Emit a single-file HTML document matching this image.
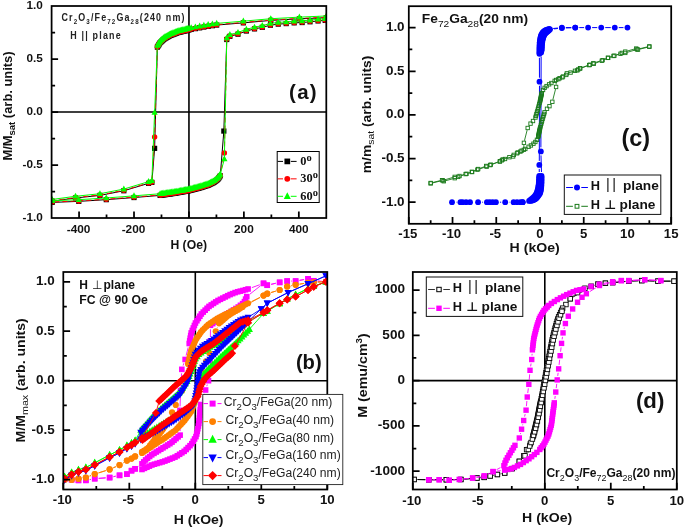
<!DOCTYPE html>
<html lang="en">
<head>
<meta charset="utf-8">
<title>Hysteresis loops</title>
<style>html,body{margin:0;padding:0;background:#fff}body{width:685px;height:528px;overflow:hidden}svg text{white-space:pre}</style>
</head>
<body>
<svg width="685" height="528" viewBox="0 0 685 528" style="display:block">
<rect width="685" height="528" fill="#fff"/>
<path d="M51.6 112H326.3M188.95 6V218" stroke="#000" stroke-width="1.6" fill="none"/>
<clipPath id="ca"><rect x="51.6" y="6" width="274.7" height="212"/></clipPath><g clip-path="url(#ca)">
<path d="M326.3 17.66L299.38 18.83L270.81 20.42L243.34 22.85L216.69 25.08L212.42 25.72L208.15 26.37L203.89 27.06L199.64 27.85L195.39 28.64L191.15 29.43L188.95 29.96L187.7 30.26L186.45 30.56L185.2 30.86L183.95 31.16L182.7 31.46L181.46 31.76L180.21 32.06L178.96 32.37L177.72 32.7L176.52 33.16L175.32 33.62L174.12 34.09L172.92 34.55L171.73 35.01L170.53 35.48L169.36 36L168.24 36.64L167.13 37.28L166.02 37.93L164.91 38.57L163.86 39.3L162.9 40.16L161.95 41.02L160.99 41.88L160.06 42.75L159.38 43.85L158.71 44.94L158.03 46.03L157.36 47.13L154.61 148.36L151.87 182.38L148.57 183.34L123.85 190.76L99.95 195.42L75.5 197.97L52.15 201.15L52.15 202.42L78.8 201.36L106.27 199.66L134.01 197.54L160.11 195.42L161.39 195.23L162.68 195.04L163.96 194.85L165.24 194.67L166.53 194.48L167.81 194.29L169.1 194.1L170.38 193.91L171.67 193.72L172.95 193.53L174.23 193.34L175.52 193.14L176.79 192.92L178.07 192.69L179.35 192.46L180.63 192.23L181.91 192.01L183.19 191.78L184.46 191.55L185.74 191.33L187.02 191.1L188.3 190.87L189.57 190.6L190.82 190.27L192.08 189.94L193.33 189.62L194.59 189.29L195.85 188.96L197.1 188.63L198.36 188.31L199.62 187.98L200.86 187.6L202.09 187.2L203.33 186.81L204.56 186.41L205.8 186.01L207.04 185.61L208.27 185.2L209.44 184.64L210.61 184.08L211.77 183.51L212.94 182.95L214.06 182.3L215.09 181.5L216.11 180.71L217.14 179.92L218.06 179.02L218.8 177.95L219.53 176.88L220.27 175.81L223.84 131.08L226.75 39.5L229.88 36.32L237.98 34.2L246.36 31.02L254.52 28.9L262.29 27.31L270.4 25.19L278.23 24.13L286.19 23.6L294.16 22.85L302.13 22.54L310.01 21.79L318.06 20.95L325.2 20.42" fill="none" stroke="#000" stroke-width="1"/>
<g><rect x="323.7" y="15.06" width="5.2" height="5.2" fill="#000"/><rect x="296.78" y="16.23" width="5.2" height="5.2" fill="#000"/><rect x="268.21" y="17.82" width="5.2" height="5.2" fill="#000"/><rect x="240.74" y="20.25" width="5.2" height="5.2" fill="#000"/><rect x="214.09" y="22.48" width="5.2" height="5.2" fill="#000"/><rect x="209.82" y="23.12" width="5.2" height="5.2" fill="#000"/><rect x="205.55" y="23.77" width="5.2" height="5.2" fill="#000"/><rect x="201.29" y="24.46" width="5.2" height="5.2" fill="#000"/><rect x="197.04" y="25.25" width="5.2" height="5.2" fill="#000"/><rect x="192.79" y="26.04" width="5.2" height="5.2" fill="#000"/><rect x="188.55" y="26.83" width="5.2" height="5.2" fill="#000"/><rect x="186.35" y="27.36" width="5.2" height="5.2" fill="#000"/><rect x="185.1" y="27.66" width="5.2" height="5.2" fill="#000"/><rect x="183.85" y="27.96" width="5.2" height="5.2" fill="#000"/><rect x="182.6" y="28.26" width="5.2" height="5.2" fill="#000"/><rect x="181.35" y="28.56" width="5.2" height="5.2" fill="#000"/><rect x="180.1" y="28.86" width="5.2" height="5.2" fill="#000"/><rect x="178.86" y="29.16" width="5.2" height="5.2" fill="#000"/><rect x="177.61" y="29.46" width="5.2" height="5.2" fill="#000"/><rect x="176.36" y="29.77" width="5.2" height="5.2" fill="#000"/><rect x="175.12" y="30.1" width="5.2" height="5.2" fill="#000"/><rect x="173.92" y="30.56" width="5.2" height="5.2" fill="#000"/><rect x="172.72" y="31.02" width="5.2" height="5.2" fill="#000"/><rect x="171.52" y="31.49" width="5.2" height="5.2" fill="#000"/><rect x="170.32" y="31.95" width="5.2" height="5.2" fill="#000"/><rect x="169.13" y="32.41" width="5.2" height="5.2" fill="#000"/><rect x="167.93" y="32.88" width="5.2" height="5.2" fill="#000"/><rect x="166.76" y="33.4" width="5.2" height="5.2" fill="#000"/><rect x="165.64" y="34.04" width="5.2" height="5.2" fill="#000"/><rect x="164.53" y="34.68" width="5.2" height="5.2" fill="#000"/><rect x="163.42" y="35.33" width="5.2" height="5.2" fill="#000"/><rect x="162.31" y="35.97" width="5.2" height="5.2" fill="#000"/><rect x="161.26" y="36.7" width="5.2" height="5.2" fill="#000"/><rect x="160.3" y="37.56" width="5.2" height="5.2" fill="#000"/><rect x="159.35" y="38.42" width="5.2" height="5.2" fill="#000"/><rect x="158.39" y="39.28" width="5.2" height="5.2" fill="#000"/><rect x="157.46" y="40.15" width="5.2" height="5.2" fill="#000"/><rect x="156.78" y="41.25" width="5.2" height="5.2" fill="#000"/><rect x="156.11" y="42.34" width="5.2" height="5.2" fill="#000"/><rect x="155.43" y="43.43" width="5.2" height="5.2" fill="#000"/><rect x="154.76" y="44.53" width="5.2" height="5.2" fill="#000"/><rect x="152.01" y="145.76" width="5.2" height="5.2" fill="#000"/><rect x="149.27" y="179.78" width="5.2" height="5.2" fill="#000"/><rect x="145.97" y="180.74" width="5.2" height="5.2" fill="#000"/><rect x="121.25" y="188.16" width="5.2" height="5.2" fill="#000"/><rect x="97.35" y="192.82" width="5.2" height="5.2" fill="#000"/><rect x="72.9" y="195.37" width="5.2" height="5.2" fill="#000"/><rect x="49.55" y="198.55" width="5.2" height="5.2" fill="#000"/><rect x="49.55" y="199.82" width="5.2" height="5.2" fill="#000"/><rect x="76.2" y="198.76" width="5.2" height="5.2" fill="#000"/><rect x="103.67" y="197.06" width="5.2" height="5.2" fill="#000"/><rect x="131.41" y="194.94" width="5.2" height="5.2" fill="#000"/><rect x="157.51" y="192.82" width="5.2" height="5.2" fill="#000"/><rect x="158.79" y="192.63" width="5.2" height="5.2" fill="#000"/><rect x="160.08" y="192.44" width="5.2" height="5.2" fill="#000"/><rect x="161.36" y="192.25" width="5.2" height="5.2" fill="#000"/><rect x="162.64" y="192.07" width="5.2" height="5.2" fill="#000"/><rect x="163.93" y="191.88" width="5.2" height="5.2" fill="#000"/><rect x="165.21" y="191.69" width="5.2" height="5.2" fill="#000"/><rect x="166.5" y="191.5" width="5.2" height="5.2" fill="#000"/><rect x="167.78" y="191.31" width="5.2" height="5.2" fill="#000"/><rect x="169.07" y="191.12" width="5.2" height="5.2" fill="#000"/><rect x="170.35" y="190.93" width="5.2" height="5.2" fill="#000"/><rect x="171.63" y="190.74" width="5.2" height="5.2" fill="#000"/><rect x="172.92" y="190.54" width="5.2" height="5.2" fill="#000"/><rect x="174.19" y="190.32" width="5.2" height="5.2" fill="#000"/><rect x="175.47" y="190.09" width="5.2" height="5.2" fill="#000"/><rect x="176.75" y="189.86" width="5.2" height="5.2" fill="#000"/><rect x="178.03" y="189.63" width="5.2" height="5.2" fill="#000"/><rect x="179.31" y="189.41" width="5.2" height="5.2" fill="#000"/><rect x="180.59" y="189.18" width="5.2" height="5.2" fill="#000"/><rect x="181.86" y="188.95" width="5.2" height="5.2" fill="#000"/><rect x="183.14" y="188.73" width="5.2" height="5.2" fill="#000"/><rect x="184.42" y="188.5" width="5.2" height="5.2" fill="#000"/><rect x="185.7" y="188.27" width="5.2" height="5.2" fill="#000"/><rect x="186.97" y="188" width="5.2" height="5.2" fill="#000"/><rect x="188.22" y="187.67" width="5.2" height="5.2" fill="#000"/><rect x="189.48" y="187.34" width="5.2" height="5.2" fill="#000"/><rect x="190.73" y="187.02" width="5.2" height="5.2" fill="#000"/><rect x="191.99" y="186.69" width="5.2" height="5.2" fill="#000"/><rect x="193.25" y="186.36" width="5.2" height="5.2" fill="#000"/><rect x="194.5" y="186.03" width="5.2" height="5.2" fill="#000"/><rect x="195.76" y="185.71" width="5.2" height="5.2" fill="#000"/><rect x="197.02" y="185.38" width="5.2" height="5.2" fill="#000"/><rect x="198.26" y="185" width="5.2" height="5.2" fill="#000"/><rect x="199.49" y="184.6" width="5.2" height="5.2" fill="#000"/><rect x="200.73" y="184.21" width="5.2" height="5.2" fill="#000"/><rect x="201.96" y="183.81" width="5.2" height="5.2" fill="#000"/><rect x="203.2" y="183.41" width="5.2" height="5.2" fill="#000"/><rect x="204.44" y="183.01" width="5.2" height="5.2" fill="#000"/><rect x="205.67" y="182.6" width="5.2" height="5.2" fill="#000"/><rect x="206.84" y="182.04" width="5.2" height="5.2" fill="#000"/><rect x="208.01" y="181.48" width="5.2" height="5.2" fill="#000"/><rect x="209.17" y="180.91" width="5.2" height="5.2" fill="#000"/><rect x="210.34" y="180.35" width="5.2" height="5.2" fill="#000"/><rect x="211.46" y="179.7" width="5.2" height="5.2" fill="#000"/><rect x="212.49" y="178.9" width="5.2" height="5.2" fill="#000"/><rect x="213.51" y="178.11" width="5.2" height="5.2" fill="#000"/><rect x="214.54" y="177.32" width="5.2" height="5.2" fill="#000"/><rect x="215.46" y="176.42" width="5.2" height="5.2" fill="#000"/><rect x="216.2" y="175.35" width="5.2" height="5.2" fill="#000"/><rect x="216.93" y="174.28" width="5.2" height="5.2" fill="#000"/><rect x="217.67" y="173.21" width="5.2" height="5.2" fill="#000"/><rect x="221.24" y="128.48" width="5.2" height="5.2" fill="#000"/><rect x="224.15" y="36.9" width="5.2" height="5.2" fill="#000"/><rect x="227.28" y="33.72" width="5.2" height="5.2" fill="#000"/><rect x="235.38" y="31.6" width="5.2" height="5.2" fill="#000"/><rect x="243.76" y="28.42" width="5.2" height="5.2" fill="#000"/><rect x="251.92" y="26.3" width="5.2" height="5.2" fill="#000"/><rect x="259.69" y="24.71" width="5.2" height="5.2" fill="#000"/><rect x="267.8" y="22.59" width="5.2" height="5.2" fill="#000"/><rect x="275.63" y="21.53" width="5.2" height="5.2" fill="#000"/><rect x="283.59" y="21" width="5.2" height="5.2" fill="#000"/><rect x="291.56" y="20.25" width="5.2" height="5.2" fill="#000"/><rect x="299.53" y="19.94" width="5.2" height="5.2" fill="#000"/><rect x="307.41" y="19.19" width="5.2" height="5.2" fill="#000"/><rect x="315.46" y="18.35" width="5.2" height="5.2" fill="#000"/><rect x="322.6" y="17.82" width="5.2" height="5.2" fill="#000"/></g>
<path d="M326.3 17.24L299.38 18.4L270.81 19.99L243.34 22.43L216.69 24.66L212.42 25.3L208.15 25.94L203.89 26.64L199.64 27.43L195.39 28.21L191.15 29L188.95 29.53L187.7 29.83L186.45 30.13L185.2 30.44L183.95 30.74L182.7 31.04L181.46 31.34L180.21 31.64L178.96 31.94L177.72 32.28L176.52 32.74L175.32 33.2L174.12 33.66L172.92 34.13L171.73 34.59L170.53 35.05L169.36 35.57L168.24 36.22L167.13 36.86L166.02 37.5L164.91 38.15L163.86 38.87L162.9 39.73L161.95 40.59L160.99 41.45L160.06 42.33L159.38 43.42L158.71 44.52L158.03 45.61L157.36 46.7L154.61 136.91L151.87 181.96L148.57 182.91L123.85 190.33L99.95 195L75.5 197.54L52.15 200.72L52.15 201.99L78.8 200.93L106.27 199.24L134.01 197.12L160.11 195L161.39 194.81L162.68 194.62L163.96 194.43L165.24 194.24L166.53 194.05L167.81 193.86L169.1 193.67L170.38 193.48L171.67 193.3L172.95 193.11L174.23 192.92L175.52 192.72L176.79 192.49L178.07 192.26L179.35 192.04L180.63 191.81L181.91 191.58L183.19 191.36L184.46 191.13L185.74 190.9L187.02 190.68L188.3 190.45L189.57 190.17L190.82 189.85L192.08 189.52L193.33 189.19L194.59 188.86L195.85 188.54L197.1 188.21L198.36 187.88L199.62 187.56L200.86 187.18L202.09 186.78L203.33 186.38L204.56 185.98L205.8 185.59L207.04 185.19L208.27 184.78L209.44 184.22L210.61 183.65L211.77 183.09L212.94 182.52L214.06 181.87L215.09 181.08L216.11 180.29L217.14 179.49L218.06 178.6L218.8 177.53L219.53 176.46L220.27 175.39L224.39 152.92L226.75 39.07L229.88 35.89L237.98 33.77L246.36 30.59L254.52 28.47L262.29 26.88L270.4 24.76L278.23 23.7L286.19 23.17L294.16 22.43L302.13 22.11L310.01 21.37L318.06 20.52L325.2 19.99" fill="none" stroke="#ff0000" stroke-width="1" stroke-dasharray="5 3"/>
<g><circle cx="326.3" cy="17.24" r="2.7" fill="#ff0000"/><circle cx="299.38" cy="18.4" r="2.7" fill="#ff0000"/><circle cx="270.81" cy="19.99" r="2.7" fill="#ff0000"/><circle cx="243.34" cy="22.43" r="2.7" fill="#ff0000"/><circle cx="216.69" cy="24.66" r="2.7" fill="#ff0000"/><circle cx="212.42" cy="25.3" r="2.7" fill="#ff0000"/><circle cx="208.15" cy="25.94" r="2.7" fill="#ff0000"/><circle cx="203.89" cy="26.64" r="2.7" fill="#ff0000"/><circle cx="199.64" cy="27.43" r="2.7" fill="#ff0000"/><circle cx="195.39" cy="28.21" r="2.7" fill="#ff0000"/><circle cx="191.15" cy="29" r="2.7" fill="#ff0000"/><circle cx="188.95" cy="29.53" r="2.7" fill="#ff0000"/><circle cx="187.7" cy="29.83" r="2.7" fill="#ff0000"/><circle cx="186.45" cy="30.13" r="2.7" fill="#ff0000"/><circle cx="185.2" cy="30.44" r="2.7" fill="#ff0000"/><circle cx="183.95" cy="30.74" r="2.7" fill="#ff0000"/><circle cx="182.7" cy="31.04" r="2.7" fill="#ff0000"/><circle cx="181.46" cy="31.34" r="2.7" fill="#ff0000"/><circle cx="180.21" cy="31.64" r="2.7" fill="#ff0000"/><circle cx="178.96" cy="31.94" r="2.7" fill="#ff0000"/><circle cx="177.72" cy="32.28" r="2.7" fill="#ff0000"/><circle cx="176.52" cy="32.74" r="2.7" fill="#ff0000"/><circle cx="175.32" cy="33.2" r="2.7" fill="#ff0000"/><circle cx="174.12" cy="33.66" r="2.7" fill="#ff0000"/><circle cx="172.92" cy="34.13" r="2.7" fill="#ff0000"/><circle cx="171.73" cy="34.59" r="2.7" fill="#ff0000"/><circle cx="170.53" cy="35.05" r="2.7" fill="#ff0000"/><circle cx="169.36" cy="35.57" r="2.7" fill="#ff0000"/><circle cx="168.24" cy="36.22" r="2.7" fill="#ff0000"/><circle cx="167.13" cy="36.86" r="2.7" fill="#ff0000"/><circle cx="166.02" cy="37.5" r="2.7" fill="#ff0000"/><circle cx="164.91" cy="38.15" r="2.7" fill="#ff0000"/><circle cx="163.86" cy="38.87" r="2.7" fill="#ff0000"/><circle cx="162.9" cy="39.73" r="2.7" fill="#ff0000"/><circle cx="161.95" cy="40.59" r="2.7" fill="#ff0000"/><circle cx="160.99" cy="41.45" r="2.7" fill="#ff0000"/><circle cx="160.06" cy="42.33" r="2.7" fill="#ff0000"/><circle cx="159.38" cy="43.42" r="2.7" fill="#ff0000"/><circle cx="158.71" cy="44.52" r="2.7" fill="#ff0000"/><circle cx="158.03" cy="45.61" r="2.7" fill="#ff0000"/><circle cx="157.36" cy="46.7" r="2.7" fill="#ff0000"/><circle cx="154.61" cy="136.91" r="2.7" fill="#ff0000"/><circle cx="151.87" cy="181.96" r="2.7" fill="#ff0000"/><circle cx="148.57" cy="182.91" r="2.7" fill="#ff0000"/><circle cx="123.85" cy="190.33" r="2.7" fill="#ff0000"/><circle cx="99.95" cy="195" r="2.7" fill="#ff0000"/><circle cx="75.5" cy="197.54" r="2.7" fill="#ff0000"/><circle cx="52.15" cy="200.72" r="2.7" fill="#ff0000"/><circle cx="52.15" cy="201.99" r="2.7" fill="#ff0000"/><circle cx="78.8" cy="200.93" r="2.7" fill="#ff0000"/><circle cx="106.27" cy="199.24" r="2.7" fill="#ff0000"/><circle cx="134.01" cy="197.12" r="2.7" fill="#ff0000"/><circle cx="160.11" cy="195" r="2.7" fill="#ff0000"/><circle cx="161.39" cy="194.81" r="2.7" fill="#ff0000"/><circle cx="162.68" cy="194.62" r="2.7" fill="#ff0000"/><circle cx="163.96" cy="194.43" r="2.7" fill="#ff0000"/><circle cx="165.24" cy="194.24" r="2.7" fill="#ff0000"/><circle cx="166.53" cy="194.05" r="2.7" fill="#ff0000"/><circle cx="167.81" cy="193.86" r="2.7" fill="#ff0000"/><circle cx="169.1" cy="193.67" r="2.7" fill="#ff0000"/><circle cx="170.38" cy="193.48" r="2.7" fill="#ff0000"/><circle cx="171.67" cy="193.3" r="2.7" fill="#ff0000"/><circle cx="172.95" cy="193.11" r="2.7" fill="#ff0000"/><circle cx="174.23" cy="192.92" r="2.7" fill="#ff0000"/><circle cx="175.52" cy="192.72" r="2.7" fill="#ff0000"/><circle cx="176.79" cy="192.49" r="2.7" fill="#ff0000"/><circle cx="178.07" cy="192.26" r="2.7" fill="#ff0000"/><circle cx="179.35" cy="192.04" r="2.7" fill="#ff0000"/><circle cx="180.63" cy="191.81" r="2.7" fill="#ff0000"/><circle cx="181.91" cy="191.58" r="2.7" fill="#ff0000"/><circle cx="183.19" cy="191.36" r="2.7" fill="#ff0000"/><circle cx="184.46" cy="191.13" r="2.7" fill="#ff0000"/><circle cx="185.74" cy="190.9" r="2.7" fill="#ff0000"/><circle cx="187.02" cy="190.68" r="2.7" fill="#ff0000"/><circle cx="188.3" cy="190.45" r="2.7" fill="#ff0000"/><circle cx="189.57" cy="190.17" r="2.7" fill="#ff0000"/><circle cx="190.82" cy="189.85" r="2.7" fill="#ff0000"/><circle cx="192.08" cy="189.52" r="2.7" fill="#ff0000"/><circle cx="193.33" cy="189.19" r="2.7" fill="#ff0000"/><circle cx="194.59" cy="188.86" r="2.7" fill="#ff0000"/><circle cx="195.85" cy="188.54" r="2.7" fill="#ff0000"/><circle cx="197.1" cy="188.21" r="2.7" fill="#ff0000"/><circle cx="198.36" cy="187.88" r="2.7" fill="#ff0000"/><circle cx="199.62" cy="187.56" r="2.7" fill="#ff0000"/><circle cx="200.86" cy="187.18" r="2.7" fill="#ff0000"/><circle cx="202.09" cy="186.78" r="2.7" fill="#ff0000"/><circle cx="203.33" cy="186.38" r="2.7" fill="#ff0000"/><circle cx="204.56" cy="185.98" r="2.7" fill="#ff0000"/><circle cx="205.8" cy="185.59" r="2.7" fill="#ff0000"/><circle cx="207.04" cy="185.19" r="2.7" fill="#ff0000"/><circle cx="208.27" cy="184.78" r="2.7" fill="#ff0000"/><circle cx="209.44" cy="184.22" r="2.7" fill="#ff0000"/><circle cx="210.61" cy="183.65" r="2.7" fill="#ff0000"/><circle cx="211.77" cy="183.09" r="2.7" fill="#ff0000"/><circle cx="212.94" cy="182.52" r="2.7" fill="#ff0000"/><circle cx="214.06" cy="181.87" r="2.7" fill="#ff0000"/><circle cx="215.09" cy="181.08" r="2.7" fill="#ff0000"/><circle cx="216.11" cy="180.29" r="2.7" fill="#ff0000"/><circle cx="217.14" cy="179.49" r="2.7" fill="#ff0000"/><circle cx="218.06" cy="178.6" r="2.7" fill="#ff0000"/><circle cx="218.8" cy="177.53" r="2.7" fill="#ff0000"/><circle cx="219.53" cy="176.46" r="2.7" fill="#ff0000"/><circle cx="220.27" cy="175.39" r="2.7" fill="#ff0000"/><circle cx="224.39" cy="152.92" r="2.7" fill="#ff0000"/><circle cx="226.75" cy="39.07" r="2.7" fill="#ff0000"/><circle cx="229.88" cy="35.89" r="2.7" fill="#ff0000"/><circle cx="237.98" cy="33.77" r="2.7" fill="#ff0000"/><circle cx="246.36" cy="30.59" r="2.7" fill="#ff0000"/><circle cx="254.52" cy="28.47" r="2.7" fill="#ff0000"/><circle cx="262.29" cy="26.88" r="2.7" fill="#ff0000"/><circle cx="270.4" cy="24.76" r="2.7" fill="#ff0000"/><circle cx="278.23" cy="23.7" r="2.7" fill="#ff0000"/><circle cx="286.19" cy="23.17" r="2.7" fill="#ff0000"/><circle cx="294.16" cy="22.43" r="2.7" fill="#ff0000"/><circle cx="302.13" cy="22.11" r="2.7" fill="#ff0000"/><circle cx="310.01" cy="21.37" r="2.7" fill="#ff0000"/><circle cx="318.06" cy="20.52" r="2.7" fill="#ff0000"/><circle cx="325.2" cy="19.99" r="2.7" fill="#ff0000"/></g>
<path d="M326.3 15.96L299.38 17.13L270.81 18.72L243.34 21.16L216.69 23.38L212.42 24.03L208.15 24.67L203.89 25.37L199.64 26.15L195.39 26.94L191.15 27.73L188.95 28.26L187.7 28.56L186.45 28.86L185.2 29.16L183.95 29.46L182.7 29.77L181.46 30.07L180.21 30.37L178.96 30.67L177.72 31L176.52 31.47L175.32 31.93L174.12 32.39L172.92 32.85L171.73 33.32L170.53 33.78L169.36 34.3L168.24 34.94L167.13 35.59L166.02 36.23L164.91 36.88L163.86 37.6L162.9 38.46L161.95 39.32L160.99 40.18L160.06 41.06L159.38 42.15L158.71 43.25L158.03 44.34L157.36 45.43L154.61 112.53L151.87 180.69L148.57 181.64L123.85 189.06L99.95 193.73L75.5 196.27L52.15 199.45L52.15 200.72L78.8 199.66L106.27 197.97L134.01 195.85L160.11 193.73L161.39 193.54L162.68 193.35L163.96 193.16L165.24 192.97L166.53 192.78L167.81 192.59L169.1 192.4L170.38 192.21L171.67 192.02L172.95 191.83L174.23 191.64L175.52 191.45L176.79 191.22L178.07 190.99L179.35 190.77L180.63 190.54L181.91 190.31L183.19 190.09L184.46 189.86L185.74 189.63L187.02 189.4L188.3 189.18L189.57 188.9L190.82 188.57L192.08 188.25L193.33 187.92L194.59 187.59L195.85 187.27L197.1 186.94L198.36 186.61L199.62 186.28L200.86 185.9L202.09 185.51L203.33 185.11L204.56 184.71L205.8 184.32L207.04 183.92L208.27 183.51L209.44 182.94L210.61 182.38L211.77 181.82L212.94 181.25L214.06 180.6L215.09 179.81L216.11 179.02L217.14 178.22L218.06 177.33L218.8 176.26L219.53 175.19L220.27 174.12L224.39 158.96L226.75 37.8L229.88 34.62L237.98 32.5L246.36 29.32L254.52 27.2L262.29 25.61L270.4 23.49L278.23 22.43L286.19 21.9L294.16 21.16L302.13 20.84L310.01 20.1L318.06 19.25L325.2 18.72" fill="none" stroke="#00ff00" stroke-width="1"/>
<g><path d="M326.3 12.4L329.4 18.29L323.2 18.29Z" fill="#00ff00"/><path d="M299.38 13.56L302.48 19.45L296.28 19.45Z" fill="#00ff00"/><path d="M270.81 15.15L273.91 21.04L267.71 21.04Z" fill="#00ff00"/><path d="M243.34 17.59L246.44 23.48L240.24 23.48Z" fill="#00ff00"/><path d="M216.69 19.82L219.79 25.71L213.59 25.71Z" fill="#00ff00"/><path d="M212.42 20.46L215.52 26.35L209.32 26.35Z" fill="#00ff00"/><path d="M208.15 21.11L211.25 27L205.05 27Z" fill="#00ff00"/><path d="M203.89 21.8L206.99 27.69L200.79 27.69Z" fill="#00ff00"/><path d="M199.64 22.59L202.74 28.48L196.54 28.48Z" fill="#00ff00"/><path d="M195.39 23.38L198.49 29.27L192.29 29.27Z" fill="#00ff00"/><path d="M191.15 24.17L194.25 30.06L188.05 30.06Z" fill="#00ff00"/><path d="M188.95 24.69L192.05 30.58L185.85 30.58Z" fill="#00ff00"/><path d="M187.7 25L190.8 30.89L184.6 30.89Z" fill="#00ff00"/><path d="M186.45 25.3L189.55 31.19L183.35 31.19Z" fill="#00ff00"/><path d="M185.2 25.6L188.3 31.49L182.1 31.49Z" fill="#00ff00"/><path d="M183.95 25.9L187.05 31.79L180.85 31.79Z" fill="#00ff00"/><path d="M182.7 26.2L185.8 32.09L179.6 32.09Z" fill="#00ff00"/><path d="M181.46 26.5L184.56 32.39L178.36 32.39Z" fill="#00ff00"/><path d="M180.21 26.8L183.31 32.69L177.11 32.69Z" fill="#00ff00"/><path d="M178.96 27.1L182.06 32.99L175.86 32.99Z" fill="#00ff00"/><path d="M177.72 27.44L180.82 33.33L174.62 33.33Z" fill="#00ff00"/><path d="M176.52 27.9L179.62 33.79L173.42 33.79Z" fill="#00ff00"/><path d="M175.32 28.36L178.42 34.25L172.22 34.25Z" fill="#00ff00"/><path d="M174.12 28.83L177.22 34.72L171.02 34.72Z" fill="#00ff00"/><path d="M172.92 29.29L176.02 35.18L169.82 35.18Z" fill="#00ff00"/><path d="M171.73 29.75L174.83 35.64L168.63 35.64Z" fill="#00ff00"/><path d="M170.53 30.21L173.63 36.1L167.43 36.1Z" fill="#00ff00"/><path d="M169.36 30.74L172.46 36.63L166.26 36.63Z" fill="#00ff00"/><path d="M168.24 31.38L171.34 37.27L165.14 37.27Z" fill="#00ff00"/><path d="M167.13 32.02L170.23 37.91L164.03 37.91Z" fill="#00ff00"/><path d="M166.02 32.67L169.12 38.56L162.92 38.56Z" fill="#00ff00"/><path d="M164.91 33.31L168.01 39.2L161.81 39.2Z" fill="#00ff00"/><path d="M163.86 34.04L166.96 39.93L160.76 39.93Z" fill="#00ff00"/><path d="M162.9 34.9L166 40.79L159.8 40.79Z" fill="#00ff00"/><path d="M161.95 35.76L165.05 41.65L158.85 41.65Z" fill="#00ff00"/><path d="M160.99 36.62L164.09 42.51L157.89 42.51Z" fill="#00ff00"/><path d="M160.06 37.49L163.16 43.38L156.96 43.38Z" fill="#00ff00"/><path d="M159.38 38.59L162.48 44.48L156.28 44.48Z" fill="#00ff00"/><path d="M158.71 39.68L161.81 45.57L155.61 45.57Z" fill="#00ff00"/><path d="M158.03 40.77L161.13 46.66L154.93 46.66Z" fill="#00ff00"/><path d="M157.36 41.87L160.46 47.76L154.26 47.76Z" fill="#00ff00"/><path d="M154.61 108.97L157.71 114.86L151.51 114.86Z" fill="#00ff00"/><path d="M151.87 177.12L154.97 183.01L148.77 183.01Z" fill="#00ff00"/><path d="M148.57 178.08L151.67 183.97L145.47 183.97Z" fill="#00ff00"/><path d="M123.85 185.5L126.95 191.39L120.75 191.39Z" fill="#00ff00"/><path d="M99.95 190.16L103.05 196.05L96.85 196.05Z" fill="#00ff00"/><path d="M75.5 192.71L78.6 198.59L72.4 198.59Z" fill="#00ff00"/><path d="M52.15 195.88L55.25 201.77L49.05 201.77Z" fill="#00ff00"/><path d="M52.15 197.16L55.25 203.05L49.05 203.05Z" fill="#00ff00"/><path d="M78.8 196.1L81.9 201.99L75.7 201.99Z" fill="#00ff00"/><path d="M106.27 194.4L109.37 200.29L103.17 200.29Z" fill="#00ff00"/><path d="M134.01 192.28L137.11 198.17L130.91 198.17Z" fill="#00ff00"/><path d="M160.11 190.16L163.21 196.05L157.01 196.05Z" fill="#00ff00"/><path d="M161.39 189.97L164.49 195.86L158.29 195.86Z" fill="#00ff00"/><path d="M162.68 189.78L165.78 195.67L159.58 195.67Z" fill="#00ff00"/><path d="M163.96 189.59L167.06 195.48L160.86 195.48Z" fill="#00ff00"/><path d="M165.24 189.4L168.34 195.29L162.14 195.29Z" fill="#00ff00"/><path d="M166.53 189.21L169.63 195.1L163.43 195.1Z" fill="#00ff00"/><path d="M167.81 189.03L170.91 194.92L164.71 194.92Z" fill="#00ff00"/><path d="M169.1 188.84L172.2 194.73L166 194.73Z" fill="#00ff00"/><path d="M170.38 188.65L173.48 194.54L167.28 194.54Z" fill="#00ff00"/><path d="M171.67 188.46L174.77 194.35L168.57 194.35Z" fill="#00ff00"/><path d="M172.95 188.27L176.05 194.16L169.85 194.16Z" fill="#00ff00"/><path d="M174.23 188.08L177.33 193.97L171.13 193.97Z" fill="#00ff00"/><path d="M175.52 187.88L178.62 193.77L172.42 193.77Z" fill="#00ff00"/><path d="M176.79 187.65L179.89 193.54L173.69 193.54Z" fill="#00ff00"/><path d="M178.07 187.43L181.17 193.32L174.97 193.32Z" fill="#00ff00"/><path d="M179.35 187.2L182.45 193.09L176.25 193.09Z" fill="#00ff00"/><path d="M180.63 186.97L183.73 192.86L177.53 192.86Z" fill="#00ff00"/><path d="M181.91 186.75L185.01 192.64L178.81 192.64Z" fill="#00ff00"/><path d="M183.19 186.52L186.29 192.41L180.09 192.41Z" fill="#00ff00"/><path d="M184.46 186.29L187.56 192.18L181.36 192.18Z" fill="#00ff00"/><path d="M185.74 186.07L188.84 191.96L182.64 191.96Z" fill="#00ff00"/><path d="M187.02 185.84L190.12 191.73L183.92 191.73Z" fill="#00ff00"/><path d="M188.3 185.61L191.4 191.5L185.2 191.5Z" fill="#00ff00"/><path d="M189.57 185.34L192.67 191.23L186.47 191.23Z" fill="#00ff00"/><path d="M190.82 185.01L193.92 190.9L187.72 190.9Z" fill="#00ff00"/><path d="M192.08 184.68L195.18 190.57L188.98 190.57Z" fill="#00ff00"/><path d="M193.33 184.36L196.43 190.25L190.23 190.25Z" fill="#00ff00"/><path d="M194.59 184.03L197.69 189.92L191.49 189.92Z" fill="#00ff00"/><path d="M195.85 183.7L198.95 189.59L192.75 189.59Z" fill="#00ff00"/><path d="M197.1 183.37L200.2 189.26L194 189.26Z" fill="#00ff00"/><path d="M198.36 183.05L201.46 188.94L195.26 188.94Z" fill="#00ff00"/><path d="M199.62 182.72L202.72 188.61L196.52 188.61Z" fill="#00ff00"/><path d="M200.86 182.34L203.96 188.23L197.76 188.23Z" fill="#00ff00"/><path d="M202.09 181.94L205.19 187.83L198.99 187.83Z" fill="#00ff00"/><path d="M203.33 181.54L206.43 187.43L200.23 187.43Z" fill="#00ff00"/><path d="M204.56 181.15L207.66 187.04L201.46 187.04Z" fill="#00ff00"/><path d="M205.8 180.75L208.9 186.64L202.7 186.64Z" fill="#00ff00"/><path d="M207.04 180.35L210.14 186.24L203.94 186.24Z" fill="#00ff00"/><path d="M208.27 179.94L211.37 185.83L205.17 185.83Z" fill="#00ff00"/><path d="M209.44 179.38L212.54 185.27L206.34 185.27Z" fill="#00ff00"/><path d="M210.61 178.81L213.71 184.7L207.51 184.7Z" fill="#00ff00"/><path d="M211.77 178.25L214.87 184.14L208.67 184.14Z" fill="#00ff00"/><path d="M212.94 177.69L216.04 183.58L209.84 183.58Z" fill="#00ff00"/><path d="M214.06 177.04L217.16 182.93L210.96 182.93Z" fill="#00ff00"/><path d="M215.09 176.24L218.19 182.13L211.99 182.13Z" fill="#00ff00"/><path d="M216.11 175.45L219.21 181.34L213.01 181.34Z" fill="#00ff00"/><path d="M217.14 174.66L220.24 180.55L214.04 180.55Z" fill="#00ff00"/><path d="M218.06 173.76L221.16 179.65L214.96 179.65Z" fill="#00ff00"/><path d="M218.8 172.69L221.9 178.58L215.7 178.58Z" fill="#00ff00"/><path d="M219.53 171.62L222.63 177.51L216.43 177.51Z" fill="#00ff00"/><path d="M220.27 170.55L223.37 176.44L217.17 176.44Z" fill="#00ff00"/><path d="M224.39 155.39L227.49 161.28L221.29 161.28Z" fill="#00ff00"/><path d="M226.75 34.24L229.85 40.13L223.65 40.13Z" fill="#00ff00"/><path d="M229.88 31.06L232.98 36.95L226.78 36.95Z" fill="#00ff00"/><path d="M237.98 28.93L241.08 34.83L234.88 34.83Z" fill="#00ff00"/><path d="M246.36 25.75L249.46 31.64L243.26 31.64Z" fill="#00ff00"/><path d="M254.52 23.63L257.62 29.52L251.42 29.52Z" fill="#00ff00"/><path d="M262.29 22.05L265.39 27.94L259.19 27.94Z" fill="#00ff00"/><path d="M270.4 19.93L273.5 25.82L267.3 25.82Z" fill="#00ff00"/><path d="M278.23 18.87L281.33 24.76L275.13 24.76Z" fill="#00ff00"/><path d="M286.19 18.33L289.29 24.22L283.09 24.22Z" fill="#00ff00"/><path d="M294.16 17.59L297.26 23.48L291.06 23.48Z" fill="#00ff00"/><path d="M302.13 17.28L305.23 23.17L299.03 23.17Z" fill="#00ff00"/><path d="M310.01 16.53L313.11 22.42L306.91 22.42Z" fill="#00ff00"/><path d="M318.06 15.69L321.16 21.57L314.96 21.57Z" fill="#00ff00"/><path d="M325.2 15.15L328.3 21.04L322.1 21.04Z" fill="#00ff00"/></g>
</g>
<path d="M79.07 218V211.5M134.01 218V211.5M188.95 218V211.5M243.89 218V211.5M298.83 218V211.5M106.54 218V214.5M161.48 218V214.5M216.42 218V214.5M271.36 218V214.5M51.6 165H58.1M51.6 112H58.1M51.6 59H58.1M51.6 191.5H55.1M51.6 138.5H55.1M51.6 85.5H55.1M51.6 32.5H55.1" stroke="#000" stroke-width="1.75" fill="none"/>
<rect x="51.6" y="6" width="274.7" height="212" fill="none" stroke="#000" stroke-width="1.75"/>
<text x="42.8" y="9.2" font-family='"Liberation Sans", Arial, Helvetica, sans-serif' font-size="10.8" font-weight="bold" text-anchor="end" fill="#111" textLength="16.36" lengthAdjust="spacingAndGlyphs">1.0</text>
<text x="42.8" y="62.25" font-family='"Liberation Sans", Arial, Helvetica, sans-serif' font-size="10.8" font-weight="bold" text-anchor="end" fill="#111" textLength="16.36" lengthAdjust="spacingAndGlyphs">0.5</text>
<text x="42.8" y="115.3" font-family='"Liberation Sans", Arial, Helvetica, sans-serif' font-size="10.8" font-weight="bold" text-anchor="end" fill="#111" textLength="16.36" lengthAdjust="spacingAndGlyphs">0.0</text>
<text x="42.8" y="168.35" font-family='"Liberation Sans", Arial, Helvetica, sans-serif' font-size="10.8" font-weight="bold" text-anchor="end" fill="#111" textLength="20.28" lengthAdjust="spacingAndGlyphs">-0.5</text>
<text x="42.8" y="221.4" font-family='"Liberation Sans", Arial, Helvetica, sans-serif' font-size="10.8" font-weight="bold" text-anchor="end" fill="#111" textLength="20.28" lengthAdjust="spacingAndGlyphs">-1.0</text>
<text x="78.57" y="233.4" font-family='"Liberation Sans", Arial, Helvetica, sans-serif' font-size="10.3" font-weight="bold" text-anchor="middle" fill="#111" textLength="23.7" lengthAdjust="spacingAndGlyphs">-400</text>
<text x="133.51" y="233.4" font-family='"Liberation Sans", Arial, Helvetica, sans-serif' font-size="10.3" font-weight="bold" text-anchor="middle" fill="#111" textLength="23.7" lengthAdjust="spacingAndGlyphs">-200</text>
<text x="188.95" y="233.4" font-family='"Liberation Sans", Arial, Helvetica, sans-serif' font-size="10.3" font-weight="bold" text-anchor="middle" fill="#111" textLength="6.59" lengthAdjust="spacingAndGlyphs">0</text>
<text x="243.89" y="233.4" font-family='"Liberation Sans", Arial, Helvetica, sans-serif' font-size="10.3" font-weight="bold" text-anchor="middle" fill="#111" textLength="19.76" lengthAdjust="spacingAndGlyphs">200</text>
<text x="298.83" y="233.4" font-family='"Liberation Sans", Arial, Helvetica, sans-serif' font-size="10.3" font-weight="bold" text-anchor="middle" fill="#111" textLength="19.76" lengthAdjust="spacingAndGlyphs">400</text>
<text x="170.4" y="248.6" font-family='"Liberation Sans", Arial, Helvetica, sans-serif' font-size="12.2" font-weight="bold" text-anchor="start" fill="#111" textLength="36.6" lengthAdjust="spacingAndGlyphs">H (Oe)</text>
<text x="12.3" y="160.6" font-family='"Liberation Sans", Arial, Helvetica, sans-serif' font-size="12.2" font-weight="bold" text-anchor="start" fill="#111" textLength="109.2" lengthAdjust="spacingAndGlyphs" transform="rotate(-90 12.3 160.6)">M/M<tspan font-size="9" dy="3">sat</tspan><tspan dy="-3"> (arb. units)</tspan></text>
<text x="0" y="0" font-family='"Liberation Sans", Arial, Helvetica, sans-serif' font-size="10.4" font-weight="bold" text-anchor="start" fill="#222" transform="translate(61.5 20.8) scale(0.86 1)" textLength="143.02" lengthAdjust="spacing">Cr<tspan font-size="7.2" dy="2.8">2</tspan><tspan dy="-2.8">O</tspan><tspan font-size="7.2" dy="2.8">3</tspan><tspan dy="-2.8">/Fe</tspan><tspan font-size="7.2" dy="2.8">72</tspan><tspan dy="-2.8">Ga</tspan><tspan font-size="7.2" dy="2.8">28</tspan><tspan dy="-2.8">(240 nm)</tspan></text>
<text x="0" y="0" font-family='"Liberation Sans", Arial, Helvetica, sans-serif' font-size="10.4" font-weight="bold" text-anchor="start" fill="#222" transform="translate(70.2 39.2) scale(0.86 1)" textLength="58.72" lengthAdjust="spacing">H || plane</text>
<text x="289.1" y="98.9" font-family='"Liberation Sans", Arial, Helvetica, sans-serif' font-size="20.5" font-weight="bold" text-anchor="start" fill="#111" textLength="27.5" lengthAdjust="spacing">(a)</text>
<rect x="277.2" y="151.5" width="42" height="51" fill="#fff" stroke="#000" stroke-width="1"/>
<path d="M277.6 161.4H283M290.8 161.4H296.6" stroke="#000" stroke-width="1"/>
<rect x="284.45" y="158.55" width="5.7" height="5.7" fill="#000"/>
<text x="300.3" y="164.5" font-family='"Liberation Serif", "Times New Roman", serif' font-size="12.4" font-weight="bold" text-anchor="start" fill="#111">0<tspan font-size="10.5" dy="-4">o</tspan></text>
<path d="M277.6 178.85H283M290.8 178.85H296.6" stroke="#ff0000" stroke-width="1"/>
<circle cx="287.3" cy="178.85" r="2.95" fill="#ff0000"/>
<text x="300.3" y="182.05" font-family='"Liberation Serif", "Times New Roman", serif' font-size="12.4" font-weight="bold" text-anchor="start" fill="#111">30<tspan font-size="10.5" dy="-4">o</tspan></text>
<path d="M277.6 196.3H283M290.8 196.3H296.6" stroke="#00ff00" stroke-width="1"/>
<path d="M287.3 192.28L290.8 198.93L283.8 198.93Z" fill="#00ff00"/>
<text x="300.3" y="199.6" font-family='"Liberation Serif", "Times New Roman", serif' font-size="12.4" font-weight="bold" text-anchor="start" fill="#111">60<tspan font-size="10.5" dy="-4">o</tspan></text>
<clipPath id="cc"><rect x="408.8" y="6.2" width="262.4" height="217.6"/></clipPath><g clip-path="url(#cc)">
<path d="M623.47 27.6L618.78 27.6M610.78 27.6L605.23 27.6M597.23 27.6L592.11 27.6M584.11 27.6L579.25 27.6M571.25 27.6L565.87 27.6M557.89 28.01L553.16 28.5M539.4 57.79L539.46 77.72M539.47 85.72L539.31 160.92M539.27 168.92L539.24 172.01M509.59 202.2L509.19 202.2M501.19 202.2L499.92 202.2M482.91 202.2L482.07 202.2M456.41 202.2L456.01 202.2" fill="none" stroke="#0000ff" stroke-width="1"/>
<g><circle cx="627.47" cy="27.6" r="2.9" fill="#0000ff"/><circle cx="614.78" cy="27.6" r="2.9" fill="#0000ff"/><circle cx="601.23" cy="27.6" r="2.9" fill="#0000ff"/><circle cx="588.11" cy="27.6" r="2.9" fill="#0000ff"/><circle cx="575.25" cy="27.6" r="2.9" fill="#0000ff"/><circle cx="561.87" cy="27.6" r="2.9" fill="#0000ff"/><circle cx="549.18" cy="28.91" r="2.9" fill="#0000ff"/><circle cx="547.61" cy="29.36" r="2.9" fill="#0000ff"/><circle cx="546.04" cy="29.83" r="2.9" fill="#0000ff"/><circle cx="544.68" cy="30.74" r="2.9" fill="#0000ff"/><circle cx="543.36" cy="31.7" r="2.9" fill="#0000ff"/><circle cx="542.33" cy="32.98" r="2.9" fill="#0000ff"/><circle cx="541.49" cy="34.36" r="2.9" fill="#0000ff"/><circle cx="540.88" cy="35.88" r="2.9" fill="#0000ff"/><circle cx="540.47" cy="37.46" r="2.9" fill="#0000ff"/><circle cx="540.15" cy="39.07" r="2.9" fill="#0000ff"/><circle cx="539.91" cy="40.69" r="2.9" fill="#0000ff"/><circle cx="539.75" cy="42.32" r="2.9" fill="#0000ff"/><circle cx="539.62" cy="43.96" r="2.9" fill="#0000ff"/><circle cx="539.56" cy="45.59" r="2.9" fill="#0000ff"/><circle cx="539.49" cy="47.23" r="2.9" fill="#0000ff"/><circle cx="539.46" cy="48.87" r="2.9" fill="#0000ff"/><circle cx="539.43" cy="50.51" r="2.9" fill="#0000ff"/><circle cx="539.41" cy="52.15" r="2.9" fill="#0000ff"/><circle cx="539.39" cy="53.79" r="2.9" fill="#0000ff"/><circle cx="539.48" cy="81.72" r="2.9" fill="#0000ff"/><circle cx="539.3" cy="164.92" r="2.9" fill="#0000ff"/><circle cx="539.21" cy="176.01" r="2.9" fill="#0000ff"/><circle cx="539.15" cy="177.59" r="2.9" fill="#0000ff"/><circle cx="539.08" cy="179.16" r="2.9" fill="#0000ff"/><circle cx="539.01" cy="180.74" r="2.9" fill="#0000ff"/><circle cx="538.93" cy="182.31" r="2.9" fill="#0000ff"/><circle cx="538.74" cy="183.87" r="2.9" fill="#0000ff"/><circle cx="538.55" cy="185.44" r="2.9" fill="#0000ff"/><circle cx="538.31" cy="187" r="2.9" fill="#0000ff"/><circle cx="537.96" cy="188.53" r="2.9" fill="#0000ff"/><circle cx="537.61" cy="190.07" r="2.9" fill="#0000ff"/><circle cx="537.12" cy="191.57" r="2.9" fill="#0000ff"/><circle cx="536.63" cy="193.07" r="2.9" fill="#0000ff"/><circle cx="535.86" cy="194.43" r="2.9" fill="#0000ff"/><circle cx="534.99" cy="195.74" r="2.9" fill="#0000ff"/><circle cx="533.93" cy="196.91" r="2.9" fill="#0000ff"/><circle cx="532.82" cy="198.02" r="2.9" fill="#0000ff"/><circle cx="531.59" cy="199" r="2.9" fill="#0000ff"/><circle cx="530.33" cy="199.95" r="2.9" fill="#0000ff"/><circle cx="529.07" cy="200.89" r="2.9" fill="#0000ff"/><circle cx="522.68" cy="202.2" r="2.9" fill="#0000ff"/><circle cx="520.41" cy="202.2" r="2.9" fill="#0000ff"/><circle cx="517" cy="202.2" r="2.9" fill="#0000ff"/><circle cx="513.59" cy="202.2" r="2.9" fill="#0000ff"/><circle cx="505.19" cy="202.2" r="2.9" fill="#0000ff"/><circle cx="495.92" cy="202.2" r="2.9" fill="#0000ff"/><circle cx="492.77" cy="202.2" r="2.9" fill="#0000ff"/><circle cx="489.79" cy="202.2" r="2.9" fill="#0000ff"/><circle cx="486.91" cy="202.2" r="2.9" fill="#0000ff"/><circle cx="478.07" cy="202.2" r="2.9" fill="#0000ff"/><circle cx="470.03" cy="202.2" r="2.9" fill="#0000ff"/><circle cx="466.09" cy="202.2" r="2.9" fill="#0000ff"/><circle cx="462.59" cy="202.2" r="2.9" fill="#0000ff"/><circle cx="460.41" cy="202.2" r="2.9" fill="#0000ff"/><circle cx="452.01" cy="202.2" r="2.9" fill="#0000ff"/></g>
<path d="M541.46 172.01L540.99 155.39M540.89 147.39L541.13 56.48M554.03 28.9L557.89 28.48M565.86 27.9L571.25 27.73" fill="none" stroke="#0000ff" stroke-width="1"/>
<g><circle cx="522.68" cy="202.2" r="2.9" fill="#0000ff"/><circle cx="530.82" cy="200.89" r="2.9" fill="#0000ff"/><circle cx="532.33" cy="200.46" r="2.9" fill="#0000ff"/><circle cx="533.84" cy="200.03" r="2.9" fill="#0000ff"/><circle cx="535.16" cy="199.17" r="2.9" fill="#0000ff"/><circle cx="536.46" cy="198.3" r="2.9" fill="#0000ff"/><circle cx="537.46" cy="197.08" r="2.9" fill="#0000ff"/><circle cx="538.42" cy="195.84" r="2.9" fill="#0000ff"/><circle cx="539.29" cy="194.53" r="2.9" fill="#0000ff"/><circle cx="540.07" cy="193.18" r="2.9" fill="#0000ff"/><circle cx="540.45" cy="191.65" r="2.9" fill="#0000ff"/><circle cx="540.84" cy="190.13" r="2.9" fill="#0000ff"/><circle cx="541.05" cy="188.57" r="2.9" fill="#0000ff"/><circle cx="541.25" cy="187.01" r="2.9" fill="#0000ff"/><circle cx="541.35" cy="185.44" r="2.9" fill="#0000ff"/><circle cx="541.42" cy="183.87" r="2.9" fill="#0000ff"/><circle cx="541.48" cy="182.3" r="2.9" fill="#0000ff"/><circle cx="541.51" cy="180.73" r="2.9" fill="#0000ff"/><circle cx="541.53" cy="179.16" r="2.9" fill="#0000ff"/><circle cx="541.55" cy="177.58" r="2.9" fill="#0000ff"/><circle cx="541.57" cy="176.01" r="2.9" fill="#0000ff"/><circle cx="540.87" cy="151.39" r="2.9" fill="#0000ff"/><circle cx="541.14" cy="52.48" r="2.9" fill="#0000ff"/><circle cx="541.66" cy="50.3" r="2.9" fill="#0000ff"/><circle cx="541.74" cy="48.71" r="2.9" fill="#0000ff"/><circle cx="541.82" cy="47.13" r="2.9" fill="#0000ff"/><circle cx="541.9" cy="45.55" r="2.9" fill="#0000ff"/><circle cx="542.05" cy="43.97" r="2.9" fill="#0000ff"/><circle cx="542.24" cy="42.4" r="2.9" fill="#0000ff"/><circle cx="542.43" cy="40.83" r="2.9" fill="#0000ff"/><circle cx="542.8" cy="39.29" r="2.9" fill="#0000ff"/><circle cx="543.19" cy="37.75" r="2.9" fill="#0000ff"/><circle cx="543.77" cy="36.28" r="2.9" fill="#0000ff"/><circle cx="544.46" cy="34.86" r="2.9" fill="#0000ff"/><circle cx="545.37" cy="33.59" r="2.9" fill="#0000ff"/><circle cx="546.49" cy="32.47" r="2.9" fill="#0000ff"/><circle cx="547.69" cy="31.44" r="2.9" fill="#0000ff"/><circle cx="548.94" cy="30.46" r="2.9" fill="#0000ff"/><circle cx="550.06" cy="29.34" r="2.9" fill="#0000ff"/><circle cx="561.87" cy="28.03" r="2.9" fill="#0000ff"/><circle cx="575.25" cy="27.6" r="2.9" fill="#0000ff"/></g>
<path d="M647.2 46.9L639.22 48.89M634.98 50.05L627.39 52.29M623.12 53.31L622.63 53.4M618.37 54.44L615.57 55.32M611.38 56.66L609.96 57.12M605.9 58.78L603.81 59.8M599.78 61.55L595.85 63.05M591.68 64.44L591.36 64.53M587.16 65.84L582.32 67.49M575.15 70.98L568.97 72.74M565.2 74.8L563.95 75.9M529.34 125.46L528.88 126.16M527.13 130.13L524.45 140.7M523.88 145.04L523.85 147.62M511.82 155.93L511.32 156.2M507.34 158.06L507.06 158.17M497.98 161.98L492.19 164.29M484.55 167.34L479.47 168.97M475.34 170.46L473.81 171.08M469.7 172.65L467.73 173.35M463.59 174.86L460.19 176.12M452.6 178.79L445.91 180.66M439.9 180.73L432.8 182.47M432.8 182.9L440.78 180.91M445.02 179.75L452.61 177.51M456.88 176.49L457.37 176.4M461.63 175.36L464.43 174.48M468.62 173.14L470.04 172.68M474.1 171.02L476.19 170M480.22 168.25L484.15 166.75M488.32 165.36L488.64 165.27M492.84 163.96L497.68 162.31M504.85 158.82L511.03 157.06M514.8 155L516.05 153.9M550.66 104.33L551.12 103.64M552.87 99.67L555.55 89.1M556.12 84.76L556.15 82.18M568.18 73.87L568.68 73.6M572.66 71.74L572.94 71.63M582.02 67.82L587.81 65.51M595.45 62.46L600.53 60.83M604.66 59.33L606.19 58.72M610.3 57.15L612.27 56.45M616.41 54.94L619.81 53.68M627.4 51.01L634.09 49.14M640.1 49.07L647.2 47.33" fill="none" stroke="#1a7a1a" stroke-width="0.9"/>
<g><rect x="647.63" y="44.67" width="3.4" height="3.4" fill="none" stroke="#1a7a1a" stroke-width="0.9"/><rect x="635.39" y="47.72" width="3.4" height="3.4" fill="none" stroke="#1a7a1a" stroke-width="0.9"/><rect x="623.58" y="51.22" width="3.4" height="3.4" fill="none" stroke="#1a7a1a" stroke-width="0.9"/><rect x="618.77" y="52.09" width="3.4" height="3.4" fill="none" stroke="#1a7a1a" stroke-width="0.9"/><rect x="611.77" y="54.27" width="3.4" height="3.4" fill="none" stroke="#1a7a1a" stroke-width="0.9"/><rect x="606.17" y="56.1" width="3.4" height="3.4" fill="none" stroke="#1a7a1a" stroke-width="0.9"/><rect x="600.14" y="59.07" width="3.4" height="3.4" fill="none" stroke="#1a7a1a" stroke-width="0.9"/><rect x="592.09" y="62.13" width="3.4" height="3.4" fill="none" stroke="#1a7a1a" stroke-width="0.9"/><rect x="587.54" y="63.44" width="3.4" height="3.4" fill="none" stroke="#1a7a1a" stroke-width="0.9"/><rect x="578.53" y="66.49" width="3.4" height="3.4" fill="none" stroke="#1a7a1a" stroke-width="0.9"/><rect x="575.56" y="68.68" width="3.4" height="3.4" fill="none" stroke="#1a7a1a" stroke-width="0.9"/><rect x="565.15" y="71.64" width="3.4" height="3.4" fill="none" stroke="#1a7a1a" stroke-width="0.9"/><rect x="560.6" y="75.66" width="3.4" height="3.4" fill="none" stroke="#1a7a1a" stroke-width="0.9"/><rect x="556.67" y="77.41" width="3.4" height="3.4" fill="none" stroke="#1a7a1a" stroke-width="0.9"/><rect x="552.99" y="79.15" width="3.4" height="3.4" fill="none" stroke="#1a7a1a" stroke-width="0.9"/><rect x="549.67" y="81.33" width="3.4" height="3.4" fill="none" stroke="#1a7a1a" stroke-width="0.9"/><rect x="547.4" y="82.64" width="3.4" height="3.4" fill="none" stroke="#1a7a1a" stroke-width="0.9"/><rect x="544.86" y="84.39" width="3.4" height="3.4" fill="none" stroke="#1a7a1a" stroke-width="0.9"/><rect x="542.94" y="86.14" width="3.4" height="3.4" fill="none" stroke="#1a7a1a" stroke-width="0.9"/><rect x="541.36" y="88.32" width="3.4" height="3.4" fill="none" stroke="#1a7a1a" stroke-width="0.9"/><rect x="540.05" y="91.37" width="3.4" height="3.4" fill="none" stroke="#1a7a1a" stroke-width="0.9"/><rect x="539.86" y="92.3" width="3.4" height="3.4" fill="none" stroke="#1a7a1a" stroke-width="0.9"/><rect x="539.68" y="93.22" width="3.4" height="3.4" fill="none" stroke="#1a7a1a" stroke-width="0.9"/><rect x="539.49" y="94.14" width="3.4" height="3.4" fill="none" stroke="#1a7a1a" stroke-width="0.9"/><rect x="539.31" y="95.07" width="3.4" height="3.4" fill="none" stroke="#1a7a1a" stroke-width="0.9"/><rect x="539.1" y="95.99" width="3.4" height="3.4" fill="none" stroke="#1a7a1a" stroke-width="0.9"/><rect x="538.9" y="96.91" width="3.4" height="3.4" fill="none" stroke="#1a7a1a" stroke-width="0.9"/><rect x="538.7" y="97.83" width="3.4" height="3.4" fill="none" stroke="#1a7a1a" stroke-width="0.9"/><rect x="538.5" y="98.75" width="3.4" height="3.4" fill="none" stroke="#1a7a1a" stroke-width="0.9"/><rect x="538.3" y="99.67" width="3.4" height="3.4" fill="none" stroke="#1a7a1a" stroke-width="0.9"/><rect x="537.95" y="100.98" width="3.4" height="3.4" fill="none" stroke="#1a7a1a" stroke-width="0.9"/><rect x="537.51" y="102.63" width="3.4" height="3.4" fill="none" stroke="#1a7a1a" stroke-width="0.9"/><rect x="537.08" y="104.29" width="3.4" height="3.4" fill="none" stroke="#1a7a1a" stroke-width="0.9"/><rect x="536.64" y="105.95" width="3.4" height="3.4" fill="none" stroke="#1a7a1a" stroke-width="0.9"/><rect x="536.21" y="107.61" width="3.4" height="3.4" fill="none" stroke="#1a7a1a" stroke-width="0.9"/><rect x="535.73" y="109.25" width="3.4" height="3.4" fill="none" stroke="#1a7a1a" stroke-width="0.9"/><rect x="535.23" y="110.89" width="3.4" height="3.4" fill="none" stroke="#1a7a1a" stroke-width="0.9"/><rect x="534.74" y="112.54" width="3.4" height="3.4" fill="none" stroke="#1a7a1a" stroke-width="0.9"/><rect x="534.25" y="114.18" width="3.4" height="3.4" fill="none" stroke="#1a7a1a" stroke-width="0.9"/><rect x="533.75" y="115.82" width="3.4" height="3.4" fill="none" stroke="#1a7a1a" stroke-width="0.9"/><rect x="531.3" y="119.31" width="3.4" height="3.4" fill="none" stroke="#1a7a1a" stroke-width="0.9"/><rect x="528.85" y="121.93" width="3.4" height="3.4" fill="none" stroke="#1a7a1a" stroke-width="0.9"/><rect x="525.97" y="126.29" width="3.4" height="3.4" fill="none" stroke="#1a7a1a" stroke-width="0.9"/><rect x="522.21" y="141.14" width="3.4" height="3.4" fill="none" stroke="#1a7a1a" stroke-width="0.9"/><rect x="522.12" y="148.12" width="3.4" height="3.4" fill="none" stroke="#1a7a1a" stroke-width="0.9"/><rect x="518.71" y="149.87" width="3.4" height="3.4" fill="none" stroke="#1a7a1a" stroke-width="0.9"/><rect x="515.3" y="151.61" width="3.4" height="3.4" fill="none" stroke="#1a7a1a" stroke-width="0.9"/><rect x="512.06" y="153.18" width="3.4" height="3.4" fill="none" stroke="#1a7a1a" stroke-width="0.9"/><rect x="507.69" y="155.54" width="3.4" height="3.4" fill="none" stroke="#1a7a1a" stroke-width="0.9"/><rect x="503.31" y="157.29" width="3.4" height="3.4" fill="none" stroke="#1a7a1a" stroke-width="0.9"/><rect x="500.16" y="158.6" width="3.4" height="3.4" fill="none" stroke="#1a7a1a" stroke-width="0.9"/><rect x="498.33" y="159.47" width="3.4" height="3.4" fill="none" stroke="#1a7a1a" stroke-width="0.9"/><rect x="488.44" y="163.4" width="3.4" height="3.4" fill="none" stroke="#1a7a1a" stroke-width="0.9"/><rect x="484.95" y="164.97" width="3.4" height="3.4" fill="none" stroke="#1a7a1a" stroke-width="0.9"/><rect x="475.67" y="167.94" width="3.4" height="3.4" fill="none" stroke="#1a7a1a" stroke-width="0.9"/><rect x="470.08" y="170.21" width="3.4" height="3.4" fill="none" stroke="#1a7a1a" stroke-width="0.9"/><rect x="463.95" y="172.39" width="3.4" height="3.4" fill="none" stroke="#1a7a1a" stroke-width="0.9"/><rect x="456.43" y="175.18" width="3.4" height="3.4" fill="none" stroke="#1a7a1a" stroke-width="0.9"/><rect x="453.02" y="176.49" width="3.4" height="3.4" fill="none" stroke="#1a7a1a" stroke-width="0.9"/><rect x="442.09" y="179.55" width="3.4" height="3.4" fill="none" stroke="#1a7a1a" stroke-width="0.9"/><rect x="440.34" y="178.5" width="3.4" height="3.4" fill="none" stroke="#1a7a1a" stroke-width="0.9"/><rect x="428.97" y="181.3" width="3.4" height="3.4" fill="none" stroke="#1a7a1a" stroke-width="0.9"/><rect x="428.97" y="181.73" width="3.4" height="3.4" fill="none" stroke="#1a7a1a" stroke-width="0.9"/><rect x="441.21" y="178.68" width="3.4" height="3.4" fill="none" stroke="#1a7a1a" stroke-width="0.9"/><rect x="453.02" y="175.18" width="3.4" height="3.4" fill="none" stroke="#1a7a1a" stroke-width="0.9"/><rect x="457.83" y="174.31" width="3.4" height="3.4" fill="none" stroke="#1a7a1a" stroke-width="0.9"/><rect x="464.83" y="172.13" width="3.4" height="3.4" fill="none" stroke="#1a7a1a" stroke-width="0.9"/><rect x="470.43" y="170.3" width="3.4" height="3.4" fill="none" stroke="#1a7a1a" stroke-width="0.9"/><rect x="476.46" y="167.33" width="3.4" height="3.4" fill="none" stroke="#1a7a1a" stroke-width="0.9"/><rect x="484.51" y="164.27" width="3.4" height="3.4" fill="none" stroke="#1a7a1a" stroke-width="0.9"/><rect x="489.06" y="162.96" width="3.4" height="3.4" fill="none" stroke="#1a7a1a" stroke-width="0.9"/><rect x="498.07" y="159.91" width="3.4" height="3.4" fill="none" stroke="#1a7a1a" stroke-width="0.9"/><rect x="501.04" y="157.72" width="3.4" height="3.4" fill="none" stroke="#1a7a1a" stroke-width="0.9"/><rect x="511.45" y="154.76" width="3.4" height="3.4" fill="none" stroke="#1a7a1a" stroke-width="0.9"/><rect x="516" y="150.74" width="3.4" height="3.4" fill="none" stroke="#1a7a1a" stroke-width="0.9"/><rect x="519.93" y="148.99" width="3.4" height="3.4" fill="none" stroke="#1a7a1a" stroke-width="0.9"/><rect x="523.61" y="147.25" width="3.4" height="3.4" fill="none" stroke="#1a7a1a" stroke-width="0.9"/><rect x="526.93" y="145.06" width="3.4" height="3.4" fill="none" stroke="#1a7a1a" stroke-width="0.9"/><rect x="529.2" y="143.76" width="3.4" height="3.4" fill="none" stroke="#1a7a1a" stroke-width="0.9"/><rect x="531.74" y="142.01" width="3.4" height="3.4" fill="none" stroke="#1a7a1a" stroke-width="0.9"/><rect x="533.66" y="140.26" width="3.4" height="3.4" fill="none" stroke="#1a7a1a" stroke-width="0.9"/><rect x="535.24" y="138.08" width="3.4" height="3.4" fill="none" stroke="#1a7a1a" stroke-width="0.9"/><rect x="536.55" y="135.03" width="3.4" height="3.4" fill="none" stroke="#1a7a1a" stroke-width="0.9"/><rect x="536.74" y="134.1" width="3.4" height="3.4" fill="none" stroke="#1a7a1a" stroke-width="0.9"/><rect x="536.92" y="133.18" width="3.4" height="3.4" fill="none" stroke="#1a7a1a" stroke-width="0.9"/><rect x="537.11" y="132.25" width="3.4" height="3.4" fill="none" stroke="#1a7a1a" stroke-width="0.9"/><rect x="537.29" y="131.33" width="3.4" height="3.4" fill="none" stroke="#1a7a1a" stroke-width="0.9"/><rect x="537.5" y="130.41" width="3.4" height="3.4" fill="none" stroke="#1a7a1a" stroke-width="0.9"/><rect x="537.7" y="129.49" width="3.4" height="3.4" fill="none" stroke="#1a7a1a" stroke-width="0.9"/><rect x="537.9" y="128.57" width="3.4" height="3.4" fill="none" stroke="#1a7a1a" stroke-width="0.9"/><rect x="538.1" y="127.65" width="3.4" height="3.4" fill="none" stroke="#1a7a1a" stroke-width="0.9"/><rect x="538.3" y="126.73" width="3.4" height="3.4" fill="none" stroke="#1a7a1a" stroke-width="0.9"/><rect x="538.65" y="125.42" width="3.4" height="3.4" fill="none" stroke="#1a7a1a" stroke-width="0.9"/><rect x="539.09" y="123.76" width="3.4" height="3.4" fill="none" stroke="#1a7a1a" stroke-width="0.9"/><rect x="539.52" y="122.11" width="3.4" height="3.4" fill="none" stroke="#1a7a1a" stroke-width="0.9"/><rect x="539.96" y="120.45" width="3.4" height="3.4" fill="none" stroke="#1a7a1a" stroke-width="0.9"/><rect x="540.39" y="118.79" width="3.4" height="3.4" fill="none" stroke="#1a7a1a" stroke-width="0.9"/><rect x="540.87" y="117.15" width="3.4" height="3.4" fill="none" stroke="#1a7a1a" stroke-width="0.9"/><rect x="541.37" y="115.5" width="3.4" height="3.4" fill="none" stroke="#1a7a1a" stroke-width="0.9"/><rect x="541.86" y="113.86" width="3.4" height="3.4" fill="none" stroke="#1a7a1a" stroke-width="0.9"/><rect x="542.35" y="112.22" width="3.4" height="3.4" fill="none" stroke="#1a7a1a" stroke-width="0.9"/><rect x="542.85" y="110.58" width="3.4" height="3.4" fill="none" stroke="#1a7a1a" stroke-width="0.9"/><rect x="545.3" y="107.09" width="3.4" height="3.4" fill="none" stroke="#1a7a1a" stroke-width="0.9"/><rect x="547.75" y="104.47" width="3.4" height="3.4" fill="none" stroke="#1a7a1a" stroke-width="0.9"/><rect x="550.63" y="100.1" width="3.4" height="3.4" fill="none" stroke="#1a7a1a" stroke-width="0.9"/><rect x="554.39" y="85.26" width="3.4" height="3.4" fill="none" stroke="#1a7a1a" stroke-width="0.9"/><rect x="554.48" y="78.28" width="3.4" height="3.4" fill="none" stroke="#1a7a1a" stroke-width="0.9"/><rect x="557.89" y="76.53" width="3.4" height="3.4" fill="none" stroke="#1a7a1a" stroke-width="0.9"/><rect x="561.3" y="74.79" width="3.4" height="3.4" fill="none" stroke="#1a7a1a" stroke-width="0.9"/><rect x="564.54" y="73.22" width="3.4" height="3.4" fill="none" stroke="#1a7a1a" stroke-width="0.9"/><rect x="568.91" y="70.86" width="3.4" height="3.4" fill="none" stroke="#1a7a1a" stroke-width="0.9"/><rect x="573.29" y="69.11" width="3.4" height="3.4" fill="none" stroke="#1a7a1a" stroke-width="0.9"/><rect x="576.44" y="67.8" width="3.4" height="3.4" fill="none" stroke="#1a7a1a" stroke-width="0.9"/><rect x="578.27" y="66.93" width="3.4" height="3.4" fill="none" stroke="#1a7a1a" stroke-width="0.9"/><rect x="588.16" y="63" width="3.4" height="3.4" fill="none" stroke="#1a7a1a" stroke-width="0.9"/><rect x="591.65" y="61.43" width="3.4" height="3.4" fill="none" stroke="#1a7a1a" stroke-width="0.9"/><rect x="600.93" y="58.46" width="3.4" height="3.4" fill="none" stroke="#1a7a1a" stroke-width="0.9"/><rect x="606.52" y="56.19" width="3.4" height="3.4" fill="none" stroke="#1a7a1a" stroke-width="0.9"/><rect x="612.65" y="54.01" width="3.4" height="3.4" fill="none" stroke="#1a7a1a" stroke-width="0.9"/><rect x="620.17" y="51.22" width="3.4" height="3.4" fill="none" stroke="#1a7a1a" stroke-width="0.9"/><rect x="623.58" y="49.91" width="3.4" height="3.4" fill="none" stroke="#1a7a1a" stroke-width="0.9"/><rect x="634.51" y="46.85" width="3.4" height="3.4" fill="none" stroke="#1a7a1a" stroke-width="0.9"/><rect x="636.26" y="47.9" width="3.4" height="3.4" fill="none" stroke="#1a7a1a" stroke-width="0.9"/><rect x="647.63" y="45.1" width="3.4" height="3.4" fill="none" stroke="#1a7a1a" stroke-width="0.9"/></g>
</g>
<path d="M408.8 223.8V217M452.53 223.8V217M496.27 223.8V217M540 223.8V217M583.73 223.8V217M627.47 223.8V217M671.2 223.8V217M430.67 223.8V220.3M474.4 223.8V220.3M518.13 223.8V220.3M561.87 223.8V220.3M605.6 223.8V220.3M649.33 223.8V220.3M408.8 202.2H415.6M408.8 158.55H415.6M408.8 114.9H415.6M408.8 71.25H415.6M408.8 27.6H415.6M408.8 180.38H412.3M408.8 136.73H412.3M408.8 93.07H412.3M408.8 49.42H412.3" stroke="#000" stroke-width="1.75" fill="none"/>
<rect x="408.8" y="6.2" width="262.4" height="217.6" fill="none" stroke="#000" stroke-width="1.75"/>
<text x="404.6" y="31" font-family='"Liberation Sans", Arial, Helvetica, sans-serif' font-size="12" font-weight="bold" text-anchor="end" fill="#111" textLength="18.68" lengthAdjust="spacingAndGlyphs">1.0</text>
<text x="404.6" y="74.65" font-family='"Liberation Sans", Arial, Helvetica, sans-serif' font-size="12" font-weight="bold" text-anchor="end" fill="#111" textLength="18.68" lengthAdjust="spacingAndGlyphs">0.5</text>
<text x="404.6" y="118.3" font-family='"Liberation Sans", Arial, Helvetica, sans-serif' font-size="12" font-weight="bold" text-anchor="end" fill="#111" textLength="18.68" lengthAdjust="spacingAndGlyphs">0.0</text>
<text x="404.6" y="161.95" font-family='"Liberation Sans", Arial, Helvetica, sans-serif' font-size="12" font-weight="bold" text-anchor="end" fill="#111" textLength="23.16" lengthAdjust="spacingAndGlyphs">-0.5</text>
<text x="404.6" y="205.6" font-family='"Liberation Sans", Arial, Helvetica, sans-serif' font-size="12" font-weight="bold" text-anchor="end" fill="#111" textLength="23.16" lengthAdjust="spacingAndGlyphs">-1.0</text>
<text x="407.8" y="238.2" font-family='"Liberation Sans", Arial, Helvetica, sans-serif' font-size="12" font-weight="bold" text-anchor="middle" fill="#111" textLength="19.07" lengthAdjust="spacingAndGlyphs">-15</text>
<text x="451.53" y="238.2" font-family='"Liberation Sans", Arial, Helvetica, sans-serif' font-size="12" font-weight="bold" text-anchor="middle" fill="#111" textLength="19.07" lengthAdjust="spacingAndGlyphs">-10</text>
<text x="495.27" y="238.2" font-family='"Liberation Sans", Arial, Helvetica, sans-serif' font-size="12" font-weight="bold" text-anchor="middle" fill="#111" textLength="11.73" lengthAdjust="spacingAndGlyphs">-5</text>
<text x="540" y="238.2" font-family='"Liberation Sans", Arial, Helvetica, sans-serif' font-size="12" font-weight="bold" text-anchor="middle" fill="#111" textLength="7.34" lengthAdjust="spacingAndGlyphs">0</text>
<text x="583.73" y="238.2" font-family='"Liberation Sans", Arial, Helvetica, sans-serif' font-size="12" font-weight="bold" text-anchor="middle" fill="#111" textLength="7.34" lengthAdjust="spacingAndGlyphs">5</text>
<text x="627.47" y="238.2" font-family='"Liberation Sans", Arial, Helvetica, sans-serif' font-size="12" font-weight="bold" text-anchor="middle" fill="#111" textLength="14.68" lengthAdjust="spacingAndGlyphs">10</text>
<text x="671.2" y="238.2" font-family='"Liberation Sans", Arial, Helvetica, sans-serif' font-size="12" font-weight="bold" text-anchor="middle" fill="#111" textLength="14.68" lengthAdjust="spacingAndGlyphs">15</text>
<text x="509.6" y="252.1" font-family='"Liberation Sans", Arial, Helvetica, sans-serif' font-size="12.3" font-weight="bold" text-anchor="start" fill="#111" textLength="50.2" lengthAdjust="spacingAndGlyphs">H (kOe)</text>
<text x="370.8" y="173.2" font-family='"Liberation Sans", Arial, Helvetica, sans-serif' font-size="12.5" font-weight="bold" text-anchor="start" fill="#111" textLength="117.5" lengthAdjust="spacingAndGlyphs" transform="rotate(-90 370.8 173.2)">m/m<tspan font-size="9.5" dy="3" font-weight="normal">sat</tspan><tspan dy="-3"> (arb. units)</tspan></text>
<text x="421.8" y="22.6" font-family='"Liberation Sans", Arial, Helvetica, sans-serif' font-size="13" font-weight="bold" text-anchor="start" fill="#111" textLength="106.2" lengthAdjust="spacingAndGlyphs">Fe<tspan font-size="9.6" dy="4" font-weight="normal">72</tspan><tspan dy="-4">Ga</tspan><tspan font-size="9.6" dy="4" font-weight="normal">28</tspan><tspan dy="-4">(20 nm)</tspan></text>
<text x="621.4" y="145.8" font-family='"Liberation Sans", Arial, Helvetica, sans-serif' font-size="24" font-weight="bold" text-anchor="start" fill="#111" textLength="28.6" lengthAdjust="spacingAndGlyphs">(c)</text>
<rect x="564.3" y="175" width="96.5" height="39.4" fill="#fff" stroke="#111" stroke-width="1"/>
<path d="M566.1 187.5H572.9M581.3 187.5H587.9" stroke="#0000ff" stroke-width="1"/>
<circle cx="577" cy="187.5" r="3" fill="#0000ff"/>
<path d="M566.1 206.3H572.9M581.3 206.3H587.9" stroke="#1a7a1a" stroke-width="1"/>
<rect x="575.1" y="204.4" width="3.8" height="3.8" fill="#fff" stroke="#1a7a1a" stroke-width="1"/>
<text x="590.8" y="190" font-family='"Liberation Sans", Arial, Helvetica, sans-serif' font-size="12.8" font-weight="bold" text-anchor="start" fill="#111">H</text>
<text x="605.9" y="188.8" font-family='"Liberation Sans", Arial, Helvetica, sans-serif' font-size="14.5" font-weight="normal" text-anchor="start" fill="#111" letter-spacing="2.7">||</text>
<text x="623" y="190" font-family='"Liberation Sans", Arial, Helvetica, sans-serif' font-size="12.8" font-weight="bold" text-anchor="start" fill="#111" textLength="35.8" lengthAdjust="spacingAndGlyphs">plane</text>
<text x="590.8" y="209.4" font-family='"Liberation Sans", Arial, Helvetica, sans-serif' font-size="12.8" font-weight="bold" text-anchor="start" fill="#111">H</text>
<text x="604.3" y="209.4" font-family='"DejaVu Sans", "Liberation Sans", Arial, Helvetica, sans-serif' font-size="12.6" font-weight="bold" text-anchor="start" fill="#111" textLength="12" lengthAdjust="spacingAndGlyphs">⊥</text>
<text x="619.6" y="209.4" font-family='"Liberation Sans", Arial, Helvetica, sans-serif' font-size="12.8" font-weight="bold" text-anchor="start" fill="#111" textLength="35.8" lengthAdjust="spacingAndGlyphs">plane</text>
<path d="M63.3 380.72H327.3M195.3 272V489.5" stroke="#000" stroke-width="1.6" fill="none"/>
<clipPath id="cb"><rect x="63.3" y="272" width="264" height="217.5"/></clipPath><g clip-path="url(#cb)">
<path d="M321.99 281.45L317.69 281.1M304.09 279.52L299.55 280.35M291.62 281.07L291.17 281.07M275.75 283.26L271.14 284.33M259.79 284.72L251.86 287.62M188.23 347.39L186.13 355.57M183.87 363.24L183.1 365.55M181.59 373.33L180.76 386.62M180.41 394.61L180.09 406.41M180.01 414.41L180.1 431.14M138.73 466.18L138.35 466.45M115.63 476.2L113.53 476.68M105.64 477.86L98.7 478.38M90.79 479.42L89.8 479.6M89.8 479.6L90.79 479.42M98.7 478.38L105.64 477.86M113.53 476.68L115.63 476.2M202.09 400.67L204.35 393.82M206.79 386.2L207.31 384.54M208.77 376.73L209.55 364.92M209.93 356.93L210.24 345.14M210.38 337.14L210.45 329.31M249.92 294.13L260.41 285.83M271.14 284.33L275.75 283.26M291.17 281.07L291.62 281.07M299.55 280.35L304.09 279.52M317.69 281.1L321.99 281.45" fill="none" stroke="#ff00ff" stroke-width="0.9"/>
<g><rect x="323.18" y="278.97" width="5.6" height="5.6" fill="#ff00ff"/><rect x="310.9" y="277.98" width="5.6" height="5.6" fill="#ff00ff"/><rect x="305.23" y="276" width="5.6" height="5.6" fill="#ff00ff"/><rect x="292.82" y="278.27" width="5.6" height="5.6" fill="#ff00ff"/><rect x="284.37" y="278.27" width="5.6" height="5.6" fill="#ff00ff"/><rect x="276.85" y="279.56" width="5.6" height="5.6" fill="#ff00ff"/><rect x="264.44" y="282.43" width="5.6" height="5.6" fill="#ff00ff"/><rect x="260.74" y="280.55" width="5.6" height="5.6" fill="#ff00ff"/><rect x="245.3" y="286.19" width="5.6" height="5.6" fill="#ff00ff"/><rect x="242.71" y="286.94" width="5.6" height="5.6" fill="#ff00ff"/><rect x="240.12" y="287.69" width="5.6" height="5.6" fill="#ff00ff"/><rect x="237.51" y="288.35" width="5.6" height="5.6" fill="#ff00ff"/><rect x="234.89" y="288.97" width="5.6" height="5.6" fill="#ff00ff"/><rect x="232.33" y="289.79" width="5.6" height="5.6" fill="#ff00ff"/><rect x="229.82" y="290.78" width="5.6" height="5.6" fill="#ff00ff"/><rect x="227.32" y="291.77" width="5.6" height="5.6" fill="#ff00ff"/><rect x="224.87" y="292.9" width="5.6" height="5.6" fill="#ff00ff"/><rect x="222.46" y="294.1" width="5.6" height="5.6" fill="#ff00ff"/><rect x="220.04" y="295.3" width="5.6" height="5.6" fill="#ff00ff"/><rect x="217.63" y="296.5" width="5.6" height="5.6" fill="#ff00ff"/><rect x="215.22" y="297.7" width="5.6" height="5.6" fill="#ff00ff"/><rect x="212.94" y="299.13" width="5.6" height="5.6" fill="#ff00ff"/><rect x="210.7" y="300.63" width="5.6" height="5.6" fill="#ff00ff"/><rect x="208.46" y="302.13" width="5.6" height="5.6" fill="#ff00ff"/><rect x="206.22" y="303.63" width="5.6" height="5.6" fill="#ff00ff"/><rect x="204.27" y="305.48" width="5.6" height="5.6" fill="#ff00ff"/><rect x="202.36" y="307.38" width="5.6" height="5.6" fill="#ff00ff"/><rect x="200.44" y="309.28" width="5.6" height="5.6" fill="#ff00ff"/><rect x="198.54" y="311.18" width="5.6" height="5.6" fill="#ff00ff"/><rect x="197.05" y="313.43" width="5.6" height="5.6" fill="#ff00ff"/><rect x="195.57" y="315.68" width="5.6" height="5.6" fill="#ff00ff"/><rect x="194.09" y="317.93" width="5.6" height="5.6" fill="#ff00ff"/><rect x="192.65" y="320.21" width="5.6" height="5.6" fill="#ff00ff"/><rect x="191.59" y="322.68" width="5.6" height="5.6" fill="#ff00ff"/><rect x="190.53" y="325.16" width="5.6" height="5.6" fill="#ff00ff"/><rect x="189.47" y="327.64" width="5.6" height="5.6" fill="#ff00ff"/><rect x="188.41" y="330.12" width="5.6" height="5.6" fill="#ff00ff"/><rect x="187.91" y="332.77" width="5.6" height="5.6" fill="#ff00ff"/><rect x="187.42" y="335.42" width="5.6" height="5.6" fill="#ff00ff"/><rect x="186.92" y="338.06" width="5.6" height="5.6" fill="#ff00ff"/><rect x="186.43" y="340.71" width="5.6" height="5.6" fill="#ff00ff"/><rect x="182.34" y="356.65" width="5.6" height="5.6" fill="#ff00ff"/><rect x="179.04" y="366.54" width="5.6" height="5.6" fill="#ff00ff"/><rect x="177.72" y="387.82" width="5.6" height="5.6" fill="#ff00ff"/><rect x="177.19" y="407.61" width="5.6" height="5.6" fill="#ff00ff"/><rect x="177.32" y="432.34" width="5.6" height="5.6" fill="#ff00ff"/><rect x="175.3" y="434.08" width="5.6" height="5.6" fill="#ff00ff"/><rect x="173.27" y="435.81" width="5.6" height="5.6" fill="#ff00ff"/><rect x="171.25" y="437.55" width="5.6" height="5.6" fill="#ff00ff"/><rect x="169.23" y="439.28" width="5.6" height="5.6" fill="#ff00ff"/><rect x="167.09" y="440.86" width="5.6" height="5.6" fill="#ff00ff"/><rect x="164.82" y="442.25" width="5.6" height="5.6" fill="#ff00ff"/><rect x="162.54" y="443.64" width="5.6" height="5.6" fill="#ff00ff"/><rect x="160.27" y="445.03" width="5.6" height="5.6" fill="#ff00ff"/><rect x="158" y="446.42" width="5.6" height="5.6" fill="#ff00ff"/><rect x="155.72" y="447.81" width="5.6" height="5.6" fill="#ff00ff"/><rect x="153.45" y="449.2" width="5.6" height="5.6" fill="#ff00ff"/><rect x="151.18" y="450.59" width="5.6" height="5.6" fill="#ff00ff"/><rect x="148.95" y="452.05" width="5.6" height="5.6" fill="#ff00ff"/><rect x="146.85" y="453.69" width="5.6" height="5.6" fill="#ff00ff"/><rect x="144.76" y="455.34" width="5.6" height="5.6" fill="#ff00ff"/><rect x="142.81" y="457.15" width="5.6" height="5.6" fill="#ff00ff"/><rect x="140.99" y="459.09" width="5.6" height="5.6" fill="#ff00ff"/><rect x="139.17" y="461.04" width="5.6" height="5.6" fill="#ff00ff"/><rect x="132.31" y="465.99" width="5.6" height="5.6" fill="#ff00ff"/><rect x="128.74" y="467.87" width="5.6" height="5.6" fill="#ff00ff"/><rect x="124.12" y="471.33" width="5.6" height="5.6" fill="#ff00ff"/><rect x="116.73" y="472.52" width="5.6" height="5.6" fill="#ff00ff"/><rect x="106.83" y="474.77" width="5.6" height="5.6" fill="#ff00ff"/><rect x="91.92" y="475.87" width="5.6" height="5.6" fill="#ff00ff"/><rect x="83.07" y="477.54" width="5.6" height="5.6" fill="#ff00ff"/><rect x="75.68" y="477.57" width="5.6" height="5.6" fill="#ff00ff"/><rect x="68.82" y="476.87" width="5.6" height="5.6" fill="#ff00ff"/><rect x="61.82" y="476.38" width="5.6" height="5.6" fill="#ff00ff"/><rect x="61.82" y="476.38" width="5.6" height="5.6" fill="#ff00ff"/><rect x="68.82" y="476.87" width="5.6" height="5.6" fill="#ff00ff"/><rect x="75.68" y="477.57" width="5.6" height="5.6" fill="#ff00ff"/><rect x="83.07" y="477.54" width="5.6" height="5.6" fill="#ff00ff"/><rect x="91.92" y="475.87" width="5.6" height="5.6" fill="#ff00ff"/><rect x="106.83" y="474.77" width="5.6" height="5.6" fill="#ff00ff"/><rect x="116.73" y="472.52" width="5.6" height="5.6" fill="#ff00ff"/><rect x="124.12" y="471.33" width="5.6" height="5.6" fill="#ff00ff"/><rect x="128.74" y="467.87" width="5.6" height="5.6" fill="#ff00ff"/><rect x="132.31" y="465.99" width="5.6" height="5.6" fill="#ff00ff"/><rect x="139.17" y="466.68" width="5.6" height="5.6" fill="#ff00ff"/><rect x="141.65" y="465.56" width="5.6" height="5.6" fill="#ff00ff"/><rect x="144.12" y="464.44" width="5.6" height="5.6" fill="#ff00ff"/><rect x="146.6" y="463.33" width="5.6" height="5.6" fill="#ff00ff"/><rect x="149.08" y="462.21" width="5.6" height="5.6" fill="#ff00ff"/><rect x="151.66" y="461.39" width="5.6" height="5.6" fill="#ff00ff"/><rect x="154.27" y="460.64" width="5.6" height="5.6" fill="#ff00ff"/><rect x="156.88" y="459.88" width="5.6" height="5.6" fill="#ff00ff"/><rect x="159.49" y="459.13" width="5.6" height="5.6" fill="#ff00ff"/><rect x="162.07" y="458.28" width="5.6" height="5.6" fill="#ff00ff"/><rect x="164.6" y="457.29" width="5.6" height="5.6" fill="#ff00ff"/><rect x="167.13" y="456.3" width="5.6" height="5.6" fill="#ff00ff"/><rect x="169.66" y="455.31" width="5.6" height="5.6" fill="#ff00ff"/><rect x="172.19" y="454.31" width="5.6" height="5.6" fill="#ff00ff"/><rect x="174.53" y="452.94" width="5.6" height="5.6" fill="#ff00ff"/><rect x="176.81" y="451.47" width="5.6" height="5.6" fill="#ff00ff"/><rect x="179.1" y="450" width="5.6" height="5.6" fill="#ff00ff"/><rect x="181.38" y="448.54" width="5.6" height="5.6" fill="#ff00ff"/><rect x="183.39" y="446.72" width="5.6" height="5.6" fill="#ff00ff"/><rect x="185.3" y="444.79" width="5.6" height="5.6" fill="#ff00ff"/><rect x="187.21" y="442.86" width="5.6" height="5.6" fill="#ff00ff"/><rect x="189.03" y="440.86" width="5.6" height="5.6" fill="#ff00ff"/><rect x="190.4" y="438.51" width="5.6" height="5.6" fill="#ff00ff"/><rect x="191.77" y="436.16" width="5.6" height="5.6" fill="#ff00ff"/><rect x="193.14" y="433.82" width="5.6" height="5.6" fill="#ff00ff"/><rect x="193.88" y="431.23" width="5.6" height="5.6" fill="#ff00ff"/><rect x="194.46" y="428.57" width="5.6" height="5.6" fill="#ff00ff"/><rect x="195.04" y="425.92" width="5.6" height="5.6" fill="#ff00ff"/><rect x="195.62" y="423.26" width="5.6" height="5.6" fill="#ff00ff"/><rect x="196.02" y="420.58" width="5.6" height="5.6" fill="#ff00ff"/><rect x="196.34" y="417.88" width="5.6" height="5.6" fill="#ff00ff"/><rect x="196.66" y="415.18" width="5.6" height="5.6" fill="#ff00ff"/><rect x="196.96" y="412.48" width="5.6" height="5.6" fill="#ff00ff"/><rect x="197.23" y="409.78" width="5.6" height="5.6" fill="#ff00ff"/><rect x="197.5" y="407.08" width="5.6" height="5.6" fill="#ff00ff"/><rect x="197.77" y="404.37" width="5.6" height="5.6" fill="#ff00ff"/><rect x="198.04" y="401.67" width="5.6" height="5.6" fill="#ff00ff"/><rect x="202.8" y="387.22" width="5.6" height="5.6" fill="#ff00ff"/><rect x="205.7" y="377.92" width="5.6" height="5.6" fill="#ff00ff"/><rect x="207.02" y="358.13" width="5.6" height="5.6" fill="#ff00ff"/><rect x="207.55" y="338.34" width="5.6" height="5.6" fill="#ff00ff"/><rect x="207.68" y="322.51" width="5.6" height="5.6" fill="#ff00ff"/><rect x="209.9" y="320.84" width="5.6" height="5.6" fill="#ff00ff"/><rect x="212.12" y="319.18" width="5.6" height="5.6" fill="#ff00ff"/><rect x="214.33" y="317.52" width="5.6" height="5.6" fill="#ff00ff"/><rect x="216.55" y="315.85" width="5.6" height="5.6" fill="#ff00ff"/><rect x="218.89" y="314.37" width="5.6" height="5.6" fill="#ff00ff"/><rect x="221.26" y="312.93" width="5.6" height="5.6" fill="#ff00ff"/><rect x="223.63" y="311.49" width="5.6" height="5.6" fill="#ff00ff"/><rect x="225.99" y="310.04" width="5.6" height="5.6" fill="#ff00ff"/><rect x="228.36" y="308.59" width="5.6" height="5.6" fill="#ff00ff"/><rect x="230.72" y="307.15" width="5.6" height="5.6" fill="#ff00ff"/><rect x="233.09" y="305.7" width="5.6" height="5.6" fill="#ff00ff"/><rect x="235.45" y="304.25" width="5.6" height="5.6" fill="#ff00ff"/><rect x="237.64" y="302.55" width="5.6" height="5.6" fill="#ff00ff"/><rect x="239.82" y="300.84" width="5.6" height="5.6" fill="#ff00ff"/><rect x="241.63" y="298.83" width="5.6" height="5.6" fill="#ff00ff"/><rect x="242.81" y="296.32" width="5.6" height="5.6" fill="#ff00ff"/><rect x="243.98" y="293.81" width="5.6" height="5.6" fill="#ff00ff"/><rect x="260.74" y="280.55" width="5.6" height="5.6" fill="#ff00ff"/><rect x="264.44" y="282.43" width="5.6" height="5.6" fill="#ff00ff"/><rect x="276.85" y="279.56" width="5.6" height="5.6" fill="#ff00ff"/><rect x="284.37" y="278.27" width="5.6" height="5.6" fill="#ff00ff"/><rect x="292.82" y="278.27" width="5.6" height="5.6" fill="#ff00ff"/><rect x="305.23" y="276" width="5.6" height="5.6" fill="#ff00ff"/><rect x="310.9" y="277.98" width="5.6" height="5.6" fill="#ff00ff"/><rect x="323.18" y="278.97" width="5.6" height="5.6" fill="#ff00ff"/></g>
<path d="M321.98 281.93L317.7 282.1M304.08 283.42L299.57 284.17M291.7 285.62L291.09 285.74M275.81 291.11L271.08 292.51M259.96 297.39L251.69 301.47M187.17 367.8L185.61 374.84M183.87 382.65L182.97 386.71M180.48 394.27L177.38 401.3M170.58 416.1L170.39 416.59M123.5 462.68L122.96 463M115.87 466.68L113.29 467.81M105.81 470.62L98.53 472.9M90.98 475.53L89.61 476.06M89.61 476.06L90.98 475.53M98.53 472.9L105.81 470.62M113.29 467.81L115.87 466.68M122.96 463L123.5 462.68M198.61 384.69L200.57 373.28M203.32 365.92L204.04 364.74M207.63 357.62L207.92 356.92M210.4 349.33L211.48 345.02M213.73 337.34L214.49 335.04M217.3 327.55L217.52 327.02M246.07 305.09L260.03 297.53M271.08 292.51L275.81 291.11M291.09 285.74L291.7 285.62M299.57 284.17L304.08 283.42M317.7 282.1L321.98 281.93" fill="none" stroke="#ff8000" stroke-width="0.9"/>
<g><circle cx="325.98" cy="281.77" r="3.1" fill="#ff8000"/><circle cx="313.7" cy="282.26" r="3.1" fill="#ff8000"/><circle cx="308.03" cy="282.76" r="3.1" fill="#ff8000"/><circle cx="295.62" cy="284.83" r="3.1" fill="#ff8000"/><circle cx="287.17" cy="286.52" r="3.1" fill="#ff8000"/><circle cx="279.65" cy="289.98" r="3.1" fill="#ff8000"/><circle cx="267.24" cy="293.64" r="3.1" fill="#ff8000"/><circle cx="263.54" cy="295.62" r="3.1" fill="#ff8000"/><circle cx="248.1" cy="303.24" r="3.1" fill="#ff8000"/><circle cx="245.69" cy="304.36" r="3.1" fill="#ff8000"/><circle cx="243.27" cy="305.48" r="3.1" fill="#ff8000"/><circle cx="240.86" cy="306.6" r="3.1" fill="#ff8000"/><circle cx="238.48" cy="307.79" r="3.1" fill="#ff8000"/><circle cx="236.1" cy="308.99" r="3.1" fill="#ff8000"/><circle cx="233.72" cy="310.18" r="3.1" fill="#ff8000"/><circle cx="231.35" cy="311.38" r="3.1" fill="#ff8000"/><circle cx="228.97" cy="312.57" r="3.1" fill="#ff8000"/><circle cx="226.59" cy="313.77" r="3.1" fill="#ff8000"/><circle cx="224.22" cy="314.97" r="3.1" fill="#ff8000"/><circle cx="221.85" cy="316.17" r="3.1" fill="#ff8000"/><circle cx="219.47" cy="317.37" r="3.1" fill="#ff8000"/><circle cx="217.12" cy="318.61" r="3.1" fill="#ff8000"/><circle cx="214.9" cy="320.08" r="3.1" fill="#ff8000"/><circle cx="212.68" cy="321.54" r="3.1" fill="#ff8000"/><circle cx="210.45" cy="323.01" r="3.1" fill="#ff8000"/><circle cx="208.31" cy="324.57" r="3.1" fill="#ff8000"/><circle cx="206.42" cy="326.44" r="3.1" fill="#ff8000"/><circle cx="204.53" cy="328.31" r="3.1" fill="#ff8000"/><circle cx="202.64" cy="330.19" r="3.1" fill="#ff8000"/><circle cx="200.89" cy="332.17" r="3.1" fill="#ff8000"/><circle cx="199.41" cy="334.38" r="3.1" fill="#ff8000"/><circle cx="197.93" cy="336.6" r="3.1" fill="#ff8000"/><circle cx="196.46" cy="338.81" r="3.1" fill="#ff8000"/><circle cx="195.15" cy="341.12" r="3.1" fill="#ff8000"/><circle cx="194.12" cy="343.57" r="3.1" fill="#ff8000"/><circle cx="193.08" cy="346.02" r="3.1" fill="#ff8000"/><circle cx="192.04" cy="348.47" r="3.1" fill="#ff8000"/><circle cx="191.09" cy="350.95" r="3.1" fill="#ff8000"/><circle cx="190.48" cy="353.54" r="3.1" fill="#ff8000"/><circle cx="189.87" cy="356.13" r="3.1" fill="#ff8000"/><circle cx="189.26" cy="358.72" r="3.1" fill="#ff8000"/><circle cx="188.65" cy="361.31" r="3.1" fill="#ff8000"/><circle cx="188.04" cy="363.9" r="3.1" fill="#ff8000"/><circle cx="184.74" cy="378.74" r="3.1" fill="#ff8000"/><circle cx="182.1" cy="390.62" r="3.1" fill="#ff8000"/><circle cx="175.76" cy="404.96" r="3.1" fill="#ff8000"/><circle cx="172.07" cy="412.39" r="3.1" fill="#ff8000"/><circle cx="168.9" cy="420.3" r="3.1" fill="#ff8000"/><circle cx="167.44" cy="422.48" r="3.1" fill="#ff8000"/><circle cx="165.99" cy="424.67" r="3.1" fill="#ff8000"/><circle cx="164.53" cy="426.85" r="3.1" fill="#ff8000"/><circle cx="163.08" cy="429.03" r="3.1" fill="#ff8000"/><circle cx="161.52" cy="431.13" r="3.1" fill="#ff8000"/><circle cx="159.84" cy="433.15" r="3.1" fill="#ff8000"/><circle cx="158.16" cy="435.16" r="3.1" fill="#ff8000"/><circle cx="156.48" cy="437.18" r="3.1" fill="#ff8000"/><circle cx="154.84" cy="439.22" r="3.1" fill="#ff8000"/><circle cx="153.24" cy="441.3" r="3.1" fill="#ff8000"/><circle cx="151.63" cy="443.37" r="3.1" fill="#ff8000"/><circle cx="150.03" cy="445.44" r="3.1" fill="#ff8000"/><circle cx="148.42" cy="447.52" r="3.1" fill="#ff8000"/><circle cx="146.37" cy="449.1" r="3.1" fill="#ff8000"/><circle cx="144.17" cy="450.53" r="3.1" fill="#ff8000"/><circle cx="141.97" cy="451.97" r="3.1" fill="#ff8000"/><circle cx="135.11" cy="456.42" r="3.1" fill="#ff8000"/><circle cx="131.54" cy="458.6" r="3.1" fill="#ff8000"/><circle cx="126.92" cy="460.61" r="3.1" fill="#ff8000"/><circle cx="119.53" cy="465.06" r="3.1" fill="#ff8000"/><circle cx="109.63" cy="469.42" r="3.1" fill="#ff8000"/><circle cx="94.72" cy="474.09" r="3.1" fill="#ff8000"/><circle cx="85.87" cy="477.49" r="3.1" fill="#ff8000"/><circle cx="78.48" cy="478.68" r="3.1" fill="#ff8000"/><circle cx="71.62" cy="479.67" r="3.1" fill="#ff8000"/><circle cx="64.62" cy="479.67" r="3.1" fill="#ff8000"/><circle cx="64.62" cy="479.67" r="3.1" fill="#ff8000"/><circle cx="71.62" cy="479.67" r="3.1" fill="#ff8000"/><circle cx="78.48" cy="478.68" r="3.1" fill="#ff8000"/><circle cx="85.87" cy="477.49" r="3.1" fill="#ff8000"/><circle cx="94.72" cy="474.09" r="3.1" fill="#ff8000"/><circle cx="109.63" cy="469.42" r="3.1" fill="#ff8000"/><circle cx="119.53" cy="465.06" r="3.1" fill="#ff8000"/><circle cx="126.92" cy="460.61" r="3.1" fill="#ff8000"/><circle cx="131.54" cy="458.6" r="3.1" fill="#ff8000"/><circle cx="135.11" cy="456.42" r="3.1" fill="#ff8000"/><circle cx="141.97" cy="452.96" r="3.1" fill="#ff8000"/><circle cx="144.21" cy="451.45" r="3.1" fill="#ff8000"/><circle cx="146.44" cy="449.95" r="3.1" fill="#ff8000"/><circle cx="148.68" cy="448.44" r="3.1" fill="#ff8000"/><circle cx="150.91" cy="446.94" r="3.1" fill="#ff8000"/><circle cx="153.16" cy="445.46" r="3.1" fill="#ff8000"/><circle cx="155.43" cy="444.01" r="3.1" fill="#ff8000"/><circle cx="157.7" cy="442.56" r="3.1" fill="#ff8000"/><circle cx="159.97" cy="441.11" r="3.1" fill="#ff8000"/><circle cx="162.24" cy="439.66" r="3.1" fill="#ff8000"/><circle cx="164.49" cy="438.17" r="3.1" fill="#ff8000"/><circle cx="166.67" cy="436.59" r="3.1" fill="#ff8000"/><circle cx="168.85" cy="435.01" r="3.1" fill="#ff8000"/><circle cx="171.04" cy="433.43" r="3.1" fill="#ff8000"/><circle cx="173.22" cy="431.85" r="3.1" fill="#ff8000"/><circle cx="175.4" cy="430.27" r="3.1" fill="#ff8000"/><circle cx="177.25" cy="428.32" r="3.1" fill="#ff8000"/><circle cx="179.09" cy="426.35" r="3.1" fill="#ff8000"/><circle cx="180.93" cy="424.38" r="3.1" fill="#ff8000"/><circle cx="182.77" cy="422.41" r="3.1" fill="#ff8000"/><circle cx="184.61" cy="420.44" r="3.1" fill="#ff8000"/><circle cx="186.23" cy="418.29" r="3.1" fill="#ff8000"/><circle cx="187.83" cy="416.13" r="3.1" fill="#ff8000"/><circle cx="189.44" cy="413.96" r="3.1" fill="#ff8000"/><circle cx="191.04" cy="411.8" r="3.1" fill="#ff8000"/><circle cx="192.09" cy="409.33" r="3.1" fill="#ff8000"/><circle cx="193.01" cy="406.8" r="3.1" fill="#ff8000"/><circle cx="193.93" cy="404.27" r="3.1" fill="#ff8000"/><circle cx="194.85" cy="401.74" r="3.1" fill="#ff8000"/><circle cx="195.6" cy="399.16" r="3.1" fill="#ff8000"/><circle cx="196.19" cy="396.53" r="3.1" fill="#ff8000"/><circle cx="196.77" cy="393.9" r="3.1" fill="#ff8000"/><circle cx="197.36" cy="391.27" r="3.1" fill="#ff8000"/><circle cx="197.94" cy="388.64" r="3.1" fill="#ff8000"/><circle cx="201.24" cy="369.34" r="3.1" fill="#ff8000"/><circle cx="206.12" cy="361.33" r="3.1" fill="#ff8000"/><circle cx="209.42" cy="353.21" r="3.1" fill="#ff8000"/><circle cx="212.46" cy="341.14" r="3.1" fill="#ff8000"/><circle cx="215.76" cy="331.24" r="3.1" fill="#ff8000"/><circle cx="219.06" cy="323.33" r="3.1" fill="#ff8000"/><circle cx="221.04" cy="321.63" r="3.1" fill="#ff8000"/><circle cx="223.03" cy="319.93" r="3.1" fill="#ff8000"/><circle cx="225.01" cy="318.23" r="3.1" fill="#ff8000"/><circle cx="226.99" cy="316.53" r="3.1" fill="#ff8000"/><circle cx="229.06" cy="314.95" r="3.1" fill="#ff8000"/><circle cx="231.3" cy="313.61" r="3.1" fill="#ff8000"/><circle cx="233.54" cy="312.27" r="3.1" fill="#ff8000"/><circle cx="235.79" cy="310.94" r="3.1" fill="#ff8000"/><circle cx="238.04" cy="309.63" r="3.1" fill="#ff8000"/><circle cx="240.3" cy="308.31" r="3.1" fill="#ff8000"/><circle cx="242.56" cy="307" r="3.1" fill="#ff8000"/><circle cx="263.54" cy="295.62" r="3.1" fill="#ff8000"/><circle cx="267.24" cy="293.64" r="3.1" fill="#ff8000"/><circle cx="279.65" cy="289.98" r="3.1" fill="#ff8000"/><circle cx="287.17" cy="286.52" r="3.1" fill="#ff8000"/><circle cx="295.62" cy="284.83" r="3.1" fill="#ff8000"/><circle cx="308.03" cy="282.76" r="3.1" fill="#ff8000"/><circle cx="313.7" cy="282.26" r="3.1" fill="#ff8000"/><circle cx="325.98" cy="281.77" r="3.1" fill="#ff8000"/></g>
<path d="M325.98 281.77L313.7 286.37L308.03 288.5L295.62 294.63L287.17 298.91L279.65 303.54L267.24 311.16L263.54 313.43L248.1 321.35L245.94 322.97L243.78 324.59L241.62 326.21L239.46 327.83L237.29 329.45L235.13 331.07L232.9 332.59L230.66 334.1L228.42 335.61L226.18 337.12L223.95 338.63L221.71 340.14L219.39 341.53L217.07 342.92L214.76 344.31L212.44 345.7L210.12 347.09L207.82 348.5L205.55 349.96L203.28 351.42L201 352.88L198.87 354.49L197.18 356.6L195.49 358.71L194.54 361.22L193.69 363.78L192.83 366.35L191.98 368.91L191.09 371.46L190.08 373.96L189.08 376.47L188.08 378.98L186.94 381.42L185.48 383.69L184.03 385.97L182.58 388.25L181.12 390.52L179.49 392.64L177.44 394.4L175.39 396.16L173.33 397.91L171.28 399.67L169.23 401.43L167.18 403.19L165.13 404.94L163.08 406.7L161.07 408.5L159.16 410.42L157.26 412.33L155.35 414.24L153.44 416.16L151.58 418.11L149.78 420.12L147.98 422.14L146.18 424.15L144.38 426.17L142.58 428.18L140.78 430.2L135.11 440.59L131.54 443.06L126.92 445.53L119.53 449.99L109.63 454.94L94.72 462.85L85.87 467.5L78.48 469.78L71.62 472.45L64.62 476.71L64.62 476.71L71.62 472.45L78.48 469.78L85.87 467.5L94.72 462.85L109.63 454.94L119.53 449.99L126.92 445.53L131.54 443.06L135.11 440.59L140.78 437.12L143.08 435.74L145.37 434.36L147.66 432.97L149.96 431.59L152.25 430.21L154.55 428.84L156.85 427.46L159.15 426.09L161.45 424.72L163.75 423.35L166.05 421.98L168.35 420.61L170.65 419.23L172.95 417.86L175.25 416.49L177.51 415.05L179.77 413.6L182.02 412.15L184.27 410.71L186.35 409.03L188.39 407.28L190.42 405.54L192.45 403.8L194.16 401.85L194.88 399.27L195.59 396.69L196.31 394.11L197.03 391.52L197.7 388.93L198.35 386.33L199 383.74L199.83 381.2L200.79 378.69L201.74 376.19L203.44 374.16L205.29 372.22L207.13 370.28L209 368.36L210.92 366.49L212.84 364.62L214.75 362.75L216.67 360.88L218.59 359.01L220.51 357.14L222.45 355.29L224.42 353.48L226.39 351.67L228.36 349.85L230.33 348.04L232.3 346.22L234.27 344.41L236.24 342.6L238.14 340.71L240.02 338.8L241.9 336.9L243.78 334.99L245.66 333.08L247.54 331.17L249.42 329.26L263.54 313.43L267.24 311.16L279.65 303.54L287.17 298.91L295.62 294.63L308.03 288.5L313.7 286.37L325.98 281.77" fill="none" stroke="#00ff00" stroke-width="0.9"/>
<g><path d="M325.98 277.74L329.48 284.39L322.48 284.39Z" fill="#00ff00"/><path d="M313.7 282.34L317.2 288.99L310.2 288.99Z" fill="#00ff00"/><path d="M308.03 284.47L311.53 291.12L304.53 291.12Z" fill="#00ff00"/><path d="M295.62 290.61L299.12 297.26L292.12 297.26Z" fill="#00ff00"/><path d="M287.17 294.89L290.67 301.54L283.67 301.54Z" fill="#00ff00"/><path d="M279.65 299.51L283.15 306.16L276.15 306.16Z" fill="#00ff00"/><path d="M267.24 307.14L270.74 313.79L263.74 313.79Z" fill="#00ff00"/><path d="M263.54 309.41L267.04 316.06L260.04 316.06Z" fill="#00ff00"/><path d="M248.1 317.32L251.6 323.97L244.6 323.97Z" fill="#00ff00"/><path d="M245.94 318.94L249.44 325.59L242.44 325.59Z" fill="#00ff00"/><path d="M243.78 320.56L247.28 327.21L240.28 327.21Z" fill="#00ff00"/><path d="M241.62 322.18L245.12 328.83L238.12 328.83Z" fill="#00ff00"/><path d="M239.46 323.8L242.96 330.45L235.96 330.45Z" fill="#00ff00"/><path d="M237.29 325.42L240.79 332.07L233.79 332.07Z" fill="#00ff00"/><path d="M235.13 327.04L238.63 333.69L231.63 333.69Z" fill="#00ff00"/><path d="M232.9 328.57L236.4 335.22L229.4 335.22Z" fill="#00ff00"/><path d="M230.66 330.08L234.16 336.73L227.16 336.73Z" fill="#00ff00"/><path d="M228.42 331.59L231.92 338.24L224.92 338.24Z" fill="#00ff00"/><path d="M226.18 333.1L229.68 339.75L222.68 339.75Z" fill="#00ff00"/><path d="M223.95 334.61L227.45 341.26L220.45 341.26Z" fill="#00ff00"/><path d="M221.71 336.12L225.21 342.77L218.21 342.77Z" fill="#00ff00"/><path d="M219.39 337.51L222.89 344.16L215.89 344.16Z" fill="#00ff00"/><path d="M217.07 338.9L220.57 345.55L213.57 345.55Z" fill="#00ff00"/><path d="M214.76 340.29L218.26 346.94L211.26 346.94Z" fill="#00ff00"/><path d="M212.44 341.68L215.94 348.33L208.94 348.33Z" fill="#00ff00"/><path d="M210.12 343.07L213.62 349.72L206.62 349.72Z" fill="#00ff00"/><path d="M207.82 344.48L211.32 351.13L204.32 351.13Z" fill="#00ff00"/><path d="M205.55 345.94L209.05 352.59L202.05 352.59Z" fill="#00ff00"/><path d="M203.28 347.4L206.78 354.05L199.78 354.05Z" fill="#00ff00"/><path d="M201 348.86L204.5 355.51L197.5 355.51Z" fill="#00ff00"/><path d="M198.87 350.47L202.37 357.12L195.37 357.12Z" fill="#00ff00"/><path d="M197.18 352.58L200.68 359.23L193.68 359.23Z" fill="#00ff00"/><path d="M195.49 354.69L198.99 361.34L191.99 361.34Z" fill="#00ff00"/><path d="M194.54 357.2L198.04 363.85L191.04 363.85Z" fill="#00ff00"/><path d="M193.69 359.76L197.19 366.41L190.19 366.41Z" fill="#00ff00"/><path d="M192.83 362.32L196.33 368.97L189.33 368.97Z" fill="#00ff00"/><path d="M191.98 364.88L195.48 371.53L188.48 371.53Z" fill="#00ff00"/><path d="M191.09 367.43L194.59 374.08L187.59 374.08Z" fill="#00ff00"/><path d="M190.08 369.94L193.58 376.59L186.58 376.59Z" fill="#00ff00"/><path d="M189.08 372.45L192.58 379.1L185.58 379.1Z" fill="#00ff00"/><path d="M188.08 374.95L191.58 381.6L184.58 381.6Z" fill="#00ff00"/><path d="M186.94 377.39L190.44 384.04L183.44 384.04Z" fill="#00ff00"/><path d="M185.48 379.67L188.98 386.32L181.98 386.32Z" fill="#00ff00"/><path d="M184.03 381.95L187.53 388.6L180.53 388.6Z" fill="#00ff00"/><path d="M182.58 384.22L186.08 390.87L179.08 390.87Z" fill="#00ff00"/><path d="M181.12 386.5L184.62 393.15L177.62 393.15Z" fill="#00ff00"/><path d="M179.49 388.62L182.99 395.27L175.99 395.27Z" fill="#00ff00"/><path d="M177.44 390.37L180.94 397.02L173.94 397.02Z" fill="#00ff00"/><path d="M175.39 392.13L178.89 398.78L171.89 398.78Z" fill="#00ff00"/><path d="M173.33 393.89L176.83 400.54L169.83 400.54Z" fill="#00ff00"/><path d="M171.28 395.65L174.78 402.3L167.78 402.3Z" fill="#00ff00"/><path d="M169.23 397.4L172.73 404.05L165.73 404.05Z" fill="#00ff00"/><path d="M167.18 399.16L170.68 405.81L163.68 405.81Z" fill="#00ff00"/><path d="M165.13 400.92L168.63 407.57L161.63 407.57Z" fill="#00ff00"/><path d="M163.08 402.68L166.58 409.33L159.58 409.33Z" fill="#00ff00"/><path d="M161.07 404.48L164.57 411.13L157.57 411.13Z" fill="#00ff00"/><path d="M159.16 406.39L162.66 413.04L155.66 413.04Z" fill="#00ff00"/><path d="M157.26 408.3L160.76 414.95L153.76 414.95Z" fill="#00ff00"/><path d="M155.35 410.22L158.85 416.87L151.85 416.87Z" fill="#00ff00"/><path d="M153.44 412.13L156.94 418.78L149.94 418.78Z" fill="#00ff00"/><path d="M151.58 414.08L155.08 420.73L148.08 420.73Z" fill="#00ff00"/><path d="M149.78 416.1L153.28 422.75L146.28 422.75Z" fill="#00ff00"/><path d="M147.98 418.11L151.48 424.76L144.48 424.76Z" fill="#00ff00"/><path d="M146.18 420.13L149.68 426.78L142.68 426.78Z" fill="#00ff00"/><path d="M144.38 422.14L147.88 428.79L140.88 428.79Z" fill="#00ff00"/><path d="M142.58 424.16L146.08 430.81L139.08 430.81Z" fill="#00ff00"/><path d="M140.78 426.17L144.28 432.82L137.28 432.82Z" fill="#00ff00"/><path d="M135.11 436.56L138.61 443.21L131.61 443.21Z" fill="#00ff00"/><path d="M131.54 439.04L135.04 445.69L128.04 445.69Z" fill="#00ff00"/><path d="M126.92 441.51L130.42 448.16L123.42 448.16Z" fill="#00ff00"/><path d="M119.53 445.96L123.03 452.61L116.03 452.61Z" fill="#00ff00"/><path d="M109.63 450.91L113.13 457.56L106.13 457.56Z" fill="#00ff00"/><path d="M94.72 458.83L98.22 465.48L91.22 465.48Z" fill="#00ff00"/><path d="M85.87 463.48L89.37 470.13L82.37 470.13Z" fill="#00ff00"/><path d="M78.48 465.75L81.98 472.4L74.98 472.4Z" fill="#00ff00"/><path d="M71.62 468.43L75.12 475.08L68.12 475.08Z" fill="#00ff00"/><path d="M64.62 472.68L68.12 479.33L61.12 479.33Z" fill="#00ff00"/><path d="M64.62 472.68L68.12 479.33L61.12 479.33Z" fill="#00ff00"/><path d="M71.62 468.43L75.12 475.08L68.12 475.08Z" fill="#00ff00"/><path d="M78.48 465.75L81.98 472.4L74.98 472.4Z" fill="#00ff00"/><path d="M85.87 463.48L89.37 470.13L82.37 470.13Z" fill="#00ff00"/><path d="M94.72 458.83L98.22 465.48L91.22 465.48Z" fill="#00ff00"/><path d="M109.63 450.91L113.13 457.56L106.13 457.56Z" fill="#00ff00"/><path d="M119.53 445.96L123.03 452.61L116.03 452.61Z" fill="#00ff00"/><path d="M126.92 441.51L130.42 448.16L123.42 448.16Z" fill="#00ff00"/><path d="M131.54 439.04L135.04 445.69L128.04 445.69Z" fill="#00ff00"/><path d="M135.11 436.56L138.61 443.21L131.61 443.21Z" fill="#00ff00"/><path d="M140.78 433.1L144.28 439.75L137.28 439.75Z" fill="#00ff00"/><path d="M143.08 431.72L146.58 438.37L139.58 438.37Z" fill="#00ff00"/><path d="M145.37 430.33L148.87 436.98L141.87 436.98Z" fill="#00ff00"/><path d="M147.66 428.95L151.16 435.6L144.16 435.6Z" fill="#00ff00"/><path d="M149.96 427.57L153.46 434.22L146.46 434.22Z" fill="#00ff00"/><path d="M152.25 426.18L155.75 432.83L148.75 432.83Z" fill="#00ff00"/><path d="M154.55 424.81L158.05 431.46L151.05 431.46Z" fill="#00ff00"/><path d="M156.85 423.44L160.35 430.09L153.35 430.09Z" fill="#00ff00"/><path d="M159.15 422.07L162.65 428.72L155.65 428.72Z" fill="#00ff00"/><path d="M161.45 420.7L164.95 427.35L157.95 427.35Z" fill="#00ff00"/><path d="M163.75 419.32L167.25 425.97L160.25 425.97Z" fill="#00ff00"/><path d="M166.05 417.95L169.55 424.6L162.55 424.6Z" fill="#00ff00"/><path d="M168.35 416.58L171.85 423.23L164.85 423.23Z" fill="#00ff00"/><path d="M170.65 415.21L174.15 421.86L167.15 421.86Z" fill="#00ff00"/><path d="M172.95 413.84L176.45 420.49L169.45 420.49Z" fill="#00ff00"/><path d="M175.25 412.47L178.75 419.12L171.75 419.12Z" fill="#00ff00"/><path d="M177.51 411.03L181.01 417.68L174.01 417.68Z" fill="#00ff00"/><path d="M179.77 409.58L183.27 416.23L176.27 416.23Z" fill="#00ff00"/><path d="M182.02 408.13L185.52 414.78L178.52 414.78Z" fill="#00ff00"/><path d="M184.27 406.68L187.77 413.33L180.77 413.33Z" fill="#00ff00"/><path d="M186.35 405L189.85 411.65L182.85 411.65Z" fill="#00ff00"/><path d="M188.39 403.26L191.89 409.91L184.89 409.91Z" fill="#00ff00"/><path d="M190.42 401.52L193.92 408.17L186.92 408.17Z" fill="#00ff00"/><path d="M192.45 399.77L195.95 406.42L188.95 406.42Z" fill="#00ff00"/><path d="M194.16 397.82L197.66 404.47L190.66 404.47Z" fill="#00ff00"/><path d="M194.88 395.24L198.38 401.89L191.38 401.89Z" fill="#00ff00"/><path d="M195.59 392.66L199.09 399.31L192.09 399.31Z" fill="#00ff00"/><path d="M196.31 390.08L199.81 396.73L192.81 396.73Z" fill="#00ff00"/><path d="M197.03 387.5L200.53 394.15L193.53 394.15Z" fill="#00ff00"/><path d="M197.7 384.91L201.2 391.56L194.2 391.56Z" fill="#00ff00"/><path d="M198.35 382.31L201.85 388.96L194.85 388.96Z" fill="#00ff00"/><path d="M199 379.71L202.5 386.36L195.5 386.36Z" fill="#00ff00"/><path d="M199.83 377.17L203.33 383.82L196.33 383.82Z" fill="#00ff00"/><path d="M200.79 374.67L204.29 381.32L197.29 381.32Z" fill="#00ff00"/><path d="M201.74 372.17L205.24 378.82L198.24 378.82Z" fill="#00ff00"/><path d="M203.44 370.13L206.94 376.78L199.94 376.78Z" fill="#00ff00"/><path d="M205.29 368.19L208.79 374.84L201.79 374.84Z" fill="#00ff00"/><path d="M207.13 366.25L210.63 372.9L203.63 372.9Z" fill="#00ff00"/><path d="M209 364.33L212.5 370.98L205.5 370.98Z" fill="#00ff00"/><path d="M210.92 362.46L214.42 369.11L207.42 369.11Z" fill="#00ff00"/><path d="M212.84 360.59L216.34 367.24L209.34 367.24Z" fill="#00ff00"/><path d="M214.75 358.73L218.25 365.38L211.25 365.38Z" fill="#00ff00"/><path d="M216.67 356.86L220.17 363.51L213.17 363.51Z" fill="#00ff00"/><path d="M218.59 354.99L222.09 361.64L215.09 361.64Z" fill="#00ff00"/><path d="M220.51 353.12L224.01 359.77L217.01 359.77Z" fill="#00ff00"/><path d="M222.45 351.27L225.95 357.92L218.95 357.92Z" fill="#00ff00"/><path d="M224.42 349.46L227.92 356.11L220.92 356.11Z" fill="#00ff00"/><path d="M226.39 347.64L229.89 354.29L222.89 354.29Z" fill="#00ff00"/><path d="M228.36 345.83L231.86 352.48L224.86 352.48Z" fill="#00ff00"/><path d="M230.33 344.01L233.83 350.66L226.83 350.66Z" fill="#00ff00"/><path d="M232.3 342.2L235.8 348.85L228.8 348.85Z" fill="#00ff00"/><path d="M234.27 340.39L237.77 347.04L230.77 347.04Z" fill="#00ff00"/><path d="M236.24 338.57L239.74 345.22L232.74 345.22Z" fill="#00ff00"/><path d="M238.14 336.69L241.64 343.34L234.64 343.34Z" fill="#00ff00"/><path d="M240.02 334.78L243.52 341.43L236.52 341.43Z" fill="#00ff00"/><path d="M241.9 332.87L245.4 339.52L238.4 339.52Z" fill="#00ff00"/><path d="M243.78 330.96L247.28 337.61L240.28 337.61Z" fill="#00ff00"/><path d="M245.66 329.06L249.16 335.71L242.16 335.71Z" fill="#00ff00"/><path d="M247.54 327.15L251.04 333.8L244.04 333.8Z" fill="#00ff00"/><path d="M249.42 325.24L252.92 331.89L245.92 331.89Z" fill="#00ff00"/><path d="M263.54 309.41L267.04 316.06L260.04 316.06Z" fill="#00ff00"/><path d="M267.24 307.14L270.74 313.79L263.74 313.79Z" fill="#00ff00"/><path d="M279.65 299.51L283.15 306.16L276.15 306.16Z" fill="#00ff00"/><path d="M287.17 294.89L290.67 301.54L283.67 301.54Z" fill="#00ff00"/><path d="M295.62 290.61L299.12 297.26L292.12 297.26Z" fill="#00ff00"/><path d="M308.03 284.47L311.53 291.12L304.53 291.12Z" fill="#00ff00"/><path d="M313.7 282.34L317.2 288.99L310.2 288.99Z" fill="#00ff00"/><path d="M325.98 277.74L329.48 284.39L322.48 284.39Z" fill="#00ff00"/></g>
<path d="M325.98 275.83L308.03 283.75L288.1 292.5L267.24 303.24L261.3 308.88L248.1 317.39L245.54 318.32L242.99 319.24L240.43 320.17L238.1 321.56L235.84 323.06L233.57 324.56L231.3 326.06L229.11 327.67L226.93 329.3L224.76 330.93L222.58 332.56L220.4 334.19L218.23 335.83L216.05 337.46L213.88 339.09L211.6 340.57L209.31 342.04L207.02 343.52L204.74 344.99L202.45 346.46L200.44 348.26L198.63 350.29L196.81 352.31L195.18 354.44L194.43 357.05L193.68 359.67L192.93 362.28L192.19 364.9L191.44 367.51L190.73 370.14L190.03 372.76L189.33 375.39L188.63 378.02L187.93 380.65L187.07 383.2L185.63 385.51L184.19 387.82L182.76 390.13L181.32 392.44L179.79 394.67L177.74 396.46L175.7 398.26L173.66 400.05L171.61 401.85L169.56 403.63L167.49 405.39L165.42 407.16L163.36 408.93L161.32 410.73L159.4 412.66L157.48 414.58L155.56 416.51L153.64 418.43L151.74 420.38L149.92 422.4L148.09 424.41L146.26 426.43L144.44 428.44L142.61 430.46L140.78 432.47L135.11 443.56L131.54 446.03L126.92 448.5L119.53 452.96L109.63 457.9L94.72 465.82L85.87 470.47L78.48 472.75L71.62 475.42L64.62 479.67L64.62 479.67L71.62 475.42L78.48 472.75L85.87 470.47L94.72 465.82L109.63 457.9L119.53 452.96L126.92 448.5L131.54 446.03L135.11 443.56L140.78 439.4L143.2 438.19L145.62 436.99L148.03 435.78L150.45 434.57L152.84 433.32L155.16 431.94L157.48 430.55L159.8 429.17L162.12 427.79L164.43 426.41L166.75 425.02L169.07 423.64L171.39 422.26L173.71 420.87L175.99 419.44L178.16 417.82L180.32 416.2L182.48 414.58L184.64 412.96L186.67 411.18L188.7 409.4L190.73 407.62L192.76 405.84L194.18 403.71L194.67 401.05L195.17 398.4L195.66 395.74L196.16 393.09L196.64 390.43L197 387.76L197.36 385.08L197.72 382.4L198.11 379.73L198.57 377.07L199.03 374.41L199.5 371.75L200.83 369.51L202.63 367.5L204.43 365.49L206.23 363.47L208.03 361.46L209.87 359.49L211.74 357.53L213.6 355.58L215.46 353.62L217.32 351.67L219.19 349.71L221.05 347.76L222.96 345.85L224.89 343.96L226.83 342.08L228.76 340.19L230.69 338.31L232.63 336.43L234.56 334.54L236.5 332.66L238.43 330.77L240.36 328.89L242.3 327L244.23 325.12L246.17 323.23L248.1 321.35L261.3 308.88L267.24 303.24L288.1 292.5L308.03 283.75L325.98 275.83" fill="none" stroke="#0000ff" stroke-width="0.9"/>
<g><path d="M325.98 279.85L329.48 273.2L322.48 273.2Z" fill="#0000ff"/><path d="M308.03 287.77L311.53 281.12L304.53 281.12Z" fill="#0000ff"/><path d="M288.1 296.53L291.6 289.88L284.6 289.88Z" fill="#0000ff"/><path d="M267.24 307.26L270.74 300.61L263.74 300.61Z" fill="#0000ff"/><path d="M261.3 312.91L264.8 306.26L257.8 306.26Z" fill="#0000ff"/><path d="M248.1 321.42L251.6 314.77L244.6 314.77Z" fill="#0000ff"/><path d="M245.54 322.34L249.04 315.69L242.04 315.69Z" fill="#0000ff"/><path d="M242.99 323.27L246.49 316.62L239.49 316.62Z" fill="#0000ff"/><path d="M240.43 324.2L243.93 317.55L236.93 317.55Z" fill="#0000ff"/><path d="M238.1 325.58L241.6 318.93L234.6 318.93Z" fill="#0000ff"/><path d="M235.84 327.08L239.34 320.43L232.34 320.43Z" fill="#0000ff"/><path d="M233.57 328.58L237.07 321.93L230.07 321.93Z" fill="#0000ff"/><path d="M231.3 330.08L234.8 323.43L227.8 323.43Z" fill="#0000ff"/><path d="M229.11 331.69L232.61 325.04L225.61 325.04Z" fill="#0000ff"/><path d="M226.93 333.33L230.43 326.68L223.43 326.68Z" fill="#0000ff"/><path d="M224.76 334.96L228.26 328.31L221.26 328.31Z" fill="#0000ff"/><path d="M222.58 336.59L226.08 329.94L219.08 329.94Z" fill="#0000ff"/><path d="M220.4 338.22L223.9 331.57L216.9 331.57Z" fill="#0000ff"/><path d="M218.23 339.85L221.73 333.2L214.73 333.2Z" fill="#0000ff"/><path d="M216.05 341.48L219.55 334.83L212.55 334.83Z" fill="#0000ff"/><path d="M213.88 343.11L217.38 336.46L210.38 336.46Z" fill="#0000ff"/><path d="M211.6 344.59L215.1 337.94L208.1 337.94Z" fill="#0000ff"/><path d="M209.31 346.07L212.81 339.42L205.81 339.42Z" fill="#0000ff"/><path d="M207.02 347.54L210.52 340.89L203.52 340.89Z" fill="#0000ff"/><path d="M204.74 349.02L208.24 342.37L201.24 342.37Z" fill="#0000ff"/><path d="M202.45 350.49L205.95 343.84L198.95 343.84Z" fill="#0000ff"/><path d="M200.44 352.29L203.94 345.64L196.94 345.64Z" fill="#0000ff"/><path d="M198.63 354.31L202.13 347.66L195.13 347.66Z" fill="#0000ff"/><path d="M196.81 356.34L200.31 349.69L193.31 349.69Z" fill="#0000ff"/><path d="M195.18 358.46L198.68 351.81L191.68 351.81Z" fill="#0000ff"/><path d="M194.43 361.08L197.93 354.43L190.93 354.43Z" fill="#0000ff"/><path d="M193.68 363.69L197.18 357.04L190.18 357.04Z" fill="#0000ff"/><path d="M192.93 366.31L196.43 359.66L189.43 359.66Z" fill="#0000ff"/><path d="M192.19 368.92L195.69 362.27L188.69 362.27Z" fill="#0000ff"/><path d="M191.44 371.54L194.94 364.89L187.94 364.89Z" fill="#0000ff"/><path d="M190.73 374.16L194.23 367.51L187.23 367.51Z" fill="#0000ff"/><path d="M190.03 376.79L193.53 370.14L186.53 370.14Z" fill="#0000ff"/><path d="M189.33 379.42L192.83 372.77L185.83 372.77Z" fill="#0000ff"/><path d="M188.63 382.04L192.13 375.39L185.13 375.39Z" fill="#0000ff"/><path d="M187.93 384.67L191.43 378.02L184.43 378.02Z" fill="#0000ff"/><path d="M187.07 387.23L190.57 380.58L183.57 380.58Z" fill="#0000ff"/><path d="M185.63 389.54L189.13 382.89L182.13 382.89Z" fill="#0000ff"/><path d="M184.19 391.85L187.69 385.2L180.69 385.2Z" fill="#0000ff"/><path d="M182.76 394.16L186.26 387.51L179.26 387.51Z" fill="#0000ff"/><path d="M181.32 396.47L184.82 389.82L177.82 389.82Z" fill="#0000ff"/><path d="M179.79 398.69L183.29 392.04L176.29 392.04Z" fill="#0000ff"/><path d="M177.74 400.49L181.24 393.84L174.24 393.84Z" fill="#0000ff"/><path d="M175.7 402.28L179.2 395.63L172.2 395.63Z" fill="#0000ff"/><path d="M173.66 404.08L177.16 397.43L170.16 397.43Z" fill="#0000ff"/><path d="M171.61 405.87L175.11 399.22L168.11 399.22Z" fill="#0000ff"/><path d="M169.56 407.65L173.06 401L166.06 401Z" fill="#0000ff"/><path d="M167.49 409.42L170.99 402.77L163.99 402.77Z" fill="#0000ff"/><path d="M165.42 411.19L168.92 404.54L161.92 404.54Z" fill="#0000ff"/><path d="M163.36 412.96L166.86 406.31L159.86 406.31Z" fill="#0000ff"/><path d="M161.32 414.75L164.82 408.1L157.82 408.1Z" fill="#0000ff"/><path d="M159.4 416.68L162.9 410.03L155.9 410.03Z" fill="#0000ff"/><path d="M157.48 418.61L160.98 411.96L153.98 411.96Z" fill="#0000ff"/><path d="M155.56 420.53L159.06 413.88L152.06 413.88Z" fill="#0000ff"/><path d="M153.64 422.46L157.14 415.81L150.14 415.81Z" fill="#0000ff"/><path d="M151.74 424.41L155.24 417.76L148.24 417.76Z" fill="#0000ff"/><path d="M149.92 426.42L153.42 419.77L146.42 419.77Z" fill="#0000ff"/><path d="M148.09 428.44L151.59 421.79L144.59 421.79Z" fill="#0000ff"/><path d="M146.26 430.45L149.76 423.8L142.76 423.8Z" fill="#0000ff"/><path d="M144.44 432.47L147.94 425.82L140.94 425.82Z" fill="#0000ff"/><path d="M142.61 434.48L146.11 427.83L139.11 427.83Z" fill="#0000ff"/><path d="M140.78 436.5L144.28 429.85L137.28 429.85Z" fill="#0000ff"/><path d="M135.11 447.58L138.61 440.93L131.61 440.93Z" fill="#0000ff"/><path d="M131.54 450.05L135.04 443.4L128.04 443.4Z" fill="#0000ff"/><path d="M126.92 452.53L130.42 445.88L123.42 445.88Z" fill="#0000ff"/><path d="M119.53 456.98L123.03 450.33L116.03 450.33Z" fill="#0000ff"/><path d="M109.63 461.93L113.13 455.28L106.13 455.28Z" fill="#0000ff"/><path d="M94.72 469.85L98.22 463.2L91.22 463.2Z" fill="#0000ff"/><path d="M85.87 474.5L89.37 467.85L82.37 467.85Z" fill="#0000ff"/><path d="M78.48 476.77L81.98 470.12L74.98 470.12Z" fill="#0000ff"/><path d="M71.62 479.44L75.12 472.79L68.12 472.79Z" fill="#0000ff"/><path d="M64.62 483.7L68.12 477.05L61.12 477.05Z" fill="#0000ff"/><path d="M64.62 483.7L68.12 477.05L61.12 477.05Z" fill="#0000ff"/><path d="M71.62 479.44L75.12 472.79L68.12 472.79Z" fill="#0000ff"/><path d="M78.48 476.77L81.98 470.12L74.98 470.12Z" fill="#0000ff"/><path d="M85.87 474.5L89.37 467.85L82.37 467.85Z" fill="#0000ff"/><path d="M94.72 469.85L98.22 463.2L91.22 463.2Z" fill="#0000ff"/><path d="M109.63 461.93L113.13 455.28L106.13 455.28Z" fill="#0000ff"/><path d="M119.53 456.98L123.03 450.33L116.03 450.33Z" fill="#0000ff"/><path d="M126.92 452.53L130.42 445.88L123.42 445.88Z" fill="#0000ff"/><path d="M131.54 450.05L135.04 443.4L128.04 443.4Z" fill="#0000ff"/><path d="M135.11 447.58L138.61 440.93L131.61 440.93Z" fill="#0000ff"/><path d="M140.78 443.42L144.28 436.77L137.28 436.77Z" fill="#0000ff"/><path d="M143.2 442.22L146.7 435.57L139.7 435.57Z" fill="#0000ff"/><path d="M145.62 441.01L149.12 434.36L142.12 434.36Z" fill="#0000ff"/><path d="M148.03 439.8L151.53 433.15L144.53 433.15Z" fill="#0000ff"/><path d="M150.45 438.6L153.95 431.95L146.95 431.95Z" fill="#0000ff"/><path d="M152.84 437.35L156.34 430.7L149.34 430.7Z" fill="#0000ff"/><path d="M155.16 435.96L158.66 429.31L151.66 429.31Z" fill="#0000ff"/><path d="M157.48 434.58L160.98 427.93L153.98 427.93Z" fill="#0000ff"/><path d="M159.8 433.2L163.3 426.55L156.3 426.55Z" fill="#0000ff"/><path d="M162.12 431.81L165.62 425.16L158.62 425.16Z" fill="#0000ff"/><path d="M164.43 430.43L167.93 423.78L160.93 423.78Z" fill="#0000ff"/><path d="M166.75 429.05L170.25 422.4L163.25 422.4Z" fill="#0000ff"/><path d="M169.07 427.66L172.57 421.01L165.57 421.01Z" fill="#0000ff"/><path d="M171.39 426.28L174.89 419.63L167.89 419.63Z" fill="#0000ff"/><path d="M173.71 424.9L177.21 418.25L170.21 418.25Z" fill="#0000ff"/><path d="M175.99 423.46L179.49 416.81L172.49 416.81Z" fill="#0000ff"/><path d="M178.16 421.84L181.66 415.19L174.66 415.19Z" fill="#0000ff"/><path d="M180.32 420.22L183.82 413.57L176.82 413.57Z" fill="#0000ff"/><path d="M182.48 418.6L185.98 411.95L178.98 411.95Z" fill="#0000ff"/><path d="M184.64 416.98L188.14 410.33L181.14 410.33Z" fill="#0000ff"/><path d="M186.67 415.21L190.17 408.56L183.17 408.56Z" fill="#0000ff"/><path d="M188.7 413.43L192.2 406.78L185.2 406.78Z" fill="#0000ff"/><path d="M190.73 411.64L194.23 404.99L187.23 404.99Z" fill="#0000ff"/><path d="M192.76 409.86L196.26 403.21L189.26 403.21Z" fill="#0000ff"/><path d="M194.18 407.73L197.68 401.08L190.68 401.08Z" fill="#0000ff"/><path d="M194.67 405.08L198.17 398.43L191.17 398.43Z" fill="#0000ff"/><path d="M195.17 402.42L198.67 395.77L191.67 395.77Z" fill="#0000ff"/><path d="M195.66 399.77L199.16 393.12L192.16 393.12Z" fill="#0000ff"/><path d="M196.16 397.11L199.66 390.46L192.66 390.46Z" fill="#0000ff"/><path d="M196.64 394.46L200.14 387.81L193.14 387.81Z" fill="#0000ff"/><path d="M197 391.78L200.5 385.13L193.5 385.13Z" fill="#0000ff"/><path d="M197.36 389.11L200.86 382.46L193.86 382.46Z" fill="#0000ff"/><path d="M197.72 386.43L201.22 379.78L194.22 379.78Z" fill="#0000ff"/><path d="M198.11 383.76L201.61 377.11L194.61 377.11Z" fill="#0000ff"/><path d="M198.57 381.1L202.07 374.45L195.07 374.45Z" fill="#0000ff"/><path d="M199.03 378.44L202.53 371.79L195.53 371.79Z" fill="#0000ff"/><path d="M199.5 375.78L203 369.13L196 369.13Z" fill="#0000ff"/><path d="M200.83 373.54L204.33 366.89L197.33 366.89Z" fill="#0000ff"/><path d="M202.63 371.52L206.13 364.87L199.13 364.87Z" fill="#0000ff"/><path d="M204.43 369.51L207.93 362.86L200.93 362.86Z" fill="#0000ff"/><path d="M206.23 367.5L209.73 360.85L202.73 360.85Z" fill="#0000ff"/><path d="M208.03 365.48L211.53 358.83L204.53 358.83Z" fill="#0000ff"/><path d="M209.87 363.51L213.37 356.86L206.37 356.86Z" fill="#0000ff"/><path d="M211.74 361.56L215.24 354.91L208.24 354.91Z" fill="#0000ff"/><path d="M213.6 359.6L217.1 352.95L210.1 352.95Z" fill="#0000ff"/><path d="M215.46 357.65L218.96 351L211.96 351Z" fill="#0000ff"/><path d="M217.32 355.69L220.82 349.04L213.82 349.04Z" fill="#0000ff"/><path d="M219.19 353.74L222.69 347.09L215.69 347.09Z" fill="#0000ff"/><path d="M221.05 351.78L224.55 345.13L217.55 345.13Z" fill="#0000ff"/><path d="M222.96 349.87L226.46 343.22L219.46 343.22Z" fill="#0000ff"/><path d="M224.89 347.99L228.39 341.34L221.39 341.34Z" fill="#0000ff"/><path d="M226.83 346.1L230.33 339.45L223.33 339.45Z" fill="#0000ff"/><path d="M228.76 344.22L232.26 337.57L225.26 337.57Z" fill="#0000ff"/><path d="M230.69 342.34L234.19 335.69L227.19 335.69Z" fill="#0000ff"/><path d="M232.63 340.45L236.13 333.8L229.13 333.8Z" fill="#0000ff"/><path d="M234.56 338.57L238.06 331.92L231.06 331.92Z" fill="#0000ff"/><path d="M236.5 336.68L240 330.03L233 330.03Z" fill="#0000ff"/><path d="M238.43 334.8L241.93 328.15L234.93 328.15Z" fill="#0000ff"/><path d="M240.36 332.91L243.86 326.26L236.86 326.26Z" fill="#0000ff"/><path d="M242.3 331.03L245.8 324.38L238.8 324.38Z" fill="#0000ff"/><path d="M244.23 329.14L247.73 322.49L240.73 322.49Z" fill="#0000ff"/><path d="M246.17 327.26L249.67 320.61L242.67 320.61Z" fill="#0000ff"/><path d="M248.1 325.37L251.6 318.72L244.6 318.72Z" fill="#0000ff"/><path d="M261.3 312.91L264.8 306.26L257.8 306.26Z" fill="#0000ff"/><path d="M267.24 307.26L270.74 300.61L263.74 300.61Z" fill="#0000ff"/><path d="M288.1 296.53L291.6 289.88L284.6 289.88Z" fill="#0000ff"/><path d="M308.03 287.77L311.53 281.12L304.53 281.12Z" fill="#0000ff"/><path d="M325.98 279.85L329.48 273.2L322.48 273.2Z" fill="#0000ff"/></g>
<path d="M325.98 281.77L313.7 286.71L308.03 289.98L295.62 296.61L287.17 299.58L279.65 303.24L267.24 310.27L263.54 312.44L248.1 320.36L245.53 321.07L242.95 321.79L240.38 322.51L238.22 324.02L236.15 325.71L234.08 327.4L232.01 329.09L229.92 330.76L227.83 332.42L225.73 334.07L223.64 335.73L221.54 337.38L219.44 339.04L217.35 340.7L215.25 342.35L213.1 343.93L210.82 345.33L208.54 346.72L206.27 348.12L203.99 349.51L201.71 350.91L199.77 352.73L197.86 354.6L195.95 356.47L194.75 358.8L193.81 361.3L192.88 363.81L191.94 366.31L190.71 368.67L189.39 371L188.08 373.32L186.71 375.6L184.72 377.38L182.72 379.16L180.73 380.94L178.74 382.72L176.75 384.5L174.75 386.28L172.81 388.11L170.88 389.96L168.94 391.8L167 393.64L165.07 395.48L163.13 397.32L161.2 399.16L159.26 401.01L155.83 412.88L141.97 438.11L135.11 442.57L131.54 445.04L126.92 447.51L119.53 451.97L109.63 456.91L94.72 464.83L85.87 469.48L78.48 471.76L71.62 474.43L64.62 478.68L64.62 478.68L71.62 474.43L78.48 471.76L85.87 469.48L94.72 464.83L109.63 456.91L119.53 451.97L126.92 447.51L131.54 445.04L135.11 442.57L142.5 440.09L144.66 438.45L146.82 436.8L148.97 435.15L151.13 433.51L153.3 431.88L155.46 430.24L157.63 428.6L159.79 426.96L161.96 425.33L164.12 423.69L166.35 422.15L168.61 420.64L170.87 419.13L173.12 417.62L175.38 416.11L177.63 414.6L179.88 413.08L182.12 411.55L184.36 410.02L186.6 408.48L188.84 406.95L191.08 405.41L192.84 403.4L194.41 401.18L195.97 398.96L197.53 396.74L198.36 394.19L199.04 391.56L199.71 388.93L200.45 386.32L201.79 383.96L203.13 381.6L204.47 379.24L206.13 377.15L208.18 375.37L210.23 373.6L212.29 371.82L214.31 370.01L216.26 368.12L218.21 366.24L220.16 364.35L222.1 362.46L224.07 360.58L226.08 358.76L228.1 356.95L230.11 355.13L232.13 353.31L234.9 346.09L248.1 322.73L263.54 312.44L267.24 310.27L279.65 303.24L287.17 299.58L295.62 296.61L308.03 289.98L313.7 286.71L325.98 281.77" fill="none" stroke="#ff0000" stroke-width="0.9"/>
<g><path d="M325.98 277.77L329.98 281.77L325.98 285.77L321.98 281.77Z" fill="#ff0000"/><path d="M313.7 282.71L317.7 286.71L313.7 290.71L309.7 286.71Z" fill="#ff0000"/><path d="M308.03 285.98L312.03 289.98L308.03 293.98L304.03 289.98Z" fill="#ff0000"/><path d="M295.62 292.61L299.62 296.61L295.62 300.61L291.62 296.61Z" fill="#ff0000"/><path d="M287.17 295.58L291.17 299.58L287.17 303.58L283.17 299.58Z" fill="#ff0000"/><path d="M279.65 299.24L283.65 303.24L279.65 307.24L275.65 303.24Z" fill="#ff0000"/><path d="M267.24 306.27L271.24 310.27L267.24 314.27L263.24 310.27Z" fill="#ff0000"/><path d="M263.54 308.44L267.54 312.44L263.54 316.44L259.54 312.44Z" fill="#ff0000"/><path d="M248.1 316.36L252.1 320.36L248.1 324.36L244.1 320.36Z" fill="#ff0000"/><path d="M245.53 317.07L249.53 321.07L245.53 325.07L241.53 321.07Z" fill="#ff0000"/><path d="M242.95 317.79L246.95 321.79L242.95 325.79L238.95 321.79Z" fill="#ff0000"/><path d="M240.38 318.51L244.38 322.51L240.38 326.51L236.38 322.51Z" fill="#ff0000"/><path d="M238.22 320.02L242.22 324.02L238.22 328.02L234.22 324.02Z" fill="#ff0000"/><path d="M236.15 321.71L240.15 325.71L236.15 329.71L232.15 325.71Z" fill="#ff0000"/><path d="M234.08 323.4L238.08 327.4L234.08 331.4L230.08 327.4Z" fill="#ff0000"/><path d="M232.01 325.09L236.01 329.09L232.01 333.09L228.01 329.09Z" fill="#ff0000"/><path d="M229.92 326.76L233.92 330.76L229.92 334.76L225.92 330.76Z" fill="#ff0000"/><path d="M227.83 328.42L231.83 332.42L227.83 336.42L223.83 332.42Z" fill="#ff0000"/><path d="M225.73 330.07L229.73 334.07L225.73 338.07L221.73 334.07Z" fill="#ff0000"/><path d="M223.64 331.73L227.64 335.73L223.64 339.73L219.64 335.73Z" fill="#ff0000"/><path d="M221.54 333.38L225.54 337.38L221.54 341.38L217.54 337.38Z" fill="#ff0000"/><path d="M219.44 335.04L223.44 339.04L219.44 343.04L215.44 339.04Z" fill="#ff0000"/><path d="M217.35 336.7L221.35 340.7L217.35 344.7L213.35 340.7Z" fill="#ff0000"/><path d="M215.25 338.35L219.25 342.35L215.25 346.35L211.25 342.35Z" fill="#ff0000"/><path d="M213.1 339.93L217.1 343.93L213.1 347.93L209.1 343.93Z" fill="#ff0000"/><path d="M210.82 341.33L214.82 345.33L210.82 349.33L206.82 345.33Z" fill="#ff0000"/><path d="M208.54 342.72L212.54 346.72L208.54 350.72L204.54 346.72Z" fill="#ff0000"/><path d="M206.27 344.12L210.27 348.12L206.27 352.12L202.27 348.12Z" fill="#ff0000"/><path d="M203.99 345.51L207.99 349.51L203.99 353.51L199.99 349.51Z" fill="#ff0000"/><path d="M201.71 346.91L205.71 350.91L201.71 354.91L197.71 350.91Z" fill="#ff0000"/><path d="M199.77 348.73L203.77 352.73L199.77 356.73L195.77 352.73Z" fill="#ff0000"/><path d="M197.86 350.6L201.86 354.6L197.86 358.6L193.86 354.6Z" fill="#ff0000"/><path d="M195.95 352.47L199.95 356.47L195.95 360.47L191.95 356.47Z" fill="#ff0000"/><path d="M194.75 354.8L198.75 358.8L194.75 362.8L190.75 358.8Z" fill="#ff0000"/><path d="M193.81 357.3L197.81 361.3L193.81 365.3L189.81 361.3Z" fill="#ff0000"/><path d="M192.88 359.81L196.88 363.81L192.88 367.81L188.88 363.81Z" fill="#ff0000"/><path d="M191.94 362.31L195.94 366.31L191.94 370.31L187.94 366.31Z" fill="#ff0000"/><path d="M190.71 364.67L194.71 368.67L190.71 372.67L186.71 368.67Z" fill="#ff0000"/><path d="M189.39 367L193.39 371L189.39 375L185.39 371Z" fill="#ff0000"/><path d="M188.08 369.32L192.08 373.32L188.08 377.32L184.08 373.32Z" fill="#ff0000"/><path d="M186.71 371.6L190.71 375.6L186.71 379.6L182.71 375.6Z" fill="#ff0000"/><path d="M184.72 373.38L188.72 377.38L184.72 381.38L180.72 377.38Z" fill="#ff0000"/><path d="M182.72 375.16L186.72 379.16L182.72 383.16L178.72 379.16Z" fill="#ff0000"/><path d="M180.73 376.94L184.73 380.94L180.73 384.94L176.73 380.94Z" fill="#ff0000"/><path d="M178.74 378.72L182.74 382.72L178.74 386.72L174.74 382.72Z" fill="#ff0000"/><path d="M176.75 380.5L180.75 384.5L176.75 388.5L172.75 384.5Z" fill="#ff0000"/><path d="M174.75 382.28L178.75 386.28L174.75 390.28L170.75 386.28Z" fill="#ff0000"/><path d="M172.81 384.11L176.81 388.11L172.81 392.11L168.81 388.11Z" fill="#ff0000"/><path d="M170.88 385.96L174.88 389.96L170.88 393.96L166.88 389.96Z" fill="#ff0000"/><path d="M168.94 387.8L172.94 391.8L168.94 395.8L164.94 391.8Z" fill="#ff0000"/><path d="M167 389.64L171 393.64L167 397.64L163 393.64Z" fill="#ff0000"/><path d="M165.07 391.48L169.07 395.48L165.07 399.48L161.07 395.48Z" fill="#ff0000"/><path d="M163.13 393.32L167.13 397.32L163.13 401.32L159.13 397.32Z" fill="#ff0000"/><path d="M161.2 395.16L165.2 399.16L161.2 403.16L157.2 399.16Z" fill="#ff0000"/><path d="M159.26 397.01L163.26 401.01L159.26 405.01L155.26 401.01Z" fill="#ff0000"/><path d="M155.83 408.88L159.83 412.88L155.83 416.88L151.83 412.88Z" fill="#ff0000"/><path d="M141.97 434.11L145.97 438.11L141.97 442.11L137.97 438.11Z" fill="#ff0000"/><path d="M135.11 438.57L139.11 442.57L135.11 446.57L131.11 442.57Z" fill="#ff0000"/><path d="M131.54 441.04L135.54 445.04L131.54 449.04L127.54 445.04Z" fill="#ff0000"/><path d="M126.92 443.51L130.92 447.51L126.92 451.51L122.92 447.51Z" fill="#ff0000"/><path d="M119.53 447.97L123.53 451.97L119.53 455.97L115.53 451.97Z" fill="#ff0000"/><path d="M109.63 452.91L113.63 456.91L109.63 460.91L105.63 456.91Z" fill="#ff0000"/><path d="M94.72 460.83L98.72 464.83L94.72 468.83L90.72 464.83Z" fill="#ff0000"/><path d="M85.87 465.48L89.87 469.48L85.87 473.48L81.87 469.48Z" fill="#ff0000"/><path d="M78.48 467.76L82.48 471.76L78.48 475.76L74.48 471.76Z" fill="#ff0000"/><path d="M71.62 470.43L75.62 474.43L71.62 478.43L67.62 474.43Z" fill="#ff0000"/><path d="M64.62 474.68L68.62 478.68L64.62 482.68L60.62 478.68Z" fill="#ff0000"/><path d="M64.62 474.68L68.62 478.68L64.62 482.68L60.62 478.68Z" fill="#ff0000"/><path d="M71.62 470.43L75.62 474.43L71.62 478.43L67.62 474.43Z" fill="#ff0000"/><path d="M78.48 467.76L82.48 471.76L78.48 475.76L74.48 471.76Z" fill="#ff0000"/><path d="M85.87 465.48L89.87 469.48L85.87 473.48L81.87 469.48Z" fill="#ff0000"/><path d="M94.72 460.83L98.72 464.83L94.72 468.83L90.72 464.83Z" fill="#ff0000"/><path d="M109.63 452.91L113.63 456.91L109.63 460.91L105.63 456.91Z" fill="#ff0000"/><path d="M119.53 447.97L123.53 451.97L119.53 455.97L115.53 451.97Z" fill="#ff0000"/><path d="M126.92 443.51L130.92 447.51L126.92 451.51L122.92 447.51Z" fill="#ff0000"/><path d="M131.54 441.04L135.54 445.04L131.54 449.04L127.54 445.04Z" fill="#ff0000"/><path d="M135.11 438.57L139.11 442.57L135.11 446.57L131.11 442.57Z" fill="#ff0000"/><path d="M142.5 436.09L146.5 440.09L142.5 444.09L138.5 440.09Z" fill="#ff0000"/><path d="M144.66 434.45L148.66 438.45L144.66 442.45L140.66 438.45Z" fill="#ff0000"/><path d="M146.82 432.8L150.82 436.8L146.82 440.8L142.82 436.8Z" fill="#ff0000"/><path d="M148.97 431.15L152.97 435.15L148.97 439.15L144.97 435.15Z" fill="#ff0000"/><path d="M151.13 429.51L155.13 433.51L151.13 437.51L147.13 433.51Z" fill="#ff0000"/><path d="M153.3 427.88L157.3 431.88L153.3 435.88L149.3 431.88Z" fill="#ff0000"/><path d="M155.46 426.24L159.46 430.24L155.46 434.24L151.46 430.24Z" fill="#ff0000"/><path d="M157.63 424.6L161.63 428.6L157.63 432.6L153.63 428.6Z" fill="#ff0000"/><path d="M159.79 422.96L163.79 426.96L159.79 430.96L155.79 426.96Z" fill="#ff0000"/><path d="M161.96 421.33L165.96 425.33L161.96 429.33L157.96 425.33Z" fill="#ff0000"/><path d="M164.12 419.69L168.12 423.69L164.12 427.69L160.12 423.69Z" fill="#ff0000"/><path d="M166.35 418.15L170.35 422.15L166.35 426.15L162.35 422.15Z" fill="#ff0000"/><path d="M168.61 416.64L172.61 420.64L168.61 424.64L164.61 420.64Z" fill="#ff0000"/><path d="M170.87 415.13L174.87 419.13L170.87 423.13L166.87 419.13Z" fill="#ff0000"/><path d="M173.12 413.62L177.12 417.62L173.12 421.62L169.12 417.62Z" fill="#ff0000"/><path d="M175.38 412.11L179.38 416.11L175.38 420.11L171.38 416.11Z" fill="#ff0000"/><path d="M177.63 410.6L181.63 414.6L177.63 418.6L173.63 414.6Z" fill="#ff0000"/><path d="M179.88 409.08L183.88 413.08L179.88 417.08L175.88 413.08Z" fill="#ff0000"/><path d="M182.12 407.55L186.12 411.55L182.12 415.55L178.12 411.55Z" fill="#ff0000"/><path d="M184.36 406.02L188.36 410.02L184.36 414.02L180.36 410.02Z" fill="#ff0000"/><path d="M186.6 404.48L190.6 408.48L186.6 412.48L182.6 408.48Z" fill="#ff0000"/><path d="M188.84 402.95L192.84 406.95L188.84 410.95L184.84 406.95Z" fill="#ff0000"/><path d="M191.08 401.41L195.08 405.41L191.08 409.41L187.08 405.41Z" fill="#ff0000"/><path d="M192.84 399.4L196.84 403.4L192.84 407.4L188.84 403.4Z" fill="#ff0000"/><path d="M194.41 397.18L198.41 401.18L194.41 405.18L190.41 401.18Z" fill="#ff0000"/><path d="M195.97 394.96L199.97 398.96L195.97 402.96L191.97 398.96Z" fill="#ff0000"/><path d="M197.53 392.74L201.53 396.74L197.53 400.74L193.53 396.74Z" fill="#ff0000"/><path d="M198.36 390.19L202.36 394.19L198.36 398.19L194.36 394.19Z" fill="#ff0000"/><path d="M199.04 387.56L203.04 391.56L199.04 395.56L195.04 391.56Z" fill="#ff0000"/><path d="M199.71 384.93L203.71 388.93L199.71 392.93L195.71 388.93Z" fill="#ff0000"/><path d="M200.45 382.32L204.45 386.32L200.45 390.32L196.45 386.32Z" fill="#ff0000"/><path d="M201.79 379.96L205.79 383.96L201.79 387.96L197.79 383.96Z" fill="#ff0000"/><path d="M203.13 377.6L207.13 381.6L203.13 385.6L199.13 381.6Z" fill="#ff0000"/><path d="M204.47 375.24L208.47 379.24L204.47 383.24L200.47 379.24Z" fill="#ff0000"/><path d="M206.13 373.15L210.13 377.15L206.13 381.15L202.13 377.15Z" fill="#ff0000"/><path d="M208.18 371.37L212.18 375.37L208.18 379.37L204.18 375.37Z" fill="#ff0000"/><path d="M210.23 369.6L214.23 373.6L210.23 377.6L206.23 373.6Z" fill="#ff0000"/><path d="M212.29 367.82L216.29 371.82L212.29 375.82L208.29 371.82Z" fill="#ff0000"/><path d="M214.31 366.01L218.31 370.01L214.31 374.01L210.31 370.01Z" fill="#ff0000"/><path d="M216.26 364.12L220.26 368.12L216.26 372.12L212.26 368.12Z" fill="#ff0000"/><path d="M218.21 362.24L222.21 366.24L218.21 370.24L214.21 366.24Z" fill="#ff0000"/><path d="M220.16 360.35L224.16 364.35L220.16 368.35L216.16 364.35Z" fill="#ff0000"/><path d="M222.1 358.46L226.1 362.46L222.1 366.46L218.1 362.46Z" fill="#ff0000"/><path d="M224.07 356.58L228.07 360.58L224.07 364.58L220.07 360.58Z" fill="#ff0000"/><path d="M226.08 354.76L230.08 358.76L226.08 362.76L222.08 358.76Z" fill="#ff0000"/><path d="M228.1 352.95L232.1 356.95L228.1 360.95L224.1 356.95Z" fill="#ff0000"/><path d="M230.11 351.13L234.11 355.13L230.11 359.13L226.11 355.13Z" fill="#ff0000"/><path d="M232.13 349.31L236.13 353.31L232.13 357.31L228.13 353.31Z" fill="#ff0000"/><path d="M234.9 342.09L238.9 346.09L234.9 350.09L230.9 346.09Z" fill="#ff0000"/><path d="M248.1 318.73L252.1 322.73L248.1 326.73L244.1 322.73Z" fill="#ff0000"/><path d="M263.54 308.44L267.54 312.44L263.54 316.44L259.54 312.44Z" fill="#ff0000"/><path d="M267.24 306.27L271.24 310.27L267.24 314.27L263.24 310.27Z" fill="#ff0000"/><path d="M279.65 299.24L283.65 303.24L279.65 307.24L275.65 303.24Z" fill="#ff0000"/><path d="M287.17 295.58L291.17 299.58L287.17 303.58L283.17 299.58Z" fill="#ff0000"/><path d="M295.62 292.61L299.62 296.61L295.62 300.61L291.62 296.61Z" fill="#ff0000"/><path d="M308.03 285.98L312.03 289.98L308.03 293.98L304.03 289.98Z" fill="#ff0000"/><path d="M313.7 282.71L317.7 286.71L313.7 290.71L309.7 286.71Z" fill="#ff0000"/><path d="M325.98 277.77L329.98 281.77L325.98 285.77L321.98 281.77Z" fill="#ff0000"/></g>
</g>
<path d="M63.3 489.5V482.7M129.3 489.5V482.7M195.3 489.5V482.7M261.3 489.5V482.7M327.3 489.5V482.7M96.3 489.5V486M162.3 489.5V486M228.3 489.5V486M294.3 489.5V486M63.3 479.67H70.1M63.3 430.2H70.1M63.3 380.72H70.1M63.3 331.24H70.1M63.3 281.77H70.1M63.3 454.94H66.8M63.3 405.46H66.8M63.3 355.98H66.8M63.3 306.51H66.8" stroke="#000" stroke-width="1.75" fill="none"/>
<rect x="63.3" y="272" width="264" height="217.5" fill="none" stroke="#000" stroke-width="1.75"/>
<text x="54.8" y="285.17" font-family='"Liberation Sans", Arial, Helvetica, sans-serif' font-size="12" font-weight="bold" text-anchor="end" fill="#111" textLength="18.68" lengthAdjust="spacingAndGlyphs">1.0</text>
<text x="54.8" y="334.64" font-family='"Liberation Sans", Arial, Helvetica, sans-serif' font-size="12" font-weight="bold" text-anchor="end" fill="#111" textLength="18.68" lengthAdjust="spacingAndGlyphs">0.5</text>
<text x="54.8" y="384.12" font-family='"Liberation Sans", Arial, Helvetica, sans-serif' font-size="12" font-weight="bold" text-anchor="end" fill="#111" textLength="18.68" lengthAdjust="spacingAndGlyphs">0.0</text>
<text x="54.8" y="433.6" font-family='"Liberation Sans", Arial, Helvetica, sans-serif' font-size="12" font-weight="bold" text-anchor="end" fill="#111" textLength="23.16" lengthAdjust="spacingAndGlyphs">-0.5</text>
<text x="54.8" y="483.07" font-family='"Liberation Sans", Arial, Helvetica, sans-serif' font-size="12" font-weight="bold" text-anchor="end" fill="#111" textLength="23.16" lengthAdjust="spacingAndGlyphs">-1.0</text>
<text x="62.3" y="504.2" font-family='"Liberation Sans", Arial, Helvetica, sans-serif' font-size="12" font-weight="bold" text-anchor="middle" fill="#111" textLength="19.07" lengthAdjust="spacingAndGlyphs">-10</text>
<text x="128.3" y="504.2" font-family='"Liberation Sans", Arial, Helvetica, sans-serif' font-size="12" font-weight="bold" text-anchor="middle" fill="#111" textLength="11.73" lengthAdjust="spacingAndGlyphs">-5</text>
<text x="195.3" y="504.2" font-family='"Liberation Sans", Arial, Helvetica, sans-serif' font-size="12" font-weight="bold" text-anchor="middle" fill="#111" textLength="7.34" lengthAdjust="spacingAndGlyphs">0</text>
<text x="261.3" y="504.2" font-family='"Liberation Sans", Arial, Helvetica, sans-serif' font-size="12" font-weight="bold" text-anchor="middle" fill="#111" textLength="7.34" lengthAdjust="spacingAndGlyphs">5</text>
<text x="327.3" y="504.2" font-family='"Liberation Sans", Arial, Helvetica, sans-serif' font-size="12" font-weight="bold" text-anchor="middle" fill="#111" textLength="14.68" lengthAdjust="spacingAndGlyphs">10</text>
<text x="173.7" y="523.5" font-family='"Liberation Sans", Arial, Helvetica, sans-serif' font-size="12.3" font-weight="bold" text-anchor="start" fill="#111" textLength="49.8" lengthAdjust="spacingAndGlyphs">H (kOe)</text>
<text x="25.1" y="442.4" font-family='"Liberation Sans", Arial, Helvetica, sans-serif' font-size="12.5" font-weight="bold" text-anchor="start" fill="#111" textLength="124.2" lengthAdjust="spacingAndGlyphs" transform="rotate(-90 25.1 442.4)">M/M<tspan font-size="9.5" dy="3" font-weight="normal">max</tspan><tspan dy="-3"> (arb. units)</tspan></text>
<text x="79.3" y="288.5" font-family='"Liberation Sans", Arial, Helvetica, sans-serif' font-size="12" font-weight="bold" text-anchor="start" fill="#111">H</text>
<text x="92" y="288.5" font-family='"DejaVu Sans", "Liberation Sans", Arial, Helvetica, sans-serif' font-size="12" font-weight="normal" text-anchor="start" fill="#111" textLength="10.5" lengthAdjust="spacingAndGlyphs">⊥</text>
<text x="103.5" y="288.5" font-family='"Liberation Sans", Arial, Helvetica, sans-serif' font-size="12" font-weight="bold" text-anchor="start" fill="#111" textLength="31.5" lengthAdjust="spacingAndGlyphs">plane</text>
<text x="79.3" y="304.4" font-family='"Liberation Sans", Arial, Helvetica, sans-serif' font-size="12" font-weight="bold" text-anchor="start" fill="#111" textLength="68.5" lengthAdjust="spacingAndGlyphs">FC @ 90 Oe</text>
<text x="295.9" y="368.6" font-family='"Liberation Sans", Arial, Helvetica, sans-serif' font-size="20" font-weight="bold" text-anchor="start" fill="#111" textLength="25.8" lengthAdjust="spacingAndGlyphs">(b)</text>
<rect x="202.8" y="394.4" width="140" height="90.2" fill="#fff" stroke="#222" stroke-width="0.9"/>
<path d="M203.5 403.6H208M217.5 403.6H221.5" stroke="#ff00ff" stroke-width="1"/>
<rect x="209.6" y="400.6" width="6" height="6" fill="#ff00ff"/>
<text x="223.8" y="406.2" font-family='"Liberation Sans", Arial, Helvetica, sans-serif' font-size="12" font-weight="normal" text-anchor="start" fill="#222" textLength="108.6" lengthAdjust="spacingAndGlyphs">Cr<tspan font-size="9.5" dy="4">2</tspan><tspan dy="-4">O</tspan><tspan font-size="9.5" dy="4">3</tspan><tspan dy="-4">/FeGa(20 nm)</tspan></text>
<path d="M203.5 421.6H208M217.5 421.6H221.5" stroke="#ff8000" stroke-width="1"/>
<circle cx="212.6" cy="421.6" r="3.4" fill="#ff8000"/>
<text x="225.5" y="423.93" font-family='"Liberation Sans", Arial, Helvetica, sans-serif' font-size="12" font-weight="normal" text-anchor="start" fill="#222" textLength="108.6" lengthAdjust="spacingAndGlyphs">Cr<tspan font-size="9.5" dy="4">2</tspan><tspan dy="-4">O</tspan><tspan font-size="9.5" dy="4">3</tspan><tspan dy="-4">/FeGa(40 nm)</tspan></text>
<path d="M203.5 439.6H208M217.5 439.6H221.5" stroke="#00ff00" stroke-width="1"/>
<path d="M212.6 434.77L216.8 442.75L208.4 442.75Z" fill="#00ff00"/>
<text x="225.5" y="441.66" font-family='"Liberation Sans", Arial, Helvetica, sans-serif' font-size="12" font-weight="normal" text-anchor="start" fill="#222" textLength="108.6" lengthAdjust="spacingAndGlyphs">Cr<tspan font-size="9.5" dy="4">2</tspan><tspan dy="-4">O</tspan><tspan font-size="9.5" dy="4">3</tspan><tspan dy="-4">/FeGa(80 nm)</tspan></text>
<path d="M203.5 457.6H208M217.5 457.6H221.5" stroke="#0000ff" stroke-width="1"/>
<path d="M212.6 462.43L216.8 454.45L208.4 454.45Z" fill="#0000ff"/>
<text x="225.5" y="459.39" font-family='"Liberation Sans", Arial, Helvetica, sans-serif' font-size="12" font-weight="normal" text-anchor="start" fill="#222" textLength="115.2" lengthAdjust="spacingAndGlyphs">Cr<tspan font-size="9.5" dy="4">2</tspan><tspan dy="-4">O</tspan><tspan font-size="9.5" dy="4">3</tspan><tspan dy="-4">/FeGa(160 nm)</tspan></text>
<path d="M203.5 475.6H208M217.5 475.6H221.5" stroke="#ff0000" stroke-width="1"/>
<path d="M212.6 470.9L217.3 475.6L212.6 480.3L207.9 475.6Z" fill="#ff0000"/>
<text x="225.5" y="477.12" font-family='"Liberation Sans", Arial, Helvetica, sans-serif' font-size="12" font-weight="normal" text-anchor="start" fill="#222" textLength="115.2" lengthAdjust="spacingAndGlyphs">Cr<tspan font-size="9.5" dy="4">2</tspan><tspan dy="-4">O</tspan><tspan font-size="9.5" dy="4">3</tspan><tspan dy="-4">/FeGa(240 nm)</tspan></text>
<path d="M412.8 380.63H676.8M544.8 272V489.5" stroke="#000" stroke-width="1.6" fill="none"/>
<clipPath id="cd"><rect x="412.8" y="272" width="264" height="217.5"/></clipPath><g clip-path="url(#cd)">
<path d="M670.63 281.15L661.32 281.15M654.53 281.04L645.22 280.72M638.42 280.75L632.15 281.01M625.37 281.46L616.03 282.3M609.26 282.9L608.78 282.94M602.01 283.65L601.37 283.73M594.77 285.22L594.49 285.32M582.01 289.97L580.45 290.91M574.93 294.84L572.88 296.55M568.23 301.45L567.96 301.81M531.76 440L531.44 440.86M516.92 463.76L514.47 466.2M509.15 470.36L507.59 471.3M501.34 473.71L500.75 473.83M494.08 475.16L493.49 475.28M480.82 477.69L480.34 477.73M473.57 478.33L464.23 479.17M457.45 479.54L449.73 479.69M442.93 479.75L432.17 479.75M425.37 479.69L417.52 479.54M417.52 479.54L425.37 479.69M432.17 479.75L442.93 479.75M449.73 479.69L457.45 479.54M464.23 479.17L473.57 478.33M480.34 477.73L480.82 477.69M493.49 475.28L494.08 475.16M500.75 473.83L501.34 473.71M507.59 471.3L509.15 470.36M514.47 466.2L516.92 463.76M521.76 458.99L522.56 458.2M526.57 452.82L526.73 452.51M563.83 308.48L568.4 301.56M573.21 297.01L588.33 288.13M594.49 285.32L594.77 285.22M601.37 283.73L602.01 283.65M608.78 282.94L609.26 282.9M616.03 282.3L625.37 281.46M632.15 281.01L638.42 280.75M645.22 280.72L654.53 281.04M661.32 281.15L670.63 281.15" fill="none" stroke="#000" stroke-width="0.9"/>
<g><rect x="671.78" y="278.9" width="4.5" height="4.5" fill="#fff" stroke="#000" stroke-width="0.85"/><rect x="655.67" y="278.9" width="4.5" height="4.5" fill="#fff" stroke="#000" stroke-width="0.85"/><rect x="639.57" y="278.36" width="4.5" height="4.5" fill="#fff" stroke="#000" stroke-width="0.85"/><rect x="626.5" y="278.9" width="4.5" height="4.5" fill="#fff" stroke="#000" stroke-width="0.85"/><rect x="610.4" y="280.35" width="4.5" height="4.5" fill="#fff" stroke="#000" stroke-width="0.85"/><rect x="603.14" y="280.98" width="4.5" height="4.5" fill="#fff" stroke="#000" stroke-width="0.85"/><rect x="595.75" y="281.89" width="4.5" height="4.5" fill="#fff" stroke="#000" stroke-width="0.85"/><rect x="589.01" y="284.16" width="4.5" height="4.5" fill="#fff" stroke="#000" stroke-width="0.85"/><rect x="582.68" y="285.97" width="4.5" height="4.5" fill="#fff" stroke="#000" stroke-width="0.85"/><rect x="575.29" y="290.41" width="4.5" height="4.5" fill="#fff" stroke="#000" stroke-width="0.85"/><rect x="568.03" y="296.48" width="4.5" height="4.5" fill="#fff" stroke="#000" stroke-width="0.85"/><rect x="563.67" y="302.28" width="4.5" height="4.5" fill="#fff" stroke="#000" stroke-width="0.85"/><rect x="560.37" y="305.9" width="4.5" height="4.5" fill="#fff" stroke="#000" stroke-width="0.85"/><rect x="559.36" y="308.07" width="4.5" height="4.5" fill="#fff" stroke="#000" stroke-width="0.85"/><rect x="558.36" y="310.24" width="4.5" height="4.5" fill="#fff" stroke="#000" stroke-width="0.85"/><rect x="557.35" y="312.41" width="4.5" height="4.5" fill="#fff" stroke="#000" stroke-width="0.85"/><rect x="556.35" y="314.58" width="4.5" height="4.5" fill="#fff" stroke="#000" stroke-width="0.85"/><rect x="555.48" y="316.8" width="4.5" height="4.5" fill="#fff" stroke="#000" stroke-width="0.85"/><rect x="554.81" y="319.1" width="4.5" height="4.5" fill="#fff" stroke="#000" stroke-width="0.85"/><rect x="554.14" y="321.4" width="4.5" height="4.5" fill="#fff" stroke="#000" stroke-width="0.85"/><rect x="553.47" y="323.7" width="4.5" height="4.5" fill="#fff" stroke="#000" stroke-width="0.85"/><rect x="552.81" y="325.99" width="4.5" height="4.5" fill="#fff" stroke="#000" stroke-width="0.85"/><rect x="552.23" y="328.32" width="4.5" height="4.5" fill="#fff" stroke="#000" stroke-width="0.85"/><rect x="551.66" y="330.64" width="4.5" height="4.5" fill="#fff" stroke="#000" stroke-width="0.85"/><rect x="551.09" y="332.96" width="4.5" height="4.5" fill="#fff" stroke="#000" stroke-width="0.85"/><rect x="550.52" y="335.29" width="4.5" height="4.5" fill="#fff" stroke="#000" stroke-width="0.85"/><rect x="549.94" y="337.61" width="4.5" height="4.5" fill="#fff" stroke="#000" stroke-width="0.85"/><rect x="549.49" y="339.96" width="4.5" height="4.5" fill="#fff" stroke="#000" stroke-width="0.85"/><rect x="549.05" y="342.31" width="4.5" height="4.5" fill="#fff" stroke="#000" stroke-width="0.85"/><rect x="548.6" y="344.66" width="4.5" height="4.5" fill="#fff" stroke="#000" stroke-width="0.85"/><rect x="548.15" y="347.01" width="4.5" height="4.5" fill="#fff" stroke="#000" stroke-width="0.85"/><rect x="547.7" y="349.36" width="4.5" height="4.5" fill="#fff" stroke="#000" stroke-width="0.85"/><rect x="547.25" y="351.71" width="4.5" height="4.5" fill="#fff" stroke="#000" stroke-width="0.85"/><rect x="546.81" y="354.06" width="4.5" height="4.5" fill="#fff" stroke="#000" stroke-width="0.85"/><rect x="546.36" y="356.41" width="4.5" height="4.5" fill="#fff" stroke="#000" stroke-width="0.85"/><rect x="545.91" y="358.76" width="4.5" height="4.5" fill="#fff" stroke="#000" stroke-width="0.85"/><rect x="545.46" y="361.11" width="4.5" height="4.5" fill="#fff" stroke="#000" stroke-width="0.85"/><rect x="545.02" y="363.46" width="4.5" height="4.5" fill="#fff" stroke="#000" stroke-width="0.85"/><rect x="544.59" y="365.82" width="4.5" height="4.5" fill="#fff" stroke="#000" stroke-width="0.85"/><rect x="544.16" y="368.17" width="4.5" height="4.5" fill="#fff" stroke="#000" stroke-width="0.85"/><rect x="543.73" y="370.52" width="4.5" height="4.5" fill="#fff" stroke="#000" stroke-width="0.85"/><rect x="543.31" y="372.88" width="4.5" height="4.5" fill="#fff" stroke="#000" stroke-width="0.85"/><rect x="542.88" y="375.23" width="4.5" height="4.5" fill="#fff" stroke="#000" stroke-width="0.85"/><rect x="542.45" y="377.59" width="4.5" height="4.5" fill="#fff" stroke="#000" stroke-width="0.85"/><rect x="542.03" y="379.94" width="4.5" height="4.5" fill="#fff" stroke="#000" stroke-width="0.85"/><rect x="541.62" y="382.3" width="4.5" height="4.5" fill="#fff" stroke="#000" stroke-width="0.85"/><rect x="541.2" y="384.65" width="4.5" height="4.5" fill="#fff" stroke="#000" stroke-width="0.85"/><rect x="540.79" y="387.01" width="4.5" height="4.5" fill="#fff" stroke="#000" stroke-width="0.85"/><rect x="540.37" y="389.37" width="4.5" height="4.5" fill="#fff" stroke="#000" stroke-width="0.85"/><rect x="539.95" y="391.72" width="4.5" height="4.5" fill="#fff" stroke="#000" stroke-width="0.85"/><rect x="539.5" y="394.07" width="4.5" height="4.5" fill="#fff" stroke="#000" stroke-width="0.85"/><rect x="539.05" y="396.42" width="4.5" height="4.5" fill="#fff" stroke="#000" stroke-width="0.85"/><rect x="538.59" y="398.77" width="4.5" height="4.5" fill="#fff" stroke="#000" stroke-width="0.85"/><rect x="538.33" y="400.13" width="4.5" height="4.5" fill="#fff" stroke="#000" stroke-width="0.85"/><rect x="538.12" y="401.11" width="4.5" height="4.5" fill="#fff" stroke="#000" stroke-width="0.85"/><rect x="537.92" y="402.1" width="4.5" height="4.5" fill="#fff" stroke="#000" stroke-width="0.85"/><rect x="537.72" y="403.09" width="4.5" height="4.5" fill="#fff" stroke="#000" stroke-width="0.85"/><rect x="537.52" y="404.08" width="4.5" height="4.5" fill="#fff" stroke="#000" stroke-width="0.85"/><rect x="537.32" y="405.07" width="4.5" height="4.5" fill="#fff" stroke="#000" stroke-width="0.85"/><rect x="537.14" y="406.06" width="4.5" height="4.5" fill="#fff" stroke="#000" stroke-width="0.85"/><rect x="536.95" y="407.05" width="4.5" height="4.5" fill="#fff" stroke="#000" stroke-width="0.85"/><rect x="536.76" y="408.04" width="4.5" height="4.5" fill="#fff" stroke="#000" stroke-width="0.85"/><rect x="536.57" y="409.03" width="4.5" height="4.5" fill="#fff" stroke="#000" stroke-width="0.85"/><rect x="536.38" y="410.02" width="4.5" height="4.5" fill="#fff" stroke="#000" stroke-width="0.85"/><rect x="536.19" y="411.01" width="4.5" height="4.5" fill="#fff" stroke="#000" stroke-width="0.85"/><rect x="536" y="412" width="4.5" height="4.5" fill="#fff" stroke="#000" stroke-width="0.85"/><rect x="535.81" y="412.99" width="4.5" height="4.5" fill="#fff" stroke="#000" stroke-width="0.85"/><rect x="535.63" y="413.98" width="4.5" height="4.5" fill="#fff" stroke="#000" stroke-width="0.85"/><rect x="535.44" y="414.97" width="4.5" height="4.5" fill="#fff" stroke="#000" stroke-width="0.85"/><rect x="535.25" y="415.96" width="4.5" height="4.5" fill="#fff" stroke="#000" stroke-width="0.85"/><rect x="535.03" y="416.94" width="4.5" height="4.5" fill="#fff" stroke="#000" stroke-width="0.85"/><rect x="534.8" y="417.92" width="4.5" height="4.5" fill="#fff" stroke="#000" stroke-width="0.85"/><rect x="534.56" y="418.9" width="4.5" height="4.5" fill="#fff" stroke="#000" stroke-width="0.85"/><rect x="534.32" y="419.88" width="4.5" height="4.5" fill="#fff" stroke="#000" stroke-width="0.85"/><rect x="534.08" y="420.86" width="4.5" height="4.5" fill="#fff" stroke="#000" stroke-width="0.85"/><rect x="533.85" y="421.84" width="4.5" height="4.5" fill="#fff" stroke="#000" stroke-width="0.85"/><rect x="533.61" y="422.82" width="4.5" height="4.5" fill="#fff" stroke="#000" stroke-width="0.85"/><rect x="533.37" y="423.8" width="4.5" height="4.5" fill="#fff" stroke="#000" stroke-width="0.85"/><rect x="533.13" y="424.78" width="4.5" height="4.5" fill="#fff" stroke="#000" stroke-width="0.85"/><rect x="532.89" y="425.76" width="4.5" height="4.5" fill="#fff" stroke="#000" stroke-width="0.85"/><rect x="532.66" y="426.74" width="4.5" height="4.5" fill="#fff" stroke="#000" stroke-width="0.85"/><rect x="532.42" y="427.72" width="4.5" height="4.5" fill="#fff" stroke="#000" stroke-width="0.85"/><rect x="532.18" y="428.7" width="4.5" height="4.5" fill="#fff" stroke="#000" stroke-width="0.85"/><rect x="531.93" y="429.67" width="4.5" height="4.5" fill="#fff" stroke="#000" stroke-width="0.85"/><rect x="531.67" y="430.65" width="4.5" height="4.5" fill="#fff" stroke="#000" stroke-width="0.85"/><rect x="531.42" y="431.63" width="4.5" height="4.5" fill="#fff" stroke="#000" stroke-width="0.85"/><rect x="531.17" y="432.6" width="4.5" height="4.5" fill="#fff" stroke="#000" stroke-width="0.85"/><rect x="530.92" y="433.58" width="4.5" height="4.5" fill="#fff" stroke="#000" stroke-width="0.85"/><rect x="530.67" y="434.56" width="4.5" height="4.5" fill="#fff" stroke="#000" stroke-width="0.85"/><rect x="528.03" y="441.8" width="4.5" height="4.5" fill="#fff" stroke="#000" stroke-width="0.85"/><rect x="524.33" y="447.42" width="4.5" height="4.5" fill="#fff" stroke="#000" stroke-width="0.85"/><rect x="521.43" y="453.58" width="4.5" height="4.5" fill="#fff" stroke="#000" stroke-width="0.85"/><rect x="517.07" y="459.11" width="4.5" height="4.5" fill="#fff" stroke="#000" stroke-width="0.85"/><rect x="509.81" y="466.36" width="4.5" height="4.5" fill="#fff" stroke="#000" stroke-width="0.85"/><rect x="502.42" y="470.8" width="4.5" height="4.5" fill="#fff" stroke="#000" stroke-width="0.85"/><rect x="495.16" y="472.25" width="4.5" height="4.5" fill="#fff" stroke="#000" stroke-width="0.85"/><rect x="487.9" y="473.7" width="4.5" height="4.5" fill="#fff" stroke="#000" stroke-width="0.85"/><rect x="481.96" y="475.15" width="4.5" height="4.5" fill="#fff" stroke="#000" stroke-width="0.85"/><rect x="474.7" y="475.78" width="4.5" height="4.5" fill="#fff" stroke="#000" stroke-width="0.85"/><rect x="458.6" y="477.23" width="4.5" height="4.5" fill="#fff" stroke="#000" stroke-width="0.85"/><rect x="444.08" y="477.5" width="4.5" height="4.5" fill="#fff" stroke="#000" stroke-width="0.85"/><rect x="426.52" y="477.5" width="4.5" height="4.5" fill="#fff" stroke="#000" stroke-width="0.85"/><rect x="411.87" y="477.23" width="4.5" height="4.5" fill="#fff" stroke="#000" stroke-width="0.85"/><rect x="411.87" y="477.23" width="4.5" height="4.5" fill="#fff" stroke="#000" stroke-width="0.85"/><rect x="426.52" y="477.5" width="4.5" height="4.5" fill="#fff" stroke="#000" stroke-width="0.85"/><rect x="444.08" y="477.5" width="4.5" height="4.5" fill="#fff" stroke="#000" stroke-width="0.85"/><rect x="458.6" y="477.23" width="4.5" height="4.5" fill="#fff" stroke="#000" stroke-width="0.85"/><rect x="474.7" y="475.78" width="4.5" height="4.5" fill="#fff" stroke="#000" stroke-width="0.85"/><rect x="481.96" y="475.15" width="4.5" height="4.5" fill="#fff" stroke="#000" stroke-width="0.85"/><rect x="487.9" y="473.7" width="4.5" height="4.5" fill="#fff" stroke="#000" stroke-width="0.85"/><rect x="495.16" y="472.25" width="4.5" height="4.5" fill="#fff" stroke="#000" stroke-width="0.85"/><rect x="502.42" y="470.8" width="4.5" height="4.5" fill="#fff" stroke="#000" stroke-width="0.85"/><rect x="509.81" y="466.36" width="4.5" height="4.5" fill="#fff" stroke="#000" stroke-width="0.85"/><rect x="517.07" y="459.11" width="4.5" height="4.5" fill="#fff" stroke="#000" stroke-width="0.85"/><rect x="522.75" y="453.58" width="4.5" height="4.5" fill="#fff" stroke="#000" stroke-width="0.85"/><rect x="526.05" y="447.24" width="4.5" height="4.5" fill="#fff" stroke="#000" stroke-width="0.85"/><rect x="527.44" y="443.75" width="4.5" height="4.5" fill="#fff" stroke="#000" stroke-width="0.85"/><rect x="528.82" y="440.27" width="4.5" height="4.5" fill="#fff" stroke="#000" stroke-width="0.85"/><rect x="530.16" y="436.77" width="4.5" height="4.5" fill="#fff" stroke="#000" stroke-width="0.85"/><rect x="531.26" y="433.18" width="4.5" height="4.5" fill="#fff" stroke="#000" stroke-width="0.85"/><rect x="532.35" y="429.59" width="4.5" height="4.5" fill="#fff" stroke="#000" stroke-width="0.85"/><rect x="533.37" y="425.98" width="4.5" height="4.5" fill="#fff" stroke="#000" stroke-width="0.85"/><rect x="534.27" y="422.34" width="4.5" height="4.5" fill="#fff" stroke="#000" stroke-width="0.85"/><rect x="535.17" y="418.7" width="4.5" height="4.5" fill="#fff" stroke="#000" stroke-width="0.85"/><rect x="536.04" y="415.05" width="4.5" height="4.5" fill="#fff" stroke="#000" stroke-width="0.85"/><rect x="536.74" y="411.37" width="4.5" height="4.5" fill="#fff" stroke="#000" stroke-width="0.85"/><rect x="537.44" y="407.68" width="4.5" height="4.5" fill="#fff" stroke="#000" stroke-width="0.85"/><rect x="538.15" y="404" width="4.5" height="4.5" fill="#fff" stroke="#000" stroke-width="0.85"/><rect x="538.87" y="400.32" width="4.5" height="4.5" fill="#fff" stroke="#000" stroke-width="0.85"/><rect x="539.6" y="396.64" width="4.5" height="4.5" fill="#fff" stroke="#000" stroke-width="0.85"/><rect x="540.33" y="392.96" width="4.5" height="4.5" fill="#fff" stroke="#000" stroke-width="0.85"/><rect x="541.05" y="389.28" width="4.5" height="4.5" fill="#fff" stroke="#000" stroke-width="0.85"/><rect x="541.76" y="385.6" width="4.5" height="4.5" fill="#fff" stroke="#000" stroke-width="0.85"/><rect x="542.48" y="381.92" width="4.5" height="4.5" fill="#fff" stroke="#000" stroke-width="0.85"/><rect x="543.19" y="378.23" width="4.5" height="4.5" fill="#fff" stroke="#000" stroke-width="0.85"/><rect x="543.88" y="374.55" width="4.5" height="4.5" fill="#fff" stroke="#000" stroke-width="0.85"/><rect x="544.55" y="370.86" width="4.5" height="4.5" fill="#fff" stroke="#000" stroke-width="0.85"/><rect x="545.22" y="367.17" width="4.5" height="4.5" fill="#fff" stroke="#000" stroke-width="0.85"/><rect x="545.89" y="363.48" width="4.5" height="4.5" fill="#fff" stroke="#000" stroke-width="0.85"/><rect x="546.61" y="359.79" width="4.5" height="4.5" fill="#fff" stroke="#000" stroke-width="0.85"/><rect x="547.34" y="356.11" width="4.5" height="4.5" fill="#fff" stroke="#000" stroke-width="0.85"/><rect x="548.07" y="352.43" width="4.5" height="4.5" fill="#fff" stroke="#000" stroke-width="0.85"/><rect x="548.78" y="348.75" width="4.5" height="4.5" fill="#fff" stroke="#000" stroke-width="0.85"/><rect x="549.49" y="345.07" width="4.5" height="4.5" fill="#fff" stroke="#000" stroke-width="0.85"/><rect x="550.19" y="341.38" width="4.5" height="4.5" fill="#fff" stroke="#000" stroke-width="0.85"/><rect x="550.93" y="337.71" width="4.5" height="4.5" fill="#fff" stroke="#000" stroke-width="0.85"/><rect x="551.83" y="334.07" width="4.5" height="4.5" fill="#fff" stroke="#000" stroke-width="0.85"/><rect x="552.73" y="330.43" width="4.5" height="4.5" fill="#fff" stroke="#000" stroke-width="0.85"/><rect x="553.63" y="326.78" width="4.5" height="4.5" fill="#fff" stroke="#000" stroke-width="0.85"/><rect x="554.67" y="323.18" width="4.5" height="4.5" fill="#fff" stroke="#000" stroke-width="0.85"/><rect x="555.72" y="319.58" width="4.5" height="4.5" fill="#fff" stroke="#000" stroke-width="0.85"/><rect x="556.86" y="316.01" width="4.5" height="4.5" fill="#fff" stroke="#000" stroke-width="0.85"/><rect x="558.28" y="312.54" width="4.5" height="4.5" fill="#fff" stroke="#000" stroke-width="0.85"/><rect x="559.71" y="309.07" width="4.5" height="4.5" fill="#fff" stroke="#000" stroke-width="0.85"/><rect x="568.03" y="296.48" width="4.5" height="4.5" fill="#fff" stroke="#000" stroke-width="0.85"/><rect x="589.01" y="284.16" width="4.5" height="4.5" fill="#fff" stroke="#000" stroke-width="0.85"/><rect x="595.75" y="281.89" width="4.5" height="4.5" fill="#fff" stroke="#000" stroke-width="0.85"/><rect x="603.14" y="280.98" width="4.5" height="4.5" fill="#fff" stroke="#000" stroke-width="0.85"/><rect x="610.4" y="280.35" width="4.5" height="4.5" fill="#fff" stroke="#000" stroke-width="0.85"/><rect x="626.5" y="278.9" width="4.5" height="4.5" fill="#fff" stroke="#000" stroke-width="0.85"/><rect x="639.57" y="278.36" width="4.5" height="4.5" fill="#fff" stroke="#000" stroke-width="0.85"/><rect x="655.67" y="278.9" width="4.5" height="4.5" fill="#fff" stroke="#000" stroke-width="0.85"/><rect x="671.78" y="278.9" width="4.5" height="4.5" fill="#fff" stroke="#000" stroke-width="0.85"/></g>
<path d="M656.83 280.38L648.72 279.93M640.73 279.93L632.75 280.38M617.39 281.1L616.62 281.2M608.71 282.42L603.38 283.41M595.58 285.18L594.86 285.37M532.12 353.82L532 355.53M531.1 363.47L530.64 366.35M529.68 374.29L529.17 380.36M528.33 388.32L527.74 393.06M526.88 401.01L526.42 406.18M525.16 414.07L524.58 416.6M522.74 424.38L522.51 425.31M520.58 433.07L520.31 434.11M517.28 441.42L517.01 441.88M500.37 467.62L496.57 469.69M489.47 473.36L487.8 474.18M480.27 476.65L476.53 477.32M468.62 478.47L463.37 479.04M455.41 479.8L453.22 479.97M445.24 480.08L443.19 479.97M435.2 479.75L432.77 479.75M432.77 479.75L435.2 479.75M443.19 479.97L445.24 480.08M453.22 479.97L455.41 479.8M463.37 479.04L468.62 478.47M476.53 477.32L480.27 476.65M487.8 474.18L489.47 473.36M497.03 471.1L500.7 470.64M554.84 398.87L555.22 396.01M556.23 388.08L556.73 383.88M557.73 375.94L558.14 372.82M559.1 364.88L559.67 359.69M560.58 351.74L561.1 347.37M562.11 339.43L562.47 336.85M564 329.01L564.41 327.43M570.36 312.79L570.59 312.39M589.76 291.61L596.07 287.63M603.35 284.64L608.74 283.46M616.55 281.71L617.46 281.5M632.75 280.38L640.73 279.93M648.72 279.93L656.83 280.38" fill="none" stroke="#ff00ff" stroke-width="0.9"/>
<g><rect x="658.13" y="277.91" width="5.4" height="5.4" fill="#ff00ff"/><rect x="642.02" y="277" width="5.4" height="5.4" fill="#ff00ff"/><rect x="626.05" y="277.91" width="5.4" height="5.4" fill="#ff00ff"/><rect x="618.66" y="277.91" width="5.4" height="5.4" fill="#ff00ff"/><rect x="609.95" y="278.99" width="5.4" height="5.4" fill="#ff00ff"/><rect x="596.75" y="281.44" width="5.4" height="5.4" fill="#ff00ff"/><rect x="588.3" y="283.71" width="5.4" height="5.4" fill="#ff00ff"/><rect x="580.78" y="286.33" width="5.4" height="5.4" fill="#ff00ff"/><rect x="577.3" y="287.03" width="5.4" height="5.4" fill="#ff00ff"/><rect x="573.82" y="287.72" width="5.4" height="5.4" fill="#ff00ff"/><rect x="570.54" y="289.06" width="5.4" height="5.4" fill="#ff00ff"/><rect x="567.29" y="290.46" width="5.4" height="5.4" fill="#ff00ff"/><rect x="564.05" y="291.91" width="5.4" height="5.4" fill="#ff00ff"/><rect x="560.89" y="293.52" width="5.4" height="5.4" fill="#ff00ff"/><rect x="557.73" y="295.13" width="5.4" height="5.4" fill="#ff00ff"/><rect x="554.65" y="296.88" width="5.4" height="5.4" fill="#ff00ff"/><rect x="551.67" y="298.81" width="5.4" height="5.4" fill="#ff00ff"/><rect x="548.7" y="300.74" width="5.4" height="5.4" fill="#ff00ff"/><rect x="546.06" y="302.73" width="5.4" height="5.4" fill="#ff00ff"/><rect x="544.47" y="304.4" width="5.4" height="5.4" fill="#ff00ff"/><rect x="542.88" y="306.07" width="5.4" height="5.4" fill="#ff00ff"/><rect x="541.29" y="307.74" width="5.4" height="5.4" fill="#ff00ff"/><rect x="540.1" y="309.72" width="5.4" height="5.4" fill="#ff00ff"/><rect x="538.92" y="311.69" width="5.4" height="5.4" fill="#ff00ff"/><rect x="537.73" y="313.67" width="5.4" height="5.4" fill="#ff00ff"/><rect x="536.7" y="315.72" width="5.4" height="5.4" fill="#ff00ff"/><rect x="535.98" y="317.91" width="5.4" height="5.4" fill="#ff00ff"/><rect x="535.26" y="320.1" width="5.4" height="5.4" fill="#ff00ff"/><rect x="534.53" y="322.29" width="5.4" height="5.4" fill="#ff00ff"/><rect x="533.86" y="324.49" width="5.4" height="5.4" fill="#ff00ff"/><rect x="533.31" y="326.73" width="5.4" height="5.4" fill="#ff00ff"/><rect x="532.75" y="328.97" width="5.4" height="5.4" fill="#ff00ff"/><rect x="532.2" y="331.21" width="5.4" height="5.4" fill="#ff00ff"/><rect x="531.64" y="333.44" width="5.4" height="5.4" fill="#ff00ff"/><rect x="531.11" y="335.69" width="5.4" height="5.4" fill="#ff00ff"/><rect x="530.83" y="337.98" width="5.4" height="5.4" fill="#ff00ff"/><rect x="530.54" y="340.26" width="5.4" height="5.4" fill="#ff00ff"/><rect x="530.26" y="342.55" width="5.4" height="5.4" fill="#ff00ff"/><rect x="529.98" y="344.84" width="5.4" height="5.4" fill="#ff00ff"/><rect x="529.69" y="347.13" width="5.4" height="5.4" fill="#ff00ff"/><rect x="529.03" y="356.82" width="5.4" height="5.4" fill="#ff00ff"/><rect x="527.32" y="367.6" width="5.4" height="5.4" fill="#ff00ff"/><rect x="526.13" y="381.65" width="5.4" height="5.4" fill="#ff00ff"/><rect x="524.54" y="394.33" width="5.4" height="5.4" fill="#ff00ff"/><rect x="523.36" y="407.47" width="5.4" height="5.4" fill="#ff00ff"/><rect x="520.98" y="417.8" width="5.4" height="5.4" fill="#ff00ff"/><rect x="518.87" y="426.5" width="5.4" height="5.4" fill="#ff00ff"/><rect x="516.62" y="435.28" width="5.4" height="5.4" fill="#ff00ff"/><rect x="512.27" y="442.62" width="5.4" height="5.4" fill="#ff00ff"/><rect x="510.74" y="445.1" width="5.4" height="5.4" fill="#ff00ff"/><rect x="509.2" y="447.57" width="5.4" height="5.4" fill="#ff00ff"/><rect x="507.68" y="450.05" width="5.4" height="5.4" fill="#ff00ff"/><rect x="506.19" y="452.55" width="5.4" height="5.4" fill="#ff00ff"/><rect x="504.71" y="455.05" width="5.4" height="5.4" fill="#ff00ff"/><rect x="503.28" y="457.58" width="5.4" height="5.4" fill="#ff00ff"/><rect x="502.23" y="460.29" width="5.4" height="5.4" fill="#ff00ff"/><rect x="501.18" y="463.01" width="5.4" height="5.4" fill="#ff00ff"/><rect x="490.36" y="468.9" width="5.4" height="5.4" fill="#ff00ff"/><rect x="481.51" y="473.25" width="5.4" height="5.4" fill="#ff00ff"/><rect x="469.9" y="475.33" width="5.4" height="5.4" fill="#ff00ff"/><rect x="456.7" y="476.78" width="5.4" height="5.4" fill="#ff00ff"/><rect x="446.53" y="477.59" width="5.4" height="5.4" fill="#ff00ff"/><rect x="436.5" y="477.05" width="5.4" height="5.4" fill="#ff00ff"/><rect x="426.07" y="477.05" width="5.4" height="5.4" fill="#ff00ff"/><rect x="426.07" y="477.05" width="5.4" height="5.4" fill="#ff00ff"/><rect x="436.5" y="477.05" width="5.4" height="5.4" fill="#ff00ff"/><rect x="446.53" y="477.59" width="5.4" height="5.4" fill="#ff00ff"/><rect x="456.7" y="476.78" width="5.4" height="5.4" fill="#ff00ff"/><rect x="469.9" y="475.33" width="5.4" height="5.4" fill="#ff00ff"/><rect x="481.51" y="473.25" width="5.4" height="5.4" fill="#ff00ff"/><rect x="490.36" y="468.9" width="5.4" height="5.4" fill="#ff00ff"/><rect x="501.97" y="467.45" width="5.4" height="5.4" fill="#ff00ff"/><rect x="505.29" y="466.76" width="5.4" height="5.4" fill="#ff00ff"/><rect x="508.61" y="466.06" width="5.4" height="5.4" fill="#ff00ff"/><rect x="511.71" y="464.73" width="5.4" height="5.4" fill="#ff00ff"/><rect x="514.75" y="463.22" width="5.4" height="5.4" fill="#ff00ff"/><rect x="517.79" y="461.7" width="5.4" height="5.4" fill="#ff00ff"/><rect x="520.63" y="459.86" width="5.4" height="5.4" fill="#ff00ff"/><rect x="523.45" y="457.98" width="5.4" height="5.4" fill="#ff00ff"/><rect x="526.28" y="456.1" width="5.4" height="5.4" fill="#ff00ff"/><rect x="528.94" y="454" width="5.4" height="5.4" fill="#ff00ff"/><rect x="531.56" y="451.84" width="5.4" height="5.4" fill="#ff00ff"/><rect x="534.18" y="449.69" width="5.4" height="5.4" fill="#ff00ff"/><rect x="537.08" y="446.79" width="5.4" height="5.4" fill="#ff00ff"/><rect x="538.46" y="444.99" width="5.4" height="5.4" fill="#ff00ff"/><rect x="539.83" y="443.19" width="5.4" height="5.4" fill="#ff00ff"/><rect x="541.2" y="441.4" width="5.4" height="5.4" fill="#ff00ff"/><rect x="542.28" y="439.41" width="5.4" height="5.4" fill="#ff00ff"/><rect x="543.29" y="437.39" width="5.4" height="5.4" fill="#ff00ff"/><rect x="544.3" y="435.37" width="5.4" height="5.4" fill="#ff00ff"/><rect x="545.31" y="433.35" width="5.4" height="5.4" fill="#ff00ff"/><rect x="546.12" y="431.24" width="5.4" height="5.4" fill="#ff00ff"/><rect x="546.73" y="429.07" width="5.4" height="5.4" fill="#ff00ff"/><rect x="547.34" y="426.89" width="5.4" height="5.4" fill="#ff00ff"/><rect x="547.95" y="424.71" width="5.4" height="5.4" fill="#ff00ff"/><rect x="548.57" y="422.53" width="5.4" height="5.4" fill="#ff00ff"/><rect x="548.92" y="420.31" width="5.4" height="5.4" fill="#ff00ff"/><rect x="549.2" y="418.06" width="5.4" height="5.4" fill="#ff00ff"/><rect x="549.48" y="415.82" width="5.4" height="5.4" fill="#ff00ff"/><rect x="549.76" y="413.57" width="5.4" height="5.4" fill="#ff00ff"/><rect x="550.04" y="411.33" width="5.4" height="5.4" fill="#ff00ff"/><rect x="550.34" y="409.09" width="5.4" height="5.4" fill="#ff00ff"/><rect x="550.66" y="406.85" width="5.4" height="5.4" fill="#ff00ff"/><rect x="550.97" y="404.61" width="5.4" height="5.4" fill="#ff00ff"/><rect x="551.29" y="402.37" width="5.4" height="5.4" fill="#ff00ff"/><rect x="551.6" y="400.13" width="5.4" height="5.4" fill="#ff00ff"/><rect x="553.06" y="389.35" width="5.4" height="5.4" fill="#ff00ff"/><rect x="554.51" y="377.21" width="5.4" height="5.4" fill="#ff00ff"/><rect x="555.96" y="366.15" width="5.4" height="5.4" fill="#ff00ff"/><rect x="557.41" y="353.02" width="5.4" height="5.4" fill="#ff00ff"/><rect x="558.86" y="340.69" width="5.4" height="5.4" fill="#ff00ff"/><rect x="560.32" y="330.18" width="5.4" height="5.4" fill="#ff00ff"/><rect x="562.69" y="320.85" width="5.4" height="5.4" fill="#ff00ff"/><rect x="565.6" y="313.51" width="5.4" height="5.4" fill="#ff00ff"/><rect x="569.95" y="306.27" width="5.4" height="5.4" fill="#ff00ff"/><rect x="574.84" y="299.56" width="5.4" height="5.4" fill="#ff00ff"/><rect x="579.32" y="294.58" width="5.4" height="5.4" fill="#ff00ff"/><rect x="583.68" y="291.04" width="5.4" height="5.4" fill="#ff00ff"/><rect x="596.75" y="282.8" width="5.4" height="5.4" fill="#ff00ff"/><rect x="609.95" y="279.9" width="5.4" height="5.4" fill="#ff00ff"/><rect x="618.66" y="277.91" width="5.4" height="5.4" fill="#ff00ff"/><rect x="626.05" y="277.91" width="5.4" height="5.4" fill="#ff00ff"/><rect x="642.02" y="277" width="5.4" height="5.4" fill="#ff00ff"/><rect x="658.13" y="277.91" width="5.4" height="5.4" fill="#ff00ff"/></g>
</g>
<path d="M412.8 489.5V482.7M478.8 489.5V482.7M544.8 489.5V482.7M610.8 489.5V482.7M676.8 489.5V482.7M445.8 489.5V486M511.8 489.5V486M577.8 489.5V486M643.8 489.5V486M412.8 471.23H419.6M412.8 425.93H419.6M412.8 380.63H419.6M412.8 335.33H419.6M412.8 290.03H419.6M412.8 448.58H416.3M412.8 403.28H416.3M412.8 357.98H416.3M412.8 312.68H416.3" stroke="#000" stroke-width="1.75" fill="none"/>
<rect x="412.8" y="272" width="264" height="217.5" fill="none" stroke="#000" stroke-width="1.75"/>
<text x="405" y="293.43" font-family='"Liberation Sans", Arial, Helvetica, sans-serif' font-size="12" font-weight="bold" text-anchor="end" fill="#111" textLength="30.16" lengthAdjust="spacingAndGlyphs">1000</text>
<text x="405" y="338.73" font-family='"Liberation Sans", Arial, Helvetica, sans-serif' font-size="12" font-weight="bold" text-anchor="end" fill="#111" textLength="22.62" lengthAdjust="spacingAndGlyphs">500</text>
<text x="405" y="384.03" font-family='"Liberation Sans", Arial, Helvetica, sans-serif' font-size="12" font-weight="bold" text-anchor="end" fill="#111" textLength="7.54" lengthAdjust="spacingAndGlyphs">0</text>
<text x="405" y="429.33" font-family='"Liberation Sans", Arial, Helvetica, sans-serif' font-size="12" font-weight="bold" text-anchor="end" fill="#111" textLength="27.13" lengthAdjust="spacingAndGlyphs">-500</text>
<text x="405" y="474.63" font-family='"Liberation Sans", Arial, Helvetica, sans-serif' font-size="12" font-weight="bold" text-anchor="end" fill="#111" textLength="34.67" lengthAdjust="spacingAndGlyphs">-1000</text>
<text x="411.8" y="504.8" font-family='"Liberation Sans", Arial, Helvetica, sans-serif' font-size="12" font-weight="bold" text-anchor="middle" fill="#111" textLength="19.07" lengthAdjust="spacingAndGlyphs">-10</text>
<text x="477.8" y="504.8" font-family='"Liberation Sans", Arial, Helvetica, sans-serif' font-size="12" font-weight="bold" text-anchor="middle" fill="#111" textLength="11.73" lengthAdjust="spacingAndGlyphs">-5</text>
<text x="544.8" y="504.8" font-family='"Liberation Sans", Arial, Helvetica, sans-serif' font-size="12" font-weight="bold" text-anchor="middle" fill="#111" textLength="7.34" lengthAdjust="spacingAndGlyphs">0</text>
<text x="610.8" y="504.8" font-family='"Liberation Sans", Arial, Helvetica, sans-serif' font-size="12" font-weight="bold" text-anchor="middle" fill="#111" textLength="7.34" lengthAdjust="spacingAndGlyphs">5</text>
<text x="676.8" y="504.8" font-family='"Liberation Sans", Arial, Helvetica, sans-serif' font-size="12" font-weight="bold" text-anchor="middle" fill="#111" textLength="14.68" lengthAdjust="spacingAndGlyphs">10</text>
<text x="522.1" y="522.3" font-family='"Liberation Sans", Arial, Helvetica, sans-serif' font-size="12.3" font-weight="bold" text-anchor="start" fill="#111" textLength="50.1" lengthAdjust="spacingAndGlyphs">H (kOe)</text>
<text x="366.6" y="417.8" font-family='"Liberation Sans", Arial, Helvetica, sans-serif' font-size="12.5" font-weight="bold" text-anchor="start" fill="#111" textLength="84.5" lengthAdjust="spacingAndGlyphs" transform="rotate(-90 366.6 417.8)">M (emu/cm<tspan font-size="8.5" dy="-4.5">3</tspan><tspan dy="4.5">)</tspan></text>
<text x="635.9" y="408.1" font-family='"Liberation Sans", Arial, Helvetica, sans-serif' font-size="22.5" font-weight="bold" text-anchor="start" fill="#111" textLength="28.4" lengthAdjust="spacingAndGlyphs">(d)</text>
<text x="546.4" y="477" font-family='"Liberation Sans", Arial, Helvetica, sans-serif' font-size="13" font-weight="bold" text-anchor="start" fill="#111" textLength="129" lengthAdjust="spacingAndGlyphs">Cr<tspan font-size="9.6" dy="3.6" font-weight="normal">2</tspan><tspan dy="-3.6">O</tspan><tspan font-size="9.6" dy="3.6" font-weight="normal">3</tspan><tspan dy="-3.6">/Fe</tspan><tspan font-size="9.6" dy="3.6" font-weight="normal">72</tspan><tspan dy="-3.6">Ga</tspan><tspan font-size="9.6" dy="3.6" font-weight="normal">28</tspan><tspan dy="-3.6">(20 nm)</tspan></text>
<rect x="426.3" y="277" width="96.5" height="39.4" fill="#fff" stroke="#111" stroke-width="1"/>
<path d="M428.1 289.5H434.9M443.3 289.5H449.9" stroke="#333" stroke-width="1"/>
<rect x="436.8" y="287.3" width="4.4" height="4.4" fill="#fff" stroke="#000" stroke-width="1"/>
<path d="M428.1 308.3H434.9M443.3 308.3H449.9" stroke="#ff00ff" stroke-width="1"/>
<rect x="436.3" y="305.6" width="5.4" height="5.4" fill="#ff00ff"/>
<text x="452.8" y="292" font-family='"Liberation Sans", Arial, Helvetica, sans-serif' font-size="12.8" font-weight="bold" text-anchor="start" fill="#111">H</text>
<text x="467.9" y="290.8" font-family='"Liberation Sans", Arial, Helvetica, sans-serif' font-size="14.5" font-weight="normal" text-anchor="start" fill="#111" letter-spacing="2.7">||</text>
<text x="485" y="292" font-family='"Liberation Sans", Arial, Helvetica, sans-serif' font-size="12.8" font-weight="bold" text-anchor="start" fill="#111" textLength="35.8" lengthAdjust="spacingAndGlyphs">plane</text>
<text x="452.8" y="311.4" font-family='"Liberation Sans", Arial, Helvetica, sans-serif' font-size="12.8" font-weight="bold" text-anchor="start" fill="#111">H</text>
<text x="466.3" y="311.4" font-family='"DejaVu Sans", "Liberation Sans", Arial, Helvetica, sans-serif' font-size="12.6" font-weight="bold" text-anchor="start" fill="#111" textLength="12" lengthAdjust="spacingAndGlyphs">⊥</text>
<text x="481.6" y="311.4" font-family='"Liberation Sans", Arial, Helvetica, sans-serif' font-size="12.8" font-weight="bold" text-anchor="start" fill="#111" textLength="35.8" lengthAdjust="spacingAndGlyphs">plane</text>
</svg>
</body>
</html>
